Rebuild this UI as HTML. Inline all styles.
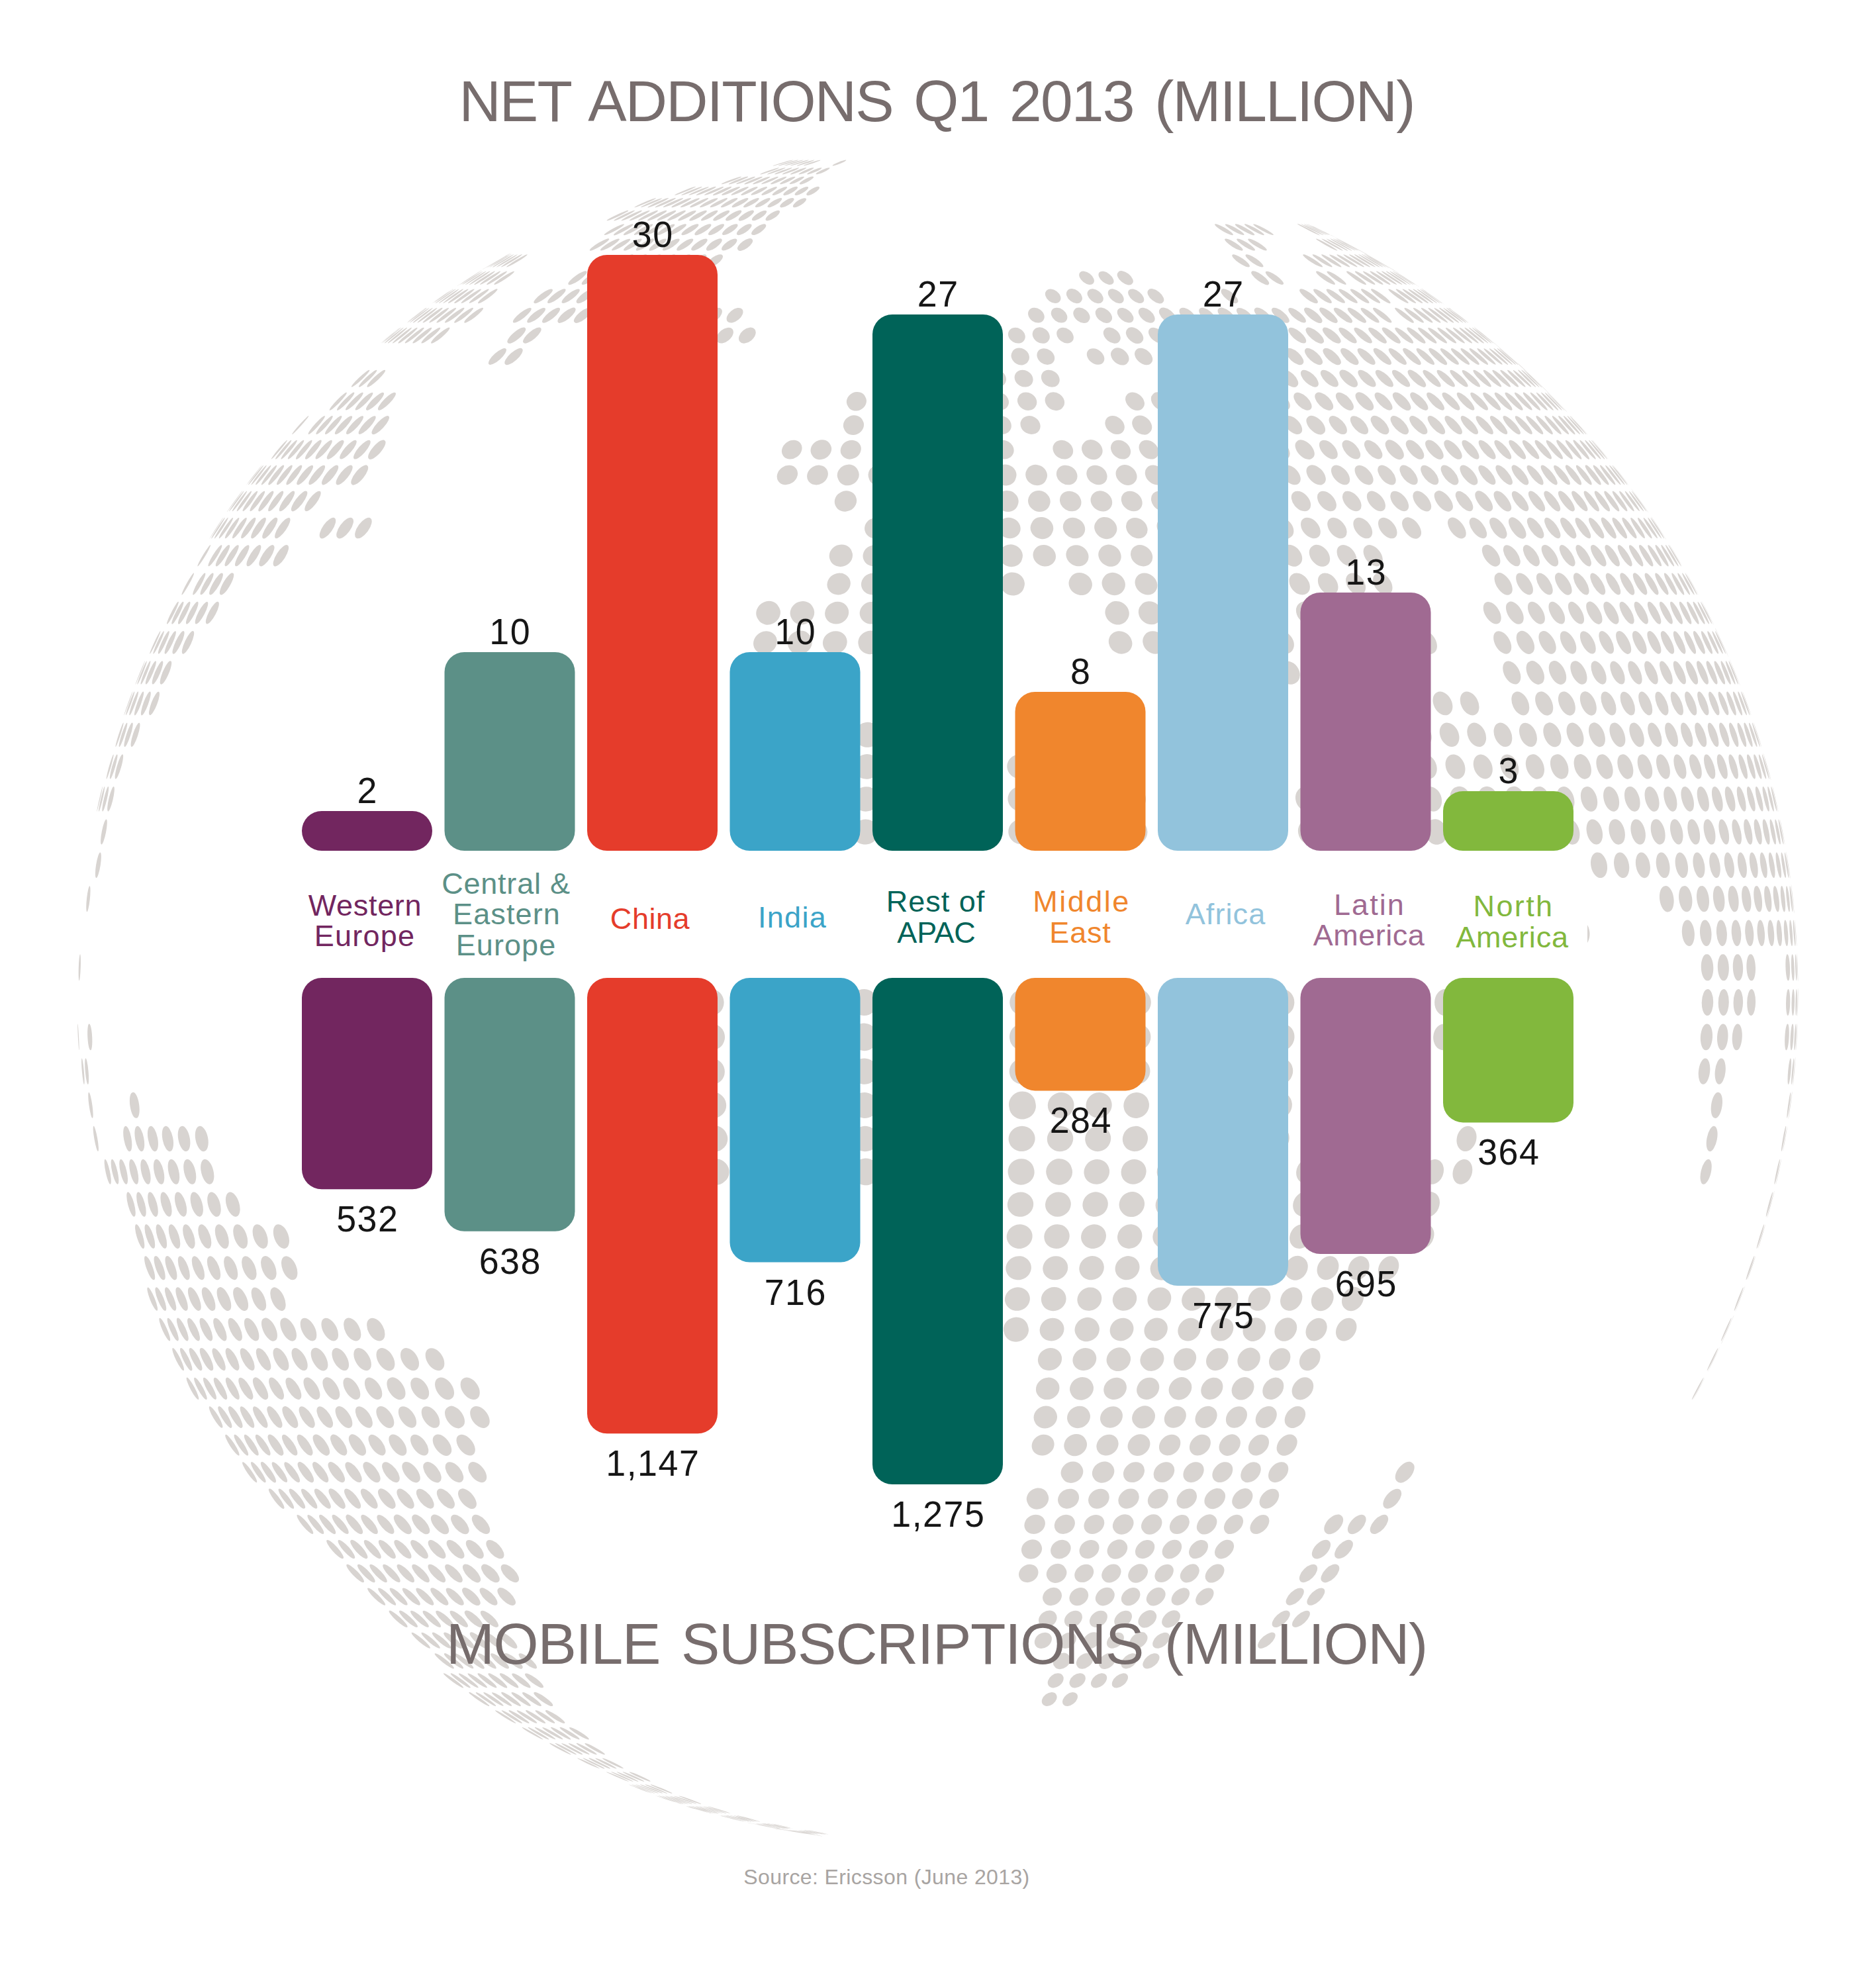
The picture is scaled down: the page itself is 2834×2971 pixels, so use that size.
<!DOCTYPE html><html><head><meta charset="utf-8"><title>Mobile subscriptions</title>
<style>html,body{margin:0;padding:0;background:#fff}svg{display:block}text{font-family:"Liberation Sans",sans-serif}</style></head><body>
<svg width="2834" height="2971" viewBox="0 0 2834 2971">
<rect width="2834" height="2971" fill="#fff"/>
<g id="dots" fill="#d8d4d1"><path d="M1198.3 241.7a15.9 0.7 164 1 0 -30.7 8.6a15.9 0.7 164 1 0 30.7 -8.6zM1205.7 241.7a15.5 0.8 164 1 0 -29.7 8.6a15.5 0.8 164 1 0 29.7 -8.6zM1213.5 241.7a15.0 0.8 163 1 0 -28.7 8.5a15.0 0.8 163 1 0 28.7 -8.5zM1221.7 241.7a14.5 0.9 163 1 0 -27.7 8.5a14.5 0.9 163 1 0 27.7 -8.5zM1230.3 241.8a13.9 1.0 162 1 0 -26.6 8.5a13.9 1.0 162 1 0 26.6 -8.5zM1239.2 241.8a13.4 1.1 162 1 0 -25.4 8.4a13.4 1.1 162 1 0 25.4 -8.4zM1278.3 241.9a11.1 1.5 158 1 0 -20.6 8.2a11.1 1.5 158 1 0 20.6 -8.2z"/>
<path d="M1176.8 253.4a15.1 1.1 161 1 0 -28.5 9.9a15.1 1.1 161 1 0 28.5 -9.9zM1186.5 253.4a14.6 1.2 160 1 0 -27.5 9.8a14.6 1.2 160 1 0 27.5 -9.8zM1196.6 253.4a14.1 1.3 160 1 0 -26.5 9.8a14.1 1.3 160 1 0 26.5 -9.8zM1207.2 253.5a13.6 1.4 159 1 0 -25.4 9.7a13.6 1.4 159 1 0 25.4 -9.7zM1218.2 253.5a13.1 1.6 158 1 0 -24.3 9.7a13.1 1.6 158 1 0 24.3 -9.7zM1229.5 253.5a12.5 1.7 157 1 0 -23.1 9.6a12.5 1.7 157 1 0 23.1 -9.6zM1241.3 253.6a12.0 1.8 157 1 0 -22.0 9.5a12.0 1.8 157 1 0 22.0 -9.5zM1253.4 253.6a11.4 2.0 156 1 0 -20.8 9.5a11.4 2.0 156 1 0 20.8 -9.5z"/>
<path d="M1119.9 266.9a16.1 1.3 160 1 0 -30.1 11.2a16.1 1.3 160 1 0 30.1 -11.2zM1130.0 266.9a15.7 1.4 159 1 0 -29.2 11.2a15.7 1.4 159 1 0 29.2 -11.2zM1140.7 266.9a15.2 1.5 159 1 0 -28.3 11.2a15.2 1.5 159 1 0 28.3 -11.2zM1151.8 267.0a14.8 1.6 158 1 0 -27.4 11.1a14.8 1.6 158 1 0 27.4 -11.1zM1163.5 267.0a14.3 1.7 157 1 0 -26.4 11.0a14.3 1.7 157 1 0 26.4 -11.0zM1175.7 267.0a13.8 1.8 157 1 0 -25.4 11.0a13.8 1.8 157 1 0 25.4 -11.0zM1188.3 267.1a13.3 2.0 156 1 0 -24.3 10.9a13.3 2.0 156 1 0 24.3 -10.9zM1201.4 267.1a12.8 2.1 155 1 0 -23.2 10.8a12.8 2.1 155 1 0 23.2 -10.8zM1214.9 267.1a12.3 2.3 154 1 0 -22.2 10.7a12.3 2.3 154 1 0 22.2 -10.7zM1228.9 267.2a11.8 2.5 153 1 0 -21.0 10.6a11.8 2.5 153 1 0 21.0 -10.6z"/>
<path d="M1051.1 282.1a17.2 1.2 158 1 0 -32.0 12.6a17.2 1.2 158 1 0 32.0 -12.6zM1060.6 282.2a16.9 1.3 158 1 0 -31.4 12.6a16.9 1.3 158 1 0 31.4 -12.6zM1070.8 282.2a16.5 1.4 158 1 0 -30.6 12.6a16.5 1.4 158 1 0 30.6 -12.6zM1081.6 282.2a16.2 1.6 157 1 0 -29.8 12.5a16.2 1.6 157 1 0 29.8 -12.5zM1093.1 282.2a15.8 1.7 157 1 0 -29.0 12.5a15.8 1.7 157 1 0 29.0 -12.5zM1105.1 282.3a15.4 1.8 156 1 0 -28.1 12.4a15.4 1.8 156 1 0 28.1 -12.4zM1117.7 282.3a15.0 2.0 156 1 0 -27.2 12.3a15.0 2.0 156 1 0 27.2 -12.3zM1130.9 282.3a14.5 2.1 155 1 0 -26.3 12.3a14.5 2.1 155 1 0 26.3 -12.3zM1144.7 282.4a14.1 2.3 154 1 0 -25.4 12.2a14.1 2.3 154 1 0 25.4 -12.2zM1159.0 282.4a13.6 2.4 154 1 0 -24.4 12.1a13.6 2.4 154 1 0 24.4 -12.1zM1173.8 282.5a13.1 2.6 153 1 0 -23.4 12.0a13.1 2.6 153 1 0 23.4 -12.0zM1189.1 282.5a12.6 2.8 152 1 0 -22.3 11.9a12.6 2.8 152 1 0 22.3 -11.9zM1204.8 282.6a12.2 3.0 151 1 0 -21.3 11.7a12.2 3.0 151 1 0 21.3 -11.7zM1221.0 282.7a11.7 3.2 150 1 0 -20.3 11.6a11.7 3.2 150 1 0 20.3 -11.6zM1237.7 282.8a11.2 3.4 149 1 0 -19.2 11.4a11.2 3.4 149 1 0 19.2 -11.4z"/>
<path d="M991.2 299.2a17.8 1.2 157 1 0 -32.8 14.0a17.8 1.2 157 1 0 32.8 -14.0zM1000.3 299.2a17.6 1.3 157 1 0 -32.2 13.9a17.6 1.3 157 1 0 32.2 -13.9zM1010.1 299.2a17.3 1.5 156 1 0 -31.6 13.9a17.3 1.5 156 1 0 31.6 -13.9zM1020.7 299.3a17.0 1.6 156 1 0 -31.0 13.8a17.0 1.6 156 1 0 31.0 -13.8zM1032.0 299.3a16.6 1.8 156 1 0 -30.3 13.8a16.6 1.8 156 1 0 30.3 -13.8zM1044.0 299.3a16.3 1.9 155 1 0 -29.5 13.7a16.3 1.9 155 1 0 29.5 -13.7zM1056.8 299.4a15.9 2.1 155 1 0 -28.8 13.7a15.9 2.1 155 1 0 28.8 -13.7zM1070.2 299.4a15.5 2.2 154 1 0 -28.0 13.6a15.5 2.2 154 1 0 28.0 -13.6zM1084.3 299.4a15.1 2.4 154 1 0 -27.1 13.5a15.1 2.4 154 1 0 27.1 -13.5zM1099.0 299.5a14.7 2.5 153 1 0 -26.3 13.4a14.7 2.5 153 1 0 26.3 -13.4zM1114.3 299.5a14.3 2.7 152 1 0 -25.4 13.3a14.3 2.7 152 1 0 25.4 -13.3zM1130.2 299.6a13.9 2.9 152 1 0 -24.4 13.2a13.9 2.9 152 1 0 24.4 -13.2zM1146.6 299.6a13.4 3.1 151 1 0 -23.5 13.1a13.4 3.1 151 1 0 23.5 -13.1zM1163.6 299.7a13.0 3.3 150 1 0 -22.6 12.9a13.0 3.3 150 1 0 22.6 -12.9zM1181.2 299.8a12.5 3.5 149 1 0 -21.6 12.8a12.5 3.5 149 1 0 21.6 -12.8zM1199.2 299.9a12.1 3.8 149 1 0 -20.6 12.6a12.1 3.8 149 1 0 20.6 -12.6zM1217.8 300.0a11.6 4.0 148 1 0 -19.7 12.4a11.6 4.0 148 1 0 19.7 -12.4z"/>
<path d="M949.1 318.0a17.9 1.5 155 1 0 -32.3 15.2a17.9 1.5 155 1 0 32.3 -15.2zM959.0 318.0a17.6 1.6 154 1 0 -31.8 15.2a17.6 1.6 154 1 0 31.8 -15.2zM969.8 318.1a17.3 1.8 154 1 0 -31.2 15.1a17.3 1.8 154 1 0 31.2 -15.1zM981.5 318.1a17.0 1.9 154 1 0 -30.6 15.1a17.0 1.9 154 1 0 30.6 -15.1zM993.9 318.1a16.7 2.1 153 1 0 -29.9 15.0a16.7 2.1 153 1 0 29.9 -15.0zM1007.2 318.2a16.4 2.3 153 1 0 -29.2 14.9a16.4 2.3 153 1 0 29.2 -14.9zM1021.2 318.2a16.1 2.4 153 1 0 -28.5 14.8a16.1 2.4 153 1 0 28.5 -14.8zM1035.9 318.2a15.7 2.6 152 1 0 -27.8 14.8a15.7 2.6 152 1 0 27.8 -14.8zM1051.4 318.3a15.4 2.8 152 1 0 -27.0 14.7a15.4 2.8 152 1 0 27.0 -14.7zM1067.6 318.4a15.0 3.0 151 1 0 -26.2 14.5a15.0 3.0 151 1 0 26.2 -14.5zM1084.4 318.4a14.6 3.2 150 1 0 -25.4 14.4a14.6 3.2 150 1 0 25.4 -14.4zM1101.9 318.5a14.2 3.4 150 1 0 -24.5 14.3a14.2 3.4 150 1 0 24.5 -14.3zM1120.0 318.5a13.8 3.6 149 1 0 -23.6 14.1a13.8 3.6 149 1 0 23.6 -14.1zM1138.7 318.6a13.4 3.9 148 1 0 -22.8 14.0a13.4 3.9 148 1 0 22.8 -14.0zM1158.0 318.7a12.9 4.1 148 1 0 -21.9 13.8a12.9 4.1 148 1 0 21.9 -13.8zM1177.8 318.8a12.5 4.4 147 1 0 -21.0 13.6a12.5 4.4 147 1 0 21.0 -13.6z"/>
<path d="M943.0 338.6a17.1 2.2 152 1 0 -30.2 16.2a17.1 2.2 152 1 0 30.2 -16.2zM956.6 338.7a16.9 2.4 151 1 0 -29.6 16.2a16.9 2.4 151 1 0 29.6 -16.2zM971.0 338.7a16.6 2.6 151 1 0 -28.9 16.1a16.6 2.6 151 1 0 28.9 -16.1zM986.3 338.7a16.2 2.8 151 1 0 -28.3 16.0a16.2 2.8 151 1 0 28.3 -16.0zM1002.4 338.8a15.9 3.0 150 1 0 -27.6 15.9a15.9 3.0 150 1 0 27.6 -15.9zM1019.2 338.9a15.6 3.2 150 1 0 -26.9 15.8a15.6 3.2 150 1 0 26.9 -15.8zM1036.8 338.9a15.2 3.5 149 1 0 -26.1 15.6a15.2 3.5 149 1 0 26.1 -15.6zM1055.1 339.0a14.9 3.7 149 1 0 -25.4 15.5a14.9 3.7 149 1 0 25.4 -15.5zM1074.2 339.1a14.5 3.9 148 1 0 -24.6 15.3a14.5 3.9 148 1 0 24.6 -15.3zM1093.9 339.1a14.1 4.2 147 1 0 -23.8 15.2a14.1 4.2 147 1 0 23.8 -15.2zM1114.3 339.2a13.7 4.4 147 1 0 -23.0 15.0a13.7 4.4 147 1 0 23.0 -15.0zM1135.3 339.3a13.3 4.7 146 1 0 -22.2 14.8a13.3 4.7 146 1 0 22.2 -14.8zM1156.9 339.4a12.9 4.9 146 1 0 -21.4 14.6a12.9 4.9 146 1 0 21.4 -14.6zM1835.1 338.8a16.0 3.0 30 1 0 27.8 15.9a16.0 3.0 30 1 0 -27.8 -15.9zM1850.9 338.7a16.3 2.8 29 1 0 28.5 16.0a16.3 2.8 29 1 0 -28.5 -16.0zM1865.9 338.7a16.7 2.6 29 1 0 29.2 16.1a16.7 2.6 29 1 0 -29.2 -16.1zM1880.0 338.6a16.9 2.4 29 1 0 29.8 16.2a16.9 2.4 29 1 0 -29.8 -16.2zM1893.3 338.6a17.2 2.2 28 1 0 30.4 16.3a17.2 2.2 28 1 0 -30.4 -16.3zM1960.2 338.4a18.6 1.0 27 1 0 33.4 16.6a18.6 1.0 27 1 0 -33.4 -16.6zM1965.7 338.4a18.8 0.8 26 1 0 33.6 16.7a18.8 0.8 26 1 0 -33.6 -16.7zM1970.1 338.4a18.9 0.6 26 1 0 33.8 16.7a18.9 0.6 26 1 0 -33.8 -16.7zM1973.4 338.4a18.9 0.4 26 1 0 34.0 16.7a18.9 0.4 26 1 0 -34.0 -16.7zM1975.5 338.4a19.0 0.2 26 1 0 34.0 16.7a19.0 0.2 26 1 0 -34.0 -16.7zM1976.5 338.4a19.0 0.1 26 1 0 34.1 16.7a19.0 0.1 26 1 0 -34.1 -16.7z"/>
<path d="M920.1 360.8a17.0 2.8 149 1 0 -29.2 17.3a17.0 2.8 149 1 0 29.2 -17.3zM935.7 360.9a16.7 3.0 149 1 0 -28.6 17.2a16.7 3.0 149 1 0 28.6 -17.2zM952.1 361.0a16.4 3.2 149 1 0 -28.0 17.1a16.4 3.2 149 1 0 28.0 -17.1zM969.5 361.0a16.1 3.5 148 1 0 -27.4 17.0a16.1 3.5 148 1 0 27.4 -17.0zM987.7 361.1a15.8 3.7 148 1 0 -26.7 16.8a15.8 3.7 148 1 0 26.7 -16.8zM1006.7 361.2a15.5 3.9 147 1 0 -26.1 16.7a15.5 3.9 147 1 0 26.1 -16.7zM1026.5 361.2a15.1 4.2 147 1 0 -25.4 16.5a15.1 4.2 147 1 0 25.4 -16.5zM1047.1 361.3a14.8 4.4 146 1 0 -24.7 16.4a14.8 4.4 146 1 0 24.7 -16.4zM1068.4 361.4a14.4 4.7 146 1 0 -23.9 16.2a14.4 4.7 146 1 0 23.9 -16.2zM1090.4 361.5a14.1 5.0 145 1 0 -23.2 16.0a14.1 5.0 145 1 0 23.2 -16.0zM1113.0 361.6a13.7 5.2 145 1 0 -22.5 15.8a13.7 5.2 145 1 0 22.5 -15.8zM1136.4 361.7a13.4 5.5 144 1 0 -21.7 15.5a13.4 5.5 144 1 0 21.7 -15.5zM1850.4 361.1a15.9 3.6 32 1 0 26.9 16.9a15.9 3.6 32 1 0 -26.9 -16.9zM1868.3 361.0a16.2 3.4 32 1 0 27.6 17.0a16.2 3.4 32 1 0 -27.6 -17.0zM1885.4 360.9a16.5 3.2 31 1 0 28.2 17.1a16.5 3.2 31 1 0 -28.2 -17.1zM1988.1 360.6a18.3 1.5 29 1 0 32.1 17.8a18.3 1.5 29 1 0 -32.1 -17.8zM1996.4 360.6a18.5 1.3 29 1 0 32.4 17.8a18.5 1.3 29 1 0 -32.4 -17.8zM2003.5 360.6a18.6 1.1 29 1 0 32.7 17.9a18.6 1.1 29 1 0 -32.7 -17.9zM2009.4 360.6a18.7 0.9 29 1 0 32.9 17.9a18.7 0.9 29 1 0 -32.9 -17.9zM2014.2 360.5a18.8 0.7 28 1 0 33.1 17.9a18.8 0.7 28 1 0 -33.1 -17.9zM2017.8 360.5a18.9 0.5 28 1 0 33.2 17.9a18.9 0.5 28 1 0 -33.2 -17.9zM2020.1 360.5a18.9 0.3 28 1 0 33.3 18.0a18.9 0.3 28 1 0 -33.3 -18.0zM2021.1 360.5a18.9 0.1 28 1 0 33.3 18.0a18.9 0.1 28 1 0 -33.3 -18.0z"/>
<path d="M767.7 384.3a18.9 0.2 150 1 0 -32.5 19.2a18.9 0.2 150 1 0 32.5 -19.2zM769.3 384.3a18.9 0.4 149 1 0 -32.5 19.2a18.9 0.4 149 1 0 32.5 -19.2zM772.2 384.3a18.8 0.6 149 1 0 -32.4 19.1a18.8 0.6 149 1 0 32.4 -19.1zM776.5 384.3a18.8 0.9 149 1 0 -32.3 19.1a18.8 0.9 149 1 0 32.3 -19.1zM782.0 384.3a18.7 1.1 149 1 0 -32.1 19.1a18.7 1.1 149 1 0 32.1 -19.1zM788.8 384.3a18.6 1.3 149 1 0 -31.9 19.0a18.6 1.3 149 1 0 31.9 -19.0zM796.7 384.4a18.4 1.6 149 1 0 -31.6 19.0a18.4 1.6 149 1 0 31.6 -19.0zM956.9 384.9a16.0 4.2 146 1 0 -26.6 17.9a16.0 4.2 146 1 0 26.6 -17.9zM977.3 385.0a15.7 4.4 146 1 0 -26.0 17.7a15.7 4.4 146 1 0 26.0 -17.7zM998.5 385.1a15.4 4.7 145 1 0 -25.3 17.6a15.4 4.7 145 1 0 25.3 -17.6zM1020.6 385.2a15.1 5.0 145 1 0 -24.7 17.4a15.1 5.0 145 1 0 24.7 -17.4zM1043.4 385.3a14.8 5.2 144 1 0 -24.1 17.2a14.8 5.2 144 1 0 24.1 -17.2zM1067.0 385.4a14.4 5.5 144 1 0 -23.4 17.0a14.4 5.5 144 1 0 23.4 -17.0zM1091.3 385.5a14.1 5.8 144 1 0 -22.7 16.7a14.1 5.8 144 1 0 22.7 -16.7zM1861.5 385.0a15.8 4.3 34 1 0 26.2 17.8a15.8 4.3 34 1 0 -26.2 -17.8zM1881.6 384.9a16.1 4.1 34 1 0 26.8 17.9a16.1 4.1 34 1 0 -26.8 -17.9zM1968.4 384.6a17.4 2.9 32 1 0 29.5 18.6a17.4 2.9 32 1 0 -29.5 -18.6zM1982.7 384.5a17.6 2.6 32 1 0 29.9 18.6a17.6 2.6 32 1 0 -29.9 -18.6zM1996.1 384.5a17.8 2.4 32 1 0 30.4 18.7a17.8 2.4 32 1 0 -30.4 -18.7zM2008.3 384.5a18.0 2.2 31 1 0 30.8 18.8a18.0 2.2 31 1 0 -30.8 -18.8zM2019.4 384.4a18.2 1.9 31 1 0 31.1 18.9a18.2 1.9 31 1 0 -31.1 -18.9zM2029.4 384.4a18.3 1.7 31 1 0 31.4 18.9a18.3 1.7 31 1 0 -31.4 -18.9zM2038.2 384.4a18.5 1.5 31 1 0 31.7 19.0a18.5 1.5 31 1 0 -31.7 -19.0zM2045.8 384.3a18.6 1.3 31 1 0 32.0 19.0a18.6 1.3 31 1 0 -32.0 -19.0zM2052.2 384.3a18.7 1.0 31 1 0 32.2 19.1a18.7 1.0 31 1 0 -32.2 -19.1zM2057.3 384.3a18.8 0.8 31 1 0 32.3 19.1a18.8 0.8 31 1 0 -32.3 -19.1zM2061.1 384.3a18.8 0.6 31 1 0 32.4 19.1a18.8 0.6 31 1 0 -32.4 -19.1zM2063.6 384.3a18.9 0.3 31 1 0 32.5 19.2a18.9 0.3 31 1 0 -32.5 -19.2zM2064.8 384.3a18.9 0.1 30 1 0 32.6 19.2a18.9 0.1 30 1 0 -32.6 -19.2z"/>
<path d="M725.2 409.6a18.8 0.2 147 1 0 -31.7 20.3a18.8 0.2 147 1 0 31.7 -20.3zM726.8 409.6a18.8 0.4 147 1 0 -31.7 20.3a18.8 0.4 147 1 0 31.7 -20.3zM729.9 409.6a18.8 0.7 147 1 0 -31.6 20.3a18.8 0.7 147 1 0 31.6 -20.3zM734.5 409.7a18.7 1.0 147 1 0 -31.5 20.3a18.7 1.0 147 1 0 31.5 -20.3zM740.3 409.7a18.7 1.2 147 1 0 -31.3 20.2a18.7 1.2 147 1 0 31.3 -20.2zM747.6 409.7a18.6 1.5 147 1 0 -31.1 20.2a18.6 1.5 147 1 0 31.1 -20.2zM756.1 409.7a18.4 1.8 147 1 0 -30.9 20.1a18.4 1.8 147 1 0 30.9 -20.1zM765.9 409.8a18.3 2.0 147 1 0 -30.7 20.1a18.3 2.0 147 1 0 30.7 -20.1zM776.9 409.8a18.2 2.3 147 1 0 -30.4 20.0a18.2 2.3 147 1 0 30.4 -20.0zM886.2 410.2a16.8 4.1 145 1 0 -27.5 19.2a16.8 4.1 145 1 0 27.5 -19.2zM906.0 410.3a16.5 4.4 145 1 0 -27.0 19.1a16.5 4.4 145 1 0 27.0 -19.1zM1631.3 411.8a13.0 8.0 38 1 0 20.5 16.0a13.0 8.0 38 1 0 -20.5 -16.0zM1660.5 411.6a13.3 7.6 38 1 0 21.0 16.5a13.3 7.6 38 1 0 -21.0 -16.5zM1689.0 411.4a13.7 7.3 38 1 0 21.5 16.8a13.7 7.3 38 1 0 -21.5 -16.8zM1890.7 410.4a16.1 4.8 36 1 0 26.0 18.8a16.1 4.8 36 1 0 -26.0 -18.8zM1912.1 410.3a16.3 4.5 35 1 0 26.6 19.0a16.3 4.5 35 1 0 -26.6 -19.0zM1988.2 410.0a17.3 3.5 34 1 0 28.6 19.5a17.3 3.5 34 1 0 -28.6 -19.5zM2004.6 410.0a17.5 3.2 34 1 0 29.0 19.6a17.5 3.2 34 1 0 -29.0 -19.6zM2034.1 409.9a17.9 2.7 34 1 0 29.8 19.9a17.9 2.7 34 1 0 -29.8 -19.9zM2047.1 409.8a18.1 2.4 33 1 0 30.1 19.9a18.1 2.4 33 1 0 -30.1 -19.9zM2059.0 409.8a18.2 2.2 33 1 0 30.5 20.0a18.2 2.2 33 1 0 -30.5 -20.0zM2069.6 409.8a18.4 1.9 33 1 0 30.7 20.1a18.4 1.9 33 1 0 -30.7 -20.1zM2079.0 409.7a18.5 1.7 33 1 0 31.0 20.2a18.5 1.7 33 1 0 -31.0 -20.2zM2087.1 409.7a18.6 1.4 33 1 0 31.2 20.2a18.6 1.4 33 1 0 -31.2 -20.2zM2093.9 409.7a18.7 1.2 33 1 0 31.4 20.3a18.7 1.2 33 1 0 -31.4 -20.3zM2099.4 409.7a18.7 0.9 33 1 0 31.5 20.3a18.7 0.9 33 1 0 -31.5 -20.3zM2103.5 409.6a18.8 0.6 33 1 0 31.6 20.3a18.8 0.6 33 1 0 -31.6 -20.3zM2106.2 409.6a18.8 0.4 33 1 0 31.7 20.3a18.8 0.4 33 1 0 -31.7 -20.3zM2107.4 409.6a18.8 0.1 33 1 0 31.7 20.4a18.8 0.1 33 1 0 -31.7 -20.4z"/>
<path d="M683.7 436.5a18.8 0.2 145 1 0 -30.9 21.5a18.8 0.2 145 1 0 30.9 -21.5zM685.4 436.5a18.8 0.5 145 1 0 -30.8 21.5a18.8 0.5 145 1 0 30.8 -21.5zM688.7 436.5a18.8 0.8 145 1 0 -30.8 21.5a18.8 0.8 145 1 0 30.8 -21.5zM693.5 436.6a18.7 1.1 145 1 0 -30.7 21.4a18.7 1.1 145 1 0 30.7 -21.4zM699.8 436.6a18.6 1.4 145 1 0 -30.5 21.4a18.6 1.4 145 1 0 30.5 -21.4zM707.4 436.6a18.6 1.7 145 1 0 -30.4 21.3a18.6 1.7 145 1 0 30.4 -21.3zM716.5 436.6a18.5 2.0 145 1 0 -30.2 21.3a18.5 2.0 145 1 0 30.2 -21.3zM726.8 436.7a18.3 2.2 145 1 0 -30.0 21.2a18.3 2.2 145 1 0 30.0 -21.2zM738.5 436.7a18.2 2.5 145 1 0 -29.7 21.1a18.2 2.5 145 1 0 29.7 -21.1zM751.5 436.8a18.1 2.8 144 1 0 -29.4 21.0a18.1 2.8 144 1 0 29.4 -21.0zM834.4 437.1a17.2 4.2 144 1 0 -27.6 20.4a17.2 4.2 144 1 0 27.6 -20.4zM854.4 437.1a16.9 4.5 143 1 0 -27.2 20.2a16.9 4.5 143 1 0 27.2 -20.2zM875.5 437.2a16.7 4.8 143 1 0 -26.7 20.1a16.7 4.8 143 1 0 26.7 -20.1zM897.5 437.3a16.5 5.1 143 1 0 -26.2 19.9a16.5 5.1 143 1 0 26.2 -19.9zM1580.4 439.5a12.9 9.3 37 1 0 20.6 15.6a12.9 9.3 37 1 0 -20.6 -15.6zM1612.5 439.1a13.2 8.9 38 1 0 20.8 16.2a13.2 8.9 38 1 0 -20.8 -16.2zM1644.1 438.9a13.5 8.6 38 1 0 21.1 16.8a13.5 8.6 38 1 0 -21.1 -16.8zM1675.0 438.6a13.8 8.2 39 1 0 21.5 17.3a13.8 8.2 39 1 0 -21.5 -17.3zM1705.2 438.4a14.1 7.9 39 1 0 22.0 17.7a14.1 7.9 39 1 0 -22.0 -17.7zM1734.7 438.3a14.4 7.5 39 1 0 22.4 18.0a14.4 7.5 39 1 0 -22.4 -18.0zM1845.2 437.7a15.5 6.2 38 1 0 24.4 19.1a15.5 6.2 38 1 0 -24.4 -19.1zM1963.6 437.2a16.8 4.7 37 1 0 26.8 20.1a16.8 4.7 37 1 0 -26.8 -20.1zM1984.3 437.1a17.0 4.4 37 1 0 27.3 20.3a17.0 4.4 37 1 0 -27.3 -20.3zM2003.9 437.0a17.2 4.1 36 1 0 27.7 20.4a17.2 4.1 36 1 0 -27.7 -20.4zM2022.5 437.0a17.4 3.8 36 1 0 28.1 20.6a17.4 3.8 36 1 0 -28.1 -20.6zM2039.9 436.9a17.6 3.6 36 1 0 28.5 20.7a17.6 3.6 36 1 0 -28.5 -20.7zM2056.1 436.8a17.8 3.3 36 1 0 28.9 20.8a17.8 3.3 36 1 0 -28.9 -20.8zM2071.2 436.8a18.0 3.0 36 1 0 29.2 20.9a18.0 3.0 36 1 0 -29.2 -20.9zM2097.6 436.7a18.3 2.4 35 1 0 29.8 21.1a18.3 2.4 35 1 0 -29.8 -21.1zM2108.9 436.7a18.4 2.2 35 1 0 30.0 21.2a18.4 2.2 35 1 0 -30.0 -21.2zM2118.8 436.6a18.5 1.9 35 1 0 30.2 21.3a18.5 1.9 35 1 0 -30.2 -21.3zM2127.4 436.6a18.6 1.6 35 1 0 30.4 21.3a18.6 1.6 35 1 0 -30.4 -21.3zM2134.6 436.6a18.7 1.3 35 1 0 30.6 21.4a18.7 1.3 35 1 0 -30.6 -21.4zM2140.4 436.5a18.7 1.0 35 1 0 30.7 21.4a18.7 1.0 35 1 0 -30.7 -21.4zM2144.8 436.5a18.8 0.7 35 1 0 30.8 21.5a18.8 0.7 35 1 0 -30.8 -21.5zM2147.6 436.5a18.8 0.4 35 1 0 30.9 21.5a18.8 0.4 35 1 0 -30.9 -21.5zM2148.9 436.5a18.8 0.1 35 1 0 30.9 21.5a18.8 0.1 35 1 0 -30.9 -21.5z"/>
<path d="M643.3 464.9a18.8 0.2 143 1 0 -30.0 22.6a18.8 0.2 143 1 0 30.0 -22.6zM645.1 464.9a18.8 0.6 143 1 0 -30.0 22.6a18.8 0.6 143 1 0 30.0 -22.6zM648.6 464.9a18.7 0.9 143 1 0 -29.9 22.6a18.7 0.9 143 1 0 29.9 -22.6zM653.7 465.0a18.7 1.2 143 1 0 -29.8 22.5a18.7 1.2 143 1 0 29.8 -22.5zM660.3 465.0a18.6 1.5 143 1 0 -29.7 22.5a18.6 1.5 143 1 0 29.7 -22.5zM668.4 465.0a18.6 1.9 143 1 0 -29.6 22.4a18.6 1.9 143 1 0 29.6 -22.4zM677.9 465.0a18.5 2.2 143 1 0 -29.4 22.4a18.5 2.2 143 1 0 29.4 -22.4zM688.9 465.1a18.4 2.5 143 1 0 -29.2 22.3a18.4 2.5 143 1 0 29.2 -22.3zM701.2 465.1a18.3 2.8 143 1 0 -29.0 22.2a18.3 2.8 143 1 0 29.0 -22.2zM714.9 465.2a18.1 3.1 142 1 0 -28.7 22.1a18.1 3.1 142 1 0 28.7 -22.1zM729.9 465.2a18.0 3.4 142 1 0 -28.5 22.0a18.0 3.4 142 1 0 28.5 -22.0zM802.4 465.5a17.3 4.6 142 1 0 -27.2 21.4a17.3 4.6 142 1 0 27.2 -21.4zM823.5 465.6a17.1 5.0 142 1 0 -26.8 21.3a17.1 5.0 142 1 0 26.8 -21.3zM845.7 465.7a16.9 5.3 141 1 0 -26.4 21.1a16.9 5.3 141 1 0 26.4 -21.1zM869.0 465.8a16.7 5.6 141 1 0 -26.0 20.9a16.7 5.6 141 1 0 26.0 -20.9zM893.3 465.9a16.5 5.9 141 1 0 -25.6 20.7a16.5 5.9 141 1 0 25.6 -20.7zM1089.8 466.9a14.7 8.2 140 1 0 -22.7 18.7a14.7 8.2 140 1 0 22.7 -18.7zM1121.2 467.1a14.4 8.6 141 1 0 -22.3 18.3a14.4 8.6 141 1 0 22.3 -18.3zM1554.6 468.6a13.2 10.3 35 1 0 21.6 15.2a13.2 10.3 35 1 0 -21.6 -15.2zM1589.3 468.1a13.4 9.9 37 1 0 21.5 16.2a13.4 9.9 37 1 0 -21.5 -16.2zM1623.2 467.8a13.7 9.5 38 1 0 21.5 16.9a13.7 9.5 38 1 0 -21.5 -16.9zM1656.5 467.5a14.0 9.2 39 1 0 21.8 17.5a14.0 9.2 39 1 0 -21.8 -17.5zM1689.1 467.2a14.2 8.8 39 1 0 22.0 18.0a14.2 8.8 39 1 0 -22.0 -18.0zM1721.0 467.0a14.5 8.5 40 1 0 22.4 18.5a14.5 8.5 40 1 0 -22.4 -18.5zM1752.2 466.8a14.8 8.1 40 1 0 22.8 18.8a14.8 8.1 40 1 0 -22.8 -18.8zM1782.5 466.6a15.0 7.8 40 1 0 23.2 19.2a15.0 7.8 40 1 0 -23.2 -19.2zM1812.1 466.5a15.3 7.4 40 1 0 23.6 19.5a15.3 7.4 40 1 0 -23.6 -19.5zM1840.8 466.3a15.6 7.1 39 1 0 24.0 19.8a15.6 7.1 39 1 0 -24.0 -19.8zM1868.7 466.2a15.8 6.8 39 1 0 24.5 20.1a15.8 6.8 39 1 0 -24.5 -20.1zM1895.7 466.1a16.1 6.5 39 1 0 24.9 20.3a16.1 6.5 39 1 0 -24.9 -20.3zM1921.7 466.0a16.3 6.1 39 1 0 25.3 20.5a16.3 6.1 39 1 0 -25.3 -20.5zM1946.7 465.9a16.5 5.8 39 1 0 25.7 20.7a16.5 5.8 39 1 0 -25.7 -20.7zM1970.7 465.8a16.8 5.5 39 1 0 26.1 20.9a16.8 5.5 39 1 0 -26.1 -20.9zM1993.7 465.7a17.0 5.2 39 1 0 26.5 21.1a17.0 5.2 39 1 0 -26.5 -21.1zM2015.5 465.6a17.2 4.9 38 1 0 26.9 21.3a17.2 4.9 38 1 0 -26.9 -21.3zM2036.2 465.5a17.4 4.5 38 1 0 27.3 21.5a17.4 4.5 38 1 0 -27.3 -21.5zM2055.8 465.4a17.5 4.2 38 1 0 27.6 21.6a17.5 4.2 38 1 0 -27.6 -21.6zM2074.2 465.3a17.7 3.9 38 1 0 28.0 21.8a17.7 3.9 38 1 0 -28.0 -21.8zM2107.2 465.2a18.0 3.3 38 1 0 28.6 22.0a18.0 3.3 38 1 0 -28.6 -22.0zM2121.8 465.2a18.2 3.0 37 1 0 28.8 22.1a18.2 3.0 37 1 0 -28.8 -22.1zM2135.1 465.1a18.3 2.7 37 1 0 29.1 22.2a18.3 2.7 37 1 0 -29.1 -22.2zM2147.0 465.1a18.4 2.4 37 1 0 29.3 22.3a18.4 2.4 37 1 0 -29.3 -22.3zM2157.5 465.0a18.5 2.1 37 1 0 29.5 22.4a18.5 2.1 37 1 0 -29.5 -22.4zM2166.6 465.0a18.6 1.8 37 1 0 29.6 22.5a18.6 1.8 37 1 0 -29.6 -22.5zM2174.3 465.0a18.7 1.4 37 1 0 29.8 22.5a18.7 1.4 37 1 0 -29.8 -22.5zM2180.4 464.9a18.7 1.1 37 1 0 29.9 22.6a18.7 1.1 37 1 0 -29.9 -22.6zM2184.9 464.9a18.8 0.8 37 1 0 29.9 22.6a18.8 0.8 37 1 0 -29.9 -22.6zM2187.9 464.9a18.8 0.5 37 1 0 30.0 22.6a18.8 0.5 37 1 0 -30.0 -22.6zM2189.3 464.9a18.8 0.1 37 1 0 30.0 22.6a18.8 0.1 37 1 0 -30.0 -22.6z"/>
<path d="M604.1 494.8a18.8 0.2 141 1 0 -29.1 23.7a18.8 0.2 141 1 0 29.1 -23.7zM606.0 494.8a18.8 0.6 141 1 0 -29.1 23.7a18.8 0.6 141 1 0 29.1 -23.7zM609.7 494.8a18.7 1.0 141 1 0 -29.0 23.7a18.7 1.0 141 1 0 29.0 -23.7zM615.0 494.8a18.7 1.3 141 1 0 -28.9 23.6a18.7 1.3 141 1 0 28.9 -23.6zM621.9 494.9a18.6 1.7 141 1 0 -28.9 23.6a18.6 1.7 141 1 0 28.9 -23.6zM630.4 494.9a18.6 2.0 141 1 0 -28.7 23.5a18.6 2.0 141 1 0 28.7 -23.5zM640.5 494.9a18.5 2.4 141 1 0 -28.6 23.4a18.5 2.4 141 1 0 28.6 -23.4zM652.0 495.0a18.4 2.7 141 1 0 -28.4 23.3a18.4 2.7 141 1 0 28.4 -23.3zM665.0 495.0a18.3 3.1 141 1 0 -28.3 23.2a18.3 3.1 141 1 0 28.3 -23.2zM679.3 495.1a18.2 3.4 140 1 0 -28.1 23.1a18.2 3.4 140 1 0 28.1 -23.1zM793.5 495.5a17.3 5.4 140 1 0 -26.4 22.2a17.3 5.4 140 1 0 26.4 -22.2zM816.9 495.6a17.1 5.7 140 1 0 -26.1 22.0a17.1 5.7 140 1 0 26.1 -22.0zM1106.4 497.1a14.8 9.2 140 1 0 -22.7 19.1a14.8 9.2 140 1 0 22.7 -19.1zM1140.1 497.3a14.6 9.5 140 1 0 -22.5 18.6a14.6 9.5 140 1 0 22.5 -18.6zM1524.3 499.7a13.5 11.2 31 1 0 23.1 14.0a13.5 11.2 31 1 0 -23.1 -14.0zM1561.5 498.8a13.7 10.9 35 1 0 22.5 15.6a13.7 10.9 35 1 0 -22.5 -15.6zM1597.9 498.3a13.9 10.5 37 1 0 22.3 16.8a13.9 10.5 37 1 0 -22.3 -16.8zM1668.6 497.5a14.4 9.8 39 1 0 22.3 18.2a14.4 9.8 39 1 0 -22.3 -18.2zM1702.8 497.3a14.7 9.4 40 1 0 22.5 18.8a14.7 9.4 40 1 0 -22.5 -18.8zM1736.4 497.0a14.9 9.1 40 1 0 22.8 19.3a14.9 9.1 40 1 0 -22.8 -19.3zM1769.1 496.8a15.2 8.7 40 1 0 23.1 19.7a15.2 8.7 40 1 0 -23.1 -19.7zM1801.0 496.6a15.4 8.4 41 1 0 23.4 20.0a15.4 8.4 41 1 0 -23.4 -20.0zM1832.1 496.5a15.6 8.0 41 1 0 23.8 20.4a15.6 8.0 41 1 0 -23.8 -20.4zM1862.3 496.3a15.9 7.7 41 1 0 24.1 20.7a15.9 7.7 41 1 0 -24.1 -20.7zM1891.6 496.2a16.1 7.3 41 1 0 24.5 21.0a16.1 7.3 41 1 0 -24.5 -21.0zM1919.9 496.0a16.3 7.0 41 1 0 24.8 21.2a16.3 7.0 41 1 0 -24.8 -21.2zM1947.2 495.9a16.5 6.6 40 1 0 25.2 21.5a16.5 6.6 40 1 0 -25.2 -21.5zM1973.5 495.8a16.8 6.3 40 1 0 25.5 21.7a16.8 6.3 40 1 0 -25.5 -21.7zM1998.8 495.7a17.0 6.0 40 1 0 25.9 21.9a17.0 6.0 40 1 0 -25.9 -21.9zM2022.9 495.6a17.1 5.6 40 1 0 26.2 22.1a17.1 5.6 40 1 0 -26.2 -22.1zM2045.9 495.5a17.3 5.3 40 1 0 26.5 22.3a17.3 5.3 40 1 0 -26.5 -22.3zM2067.6 495.4a17.5 5.0 40 1 0 26.8 22.5a17.5 5.0 40 1 0 -26.8 -22.5zM2088.2 495.3a17.7 4.6 40 1 0 27.1 22.6a17.7 4.6 40 1 0 -27.1 -22.6zM2107.5 495.3a17.8 4.3 40 1 0 27.4 22.8a17.8 4.3 40 1 0 -27.4 -22.8zM2125.6 495.2a18.0 4.0 40 1 0 27.7 22.9a18.0 4.0 40 1 0 -27.7 -22.9zM2142.3 495.1a18.1 3.6 40 1 0 27.9 23.1a18.1 3.6 40 1 0 -27.9 -23.1zM2157.6 495.1a18.2 3.3 39 1 0 28.1 23.2a18.2 3.3 39 1 0 -28.1 -23.2zM2171.6 495.0a18.3 3.0 39 1 0 28.3 23.3a18.3 3.0 39 1 0 -28.3 -23.3zM2184.1 495.0a18.4 2.6 39 1 0 28.5 23.4a18.4 2.6 39 1 0 -28.5 -23.4zM2195.1 494.9a18.5 2.3 39 1 0 28.7 23.5a18.5 2.3 39 1 0 -28.7 -23.5zM2204.7 494.9a18.6 1.9 39 1 0 28.8 23.5a18.6 1.9 39 1 0 -28.8 -23.5zM2212.7 494.8a18.7 1.6 39 1 0 28.9 23.6a18.7 1.6 39 1 0 -28.9 -23.6zM2219.1 494.8a18.7 1.2 39 1 0 29.0 23.6a18.7 1.2 39 1 0 -29.0 -23.6zM2224.0 494.8a18.7 0.9 39 1 0 29.0 23.7a18.7 0.9 39 1 0 -29.0 -23.7zM2227.1 494.8a18.8 0.5 39 1 0 29.1 23.7a18.8 0.5 39 1 0 -29.1 -23.7zM2228.5 494.8a18.8 0.1 39 1 0 29.1 23.7a18.8 0.1 39 1 0 -29.1 -23.7z"/>
<path d="M764.4 526.9a17.4 5.8 138 1 0 -26.0 23.2a17.4 5.8 138 1 0 26.0 -23.2zM788.9 527.0a17.3 6.2 138 1 0 -25.8 23.0a17.3 6.2 138 1 0 25.8 -23.0zM1529.2 531.4a14.0 11.8 31 1 0 24.1 14.2a14.0 11.8 31 1 0 -24.1 -14.2zM1568.1 530.5a14.2 11.4 34 1 0 23.4 16.1a14.2 11.4 34 1 0 -23.4 -16.1zM1643.6 529.4a14.6 10.7 38 1 0 22.9 18.2a14.6 10.7 38 1 0 -22.9 -18.2zM1680.3 529.0a14.9 10.4 40 1 0 22.9 18.9a14.9 10.4 40 1 0 -22.9 -18.9zM1716.1 528.7a15.1 10.0 40 1 0 23.0 19.5a15.1 10.0 40 1 0 -23.0 -19.5zM1751.2 528.5a15.3 9.7 41 1 0 23.2 20.0a15.3 9.7 41 1 0 -23.2 -20.0zM1785.5 528.2a15.5 9.3 41 1 0 23.4 20.5a15.5 9.3 41 1 0 -23.4 -20.5zM1818.9 528.1a15.8 8.9 41 1 0 23.6 20.9a15.8 8.9 41 1 0 -23.6 -20.9zM1851.5 527.9a16.0 8.6 42 1 0 23.9 21.2a16.0 8.6 42 1 0 -23.9 -21.2zM1883.1 527.7a16.2 8.2 42 1 0 24.2 21.5a16.2 8.2 42 1 0 -24.2 -21.5zM1913.7 527.6a16.4 7.9 42 1 0 24.5 21.8a16.4 7.9 42 1 0 -24.5 -21.8zM1943.4 527.4a16.6 7.5 42 1 0 24.7 22.1a16.6 7.5 42 1 0 -24.7 -22.1zM1972.0 527.3a16.8 7.1 42 1 0 25.0 22.4a16.8 7.1 42 1 0 -25.0 -22.4zM1999.5 527.2a17.0 6.8 42 1 0 25.3 22.6a17.0 6.8 42 1 0 -25.3 -22.6zM2026.0 527.1a17.2 6.4 42 1 0 25.6 22.9a17.2 6.4 42 1 0 -25.6 -22.9zM2051.2 526.9a17.3 6.1 42 1 0 25.9 23.1a17.3 6.1 42 1 0 -25.9 -23.1zM2075.3 526.8a17.5 5.7 42 1 0 26.1 23.3a17.5 5.7 42 1 0 -26.1 -23.3zM2098.1 526.8a17.6 5.4 42 1 0 26.4 23.4a17.6 5.4 42 1 0 -26.4 -23.4zM2119.6 526.7a17.8 5.0 42 1 0 26.6 23.6a17.8 5.0 42 1 0 -26.6 -23.6zM2139.9 526.6a17.9 4.7 42 1 0 26.8 23.8a17.9 4.7 42 1 0 -26.8 -23.8zM2158.7 526.5a18.1 4.3 42 1 0 27.0 23.9a18.1 4.3 42 1 0 -27.0 -23.9zM2176.2 526.4a18.2 3.9 41 1 0 27.2 24.1a18.2 3.9 41 1 0 -27.2 -24.1zM2192.3 526.4a18.3 3.6 41 1 0 27.4 24.2a18.3 3.6 41 1 0 -27.4 -24.2zM2206.9 526.3a18.4 3.2 41 1 0 27.5 24.3a18.4 3.2 41 1 0 -27.5 -24.3zM2220.0 526.3a18.5 2.9 41 1 0 27.7 24.4a18.5 2.9 41 1 0 -27.7 -24.4zM2231.6 526.2a18.5 2.5 41 1 0 27.8 24.5a18.5 2.5 41 1 0 -27.8 -24.5zM2241.6 526.2a18.6 2.1 41 1 0 27.9 24.6a18.6 2.1 41 1 0 -27.9 -24.6zM2250.0 526.2a18.6 1.7 41 1 0 28.0 24.7a18.6 1.7 41 1 0 -28.0 -24.7zM2256.7 526.1a18.7 1.3 41 1 0 28.1 24.7a18.7 1.3 41 1 0 -28.1 -24.7zM2261.8 526.1a18.7 1.0 41 1 0 28.1 24.7a18.7 1.0 41 1 0 -28.1 -24.7zM2265.0 526.1a18.7 0.5 41 1 0 28.1 24.8a18.7 0.5 41 1 0 -28.1 -24.8zM2266.5 526.1a18.7 0.1 41 1 0 28.1 24.8a18.7 0.1 41 1 0 -28.1 -24.8z"/>
<path d="M558.1 558.9a18.6 2.4 137 1 0 -27.0 25.6a18.6 2.4 137 1 0 27.0 -25.6zM569.1 558.9a18.5 2.8 137 1 0 -26.9 25.5a18.5 2.8 137 1 0 26.9 -25.5zM581.7 559.0a18.5 3.2 137 1 0 -26.8 25.4a18.5 3.2 137 1 0 26.8 -25.4zM1492.6 566.0a14.4 12.6 23 1 0 26.5 11.4a14.4 12.6 23 1 0 -26.5 -11.4zM1534.0 564.5a14.5 12.3 30 1 0 25.2 14.4a14.5 12.3 30 1 0 -25.2 -14.4zM1574.6 563.5a14.7 12.0 34 1 0 24.4 16.4a14.7 12.0 34 1 0 -24.4 -16.4zM1801.4 561.1a15.9 9.9 42 1 0 23.6 21.3a15.9 9.9 42 1 0 -23.6 -21.3zM1836.2 560.9a16.1 9.5 42 1 0 23.8 21.7a16.1 9.5 42 1 0 -23.8 -21.7zM1870.2 560.7a16.3 9.1 43 1 0 24.0 22.0a16.3 9.1 43 1 0 -24.0 -22.0zM1903.2 560.5a16.5 8.8 43 1 0 24.2 22.4a16.5 8.8 43 1 0 -24.2 -22.4zM1935.2 560.3a16.7 8.4 43 1 0 24.4 22.7a16.7 8.4 43 1 0 -24.4 -22.7zM1966.1 560.2a16.8 8.0 43 1 0 24.6 23.0a16.8 8.0 43 1 0 -24.6 -23.0zM1996.0 560.0a17.0 7.7 43 1 0 24.8 23.3a17.0 7.7 43 1 0 -24.8 -23.3zM2024.7 559.9a17.2 7.3 43 1 0 25.0 23.5a17.2 7.3 43 1 0 -25.0 -23.5zM2052.3 559.8a17.3 6.9 43 1 0 25.3 23.8a17.3 6.9 43 1 0 -25.3 -23.8zM2078.6 559.7a17.5 6.5 43 1 0 25.5 24.0a17.5 6.5 43 1 0 -25.5 -24.0zM2103.7 559.6a17.6 6.2 43 1 0 25.7 24.2a17.6 6.2 43 1 0 -25.7 -24.2zM2127.5 559.5a17.8 5.8 43 1 0 25.8 24.4a17.8 5.8 43 1 0 -25.8 -24.4zM2150.0 559.4a17.9 5.4 43 1 0 26.0 24.6a17.9 5.4 43 1 0 -26.0 -24.6zM2171.1 559.3a18.0 5.0 43 1 0 26.2 24.8a18.0 5.0 43 1 0 -26.2 -24.8zM2190.8 559.2a18.1 4.7 43 1 0 26.3 24.9a18.1 4.7 43 1 0 -26.3 -24.9zM2209.1 559.2a18.2 4.3 43 1 0 26.5 25.1a18.2 4.3 43 1 0 -26.5 -25.1zM2225.8 559.1a18.3 3.9 43 1 0 26.6 25.2a18.3 3.9 43 1 0 -26.6 -25.2zM2241.1 559.0a18.4 3.5 43 1 0 26.7 25.3a18.4 3.5 43 1 0 -26.7 -25.3zM2254.8 559.0a18.5 3.1 43 1 0 26.8 25.4a18.5 3.1 43 1 0 -26.8 -25.4zM2266.8 558.9a18.6 2.7 43 1 0 26.9 25.5a18.6 2.7 43 1 0 -26.9 -25.5zM2277.3 558.9a18.6 2.3 43 1 0 27.0 25.6a18.6 2.3 43 1 0 -27.0 -25.6zM2286.0 558.9a18.7 1.9 43 1 0 27.1 25.7a18.7 1.9 43 1 0 -27.1 -25.7zM2293.1 558.8a18.7 1.5 44 1 0 27.1 25.7a18.7 1.5 44 1 0 -27.1 -25.7zM2298.3 558.8a18.7 1.0 44 1 0 27.1 25.8a18.7 1.0 44 1 0 -27.1 -25.8zM2301.8 558.8a18.7 0.6 44 1 0 27.2 25.8a18.7 0.6 44 1 0 -27.2 -25.8zM2303.3 558.8a18.7 0.1 44 1 0 27.2 25.8a18.7 0.1 44 1 0 -27.2 -25.8z"/>
<path d="M523.8 593.0a18.6 2.6 134 1 0 -26.0 26.6a18.6 2.6 134 1 0 26.0 -26.6zM535.2 593.0a18.6 3.0 134 1 0 -26.0 26.5a18.6 3.0 134 1 0 26.0 -26.5zM548.3 593.0a18.5 3.5 135 1 0 -25.9 26.4a18.5 3.5 135 1 0 25.9 -26.4zM563.0 593.1a18.4 3.9 135 1 0 -25.9 26.3a18.4 3.9 135 1 0 25.9 -26.3zM579.4 593.2a18.4 4.3 135 1 0 -25.8 26.1a18.4 4.3 135 1 0 25.8 -26.1zM597.3 593.2a18.3 4.7 135 1 0 -25.7 26.0a18.3 4.7 135 1 0 25.7 -26.0zM1280.6 613.1a15.0 13.0 -27 1 0 26.6 -13.7a15.0 13.0 -27 1 0 -26.6 13.7zM1495.5 600.6a14.9 13.1 22 1 0 27.6 11.3a14.9 13.1 22 1 0 -27.6 -11.3zM1538.5 598.9a15.0 12.9 29 1 0 26.2 14.6a15.0 12.9 29 1 0 -26.2 -14.6zM1580.7 597.8a15.2 12.6 34 1 0 25.3 16.8a15.2 12.6 34 1 0 -25.3 -16.8zM1702.5 596.1a15.7 11.5 40 1 0 24.0 20.2a15.7 11.5 40 1 0 -24.0 -20.2zM1741.4 595.8a15.9 11.2 41 1 0 23.9 20.9a15.9 11.2 41 1 0 -23.9 -20.9zM1779.5 595.5a16.1 10.8 42 1 0 23.8 21.5a16.1 10.8 42 1 0 -23.8 -21.5zM1816.7 595.2a16.2 10.4 43 1 0 23.9 22.0a16.2 10.4 43 1 0 -23.9 -22.0zM1852.9 595.0a16.4 10.0 43 1 0 23.9 22.5a16.4 10.0 43 1 0 -23.9 -22.5zM1888.3 594.8a16.6 9.7 44 1 0 24.0 22.9a16.6 9.7 44 1 0 -24.0 -22.9zM1922.6 594.6a16.8 9.3 44 1 0 24.2 23.2a16.8 9.3 44 1 0 -24.2 -23.2zM1955.8 594.5a16.9 8.9 44 1 0 24.3 23.6a16.9 8.9 44 1 0 -24.3 -23.6zM1988.0 594.3a17.1 8.5 44 1 0 24.4 23.9a17.1 8.5 44 1 0 -24.4 -23.9zM2019.1 594.2a17.2 8.2 45 1 0 24.6 24.2a17.2 8.2 45 1 0 -24.6 -24.2zM2049.0 594.0a17.4 7.8 45 1 0 24.7 24.4a17.4 7.8 45 1 0 -24.7 -24.4zM2077.6 593.9a17.5 7.4 45 1 0 24.9 24.7a17.5 7.4 45 1 0 -24.9 -24.7zM2105.1 593.8a17.7 7.0 45 1 0 25.0 24.9a17.7 7.0 45 1 0 -25.0 -24.9zM2131.2 593.7a17.8 6.6 45 1 0 25.2 25.1a17.8 6.6 45 1 0 -25.2 -25.1zM2155.9 593.6a17.9 6.2 45 1 0 25.3 25.4a17.9 6.2 45 1 0 -25.3 -25.4zM2179.3 593.5a18.0 5.8 45 1 0 25.4 25.5a18.0 5.8 45 1 0 -25.4 -25.5zM2201.3 593.4a18.1 5.4 45 1 0 25.5 25.7a18.1 5.4 45 1 0 -25.5 -25.7zM2221.8 593.3a18.2 5.0 45 1 0 25.6 25.9a18.2 5.0 45 1 0 -25.6 -25.9zM2240.8 593.2a18.3 4.6 45 1 0 25.7 26.0a18.3 4.6 45 1 0 -25.7 -26.0zM2258.2 593.2a18.4 4.2 45 1 0 25.8 26.2a18.4 4.2 45 1 0 -25.8 -26.2zM2274.1 593.1a18.5 3.8 45 1 0 25.9 26.3a18.5 3.8 45 1 0 -25.9 -26.3zM2288.3 593.0a18.5 3.3 45 1 0 26.0 26.4a18.5 3.3 45 1 0 -26.0 -26.4zM2300.9 593.0a18.6 2.9 46 1 0 26.0 26.5a18.6 2.9 46 1 0 -26.0 -26.5zM2311.7 592.9a18.6 2.5 46 1 0 26.1 26.6a18.6 2.5 46 1 0 -26.1 -26.6zM2320.8 592.9a18.7 2.0 46 1 0 26.1 26.7a18.7 2.0 46 1 0 -26.1 -26.7zM2328.1 592.9a18.7 1.6 46 1 0 26.1 26.7a18.7 1.6 46 1 0 -26.1 -26.7zM2333.6 592.8a18.7 1.1 46 1 0 26.1 26.8a18.7 1.1 46 1 0 -26.1 -26.8zM2337.2 592.8a18.7 0.6 46 1 0 26.1 26.8a18.7 0.6 46 1 0 -26.1 -26.8zM2338.8 592.8a18.7 0.1 46 1 0 26.1 26.8a18.7 0.1 46 1 0 -26.1 -26.8z"/>
<path d="M466.3 628.2a18.7 1.4 132 1 0 -25.1 27.7a18.7 1.4 132 1 0 25.1 -27.7zM490.8 628.3a18.6 2.8 132 1 0 -25.1 27.5a18.6 2.8 132 1 0 25.1 -27.5zM502.6 628.4a18.6 3.3 132 1 0 -25.1 27.4a18.6 3.3 132 1 0 25.1 -27.4zM516.2 628.4a18.5 3.7 132 1 0 -25.0 27.3a18.5 3.7 132 1 0 25.0 -27.3zM531.5 628.5a18.5 4.2 133 1 0 -25.0 27.2a18.5 4.2 133 1 0 25.0 -27.2zM548.5 628.5a18.4 4.6 133 1 0 -25.0 27.1a18.4 4.6 133 1 0 25.0 -27.1zM567.1 628.6a18.3 5.0 133 1 0 -24.9 26.9a18.3 5.0 133 1 0 24.9 -26.9zM587.2 628.7a18.3 5.5 133 1 0 -24.9 26.8a18.3 5.5 133 1 0 24.9 -26.8zM1275.6 649.0a15.5 13.5 -26 1 0 27.7 -13.7a15.5 13.5 -26 1 0 -27.7 13.7zM1498.3 636.5a15.4 13.7 21 1 0 28.7 11.2a15.4 13.7 21 1 0 -28.7 -11.2zM1542.9 634.7a15.5 13.4 28 1 0 27.3 14.7a15.5 13.4 28 1 0 -27.3 -14.7zM1671.7 632.1a15.9 12.4 39 1 0 24.8 19.9a15.9 12.4 39 1 0 -24.8 -19.9zM1713.0 631.6a16.1 12.1 41 1 0 24.4 20.9a16.1 12.1 41 1 0 -24.4 -20.9zM1753.3 631.3a16.2 11.7 42 1 0 24.2 21.6a16.2 11.7 42 1 0 -24.2 -21.6zM1792.8 631.0a16.4 11.3 43 1 0 24.1 22.3a16.4 11.3 43 1 0 -24.1 -22.3zM1831.4 630.7a16.6 11.0 43 1 0 24.0 22.8a16.6 11.0 43 1 0 -24.0 -22.8zM1869.0 630.4a16.7 10.6 44 1 0 24.0 23.3a16.7 10.6 44 1 0 -24.0 -23.3zM1905.7 630.2a16.9 10.2 45 1 0 24.0 23.7a16.9 10.2 45 1 0 -24.0 -23.7zM1941.2 630.0a17.0 9.8 45 1 0 24.1 24.1a17.0 9.8 45 1 0 -24.1 -24.1zM1975.7 629.9a17.2 9.4 45 1 0 24.1 24.4a17.2 9.4 45 1 0 -24.1 -24.4zM2009.1 629.7a17.3 9.0 46 1 0 24.2 24.8a17.3 9.0 46 1 0 -24.2 -24.8zM2041.3 629.6a17.4 8.6 46 1 0 24.3 25.1a17.4 8.6 46 1 0 -24.3 -25.1zM2072.3 629.4a17.6 8.3 46 1 0 24.4 25.3a17.6 8.3 46 1 0 -24.4 -25.3zM2102.1 629.3a17.7 7.8 46 1 0 24.4 25.6a17.7 7.8 46 1 0 -24.4 -25.6zM2130.5 629.2a17.8 7.4 46 1 0 24.5 25.8a17.8 7.4 46 1 0 -24.5 -25.8zM2157.6 629.0a17.9 7.0 47 1 0 24.6 26.1a17.9 7.0 47 1 0 -24.6 -26.1zM2183.3 628.9a18.0 6.6 47 1 0 24.7 26.3a18.0 6.6 47 1 0 -24.7 -26.3zM2207.5 628.8a18.1 6.2 47 1 0 24.7 26.5a18.1 6.2 47 1 0 -24.7 -26.5zM2230.3 628.8a18.2 5.8 47 1 0 24.8 26.7a18.2 5.8 47 1 0 -24.8 -26.7zM2251.6 628.7a18.3 5.3 47 1 0 24.9 26.8a18.3 5.3 47 1 0 -24.9 -26.8zM2271.3 628.6a18.4 4.9 47 1 0 24.9 27.0a18.4 4.9 47 1 0 -24.9 -27.0zM2289.3 628.5a18.4 4.5 47 1 0 25.0 27.1a18.4 4.5 47 1 0 -25.0 -27.1zM2305.8 628.5a18.5 4.0 47 1 0 25.0 27.3a18.5 4.0 47 1 0 -25.0 -27.3zM2320.6 628.4a18.5 3.6 48 1 0 25.0 27.4a18.5 3.6 48 1 0 -25.0 -27.4zM2333.6 628.3a18.6 3.1 48 1 0 25.1 27.5a18.6 3.1 48 1 0 -25.1 -27.5zM2344.9 628.3a18.6 2.7 48 1 0 25.1 27.6a18.6 2.7 48 1 0 -25.1 -27.6zM2354.3 628.3a18.7 2.2 48 1 0 25.1 27.6a18.7 2.2 48 1 0 -25.1 -27.6zM2361.9 628.2a18.7 1.7 48 1 0 25.1 27.7a18.7 1.7 48 1 0 -25.1 -27.7zM2367.6 628.2a18.7 1.2 48 1 0 25.1 27.7a18.7 1.2 48 1 0 -25.1 -27.7zM2371.3 628.2a18.7 0.7 48 1 0 25.1 27.8a18.7 0.7 48 1 0 -25.1 -27.8zM2372.9 628.2a18.7 0.2 48 1 0 25.1 27.8a18.7 0.2 48 1 0 -25.1 -27.8z"/>
<path d="M433.8 664.8a18.7 1.4 130 1 0 -24.0 28.7a18.7 1.4 130 1 0 24.0 -28.7zM440.2 664.9a18.7 2.0 130 1 0 -24.1 28.6a18.7 2.0 130 1 0 24.1 -28.6zM448.7 664.9a18.7 2.5 130 1 0 -24.1 28.6a18.7 2.5 130 1 0 24.1 -28.6zM459.1 664.9a18.6 3.0 130 1 0 -24.1 28.5a18.6 3.0 130 1 0 24.1 -28.5zM471.3 665.0a18.6 3.5 130 1 0 -24.1 28.4a18.6 3.5 130 1 0 24.1 -28.4zM485.4 665.0a18.6 4.0 130 1 0 -24.1 28.3a18.6 4.0 130 1 0 24.1 -28.3zM501.2 665.1a18.5 4.4 131 1 0 -24.1 28.1a18.5 4.4 131 1 0 24.1 -28.1zM518.7 665.2a18.5 4.9 131 1 0 -24.1 28.0a18.5 4.9 131 1 0 24.1 -28.0zM538.0 665.2a18.4 5.4 131 1 0 -24.1 27.9a18.4 5.4 131 1 0 24.1 -27.9zM558.9 665.3a18.3 5.8 131 1 0 -24.1 27.7a18.3 5.8 131 1 0 24.1 -27.7zM581.3 665.4a18.3 6.3 131 1 0 -24.0 27.5a18.3 6.3 131 1 0 24.0 -27.5zM1183.1 688.5a16.1 13.4 -35 1 0 26.3 -18.7a16.1 13.4 -35 1 0 -26.3 18.7zM1226.7 687.5a16.0 13.7 -31 1 0 27.3 -16.6a16.0 13.7 -31 1 0 -27.3 16.6zM1270.9 686.1a15.9 14.0 -26 1 0 28.7 -13.8a15.9 14.0 -26 1 0 -28.7 13.8zM1501.0 673.6a15.9 14.1 20 1 0 29.8 11.1a15.9 14.1 20 1 0 -29.8 -11.1zM1592.3 670.5a16.0 13.6 33 1 0 27.0 17.3a16.0 13.6 33 1 0 -27.0 -17.3zM1636.8 669.6a16.2 13.3 36 1 0 26.0 19.2a16.2 13.3 36 1 0 -26.0 -19.2zM1680.3 668.9a16.3 13.0 39 1 0 25.4 20.5a16.3 13.0 39 1 0 -25.4 -20.5zM1723.0 668.4a16.4 12.6 41 1 0 24.9 21.5a16.4 12.6 41 1 0 -24.9 -21.5zM1764.8 668.0a16.6 12.2 42 1 0 24.5 22.3a16.6 12.2 42 1 0 -24.5 -22.3zM1805.7 667.7a16.7 11.9 43 1 0 24.3 23.0a16.7 11.9 43 1 0 -24.3 -23.0zM1845.6 667.4a16.9 11.5 44 1 0 24.1 23.5a16.9 11.5 44 1 0 -24.1 -23.5zM1884.5 667.2a17.0 11.1 45 1 0 24.0 24.1a17.0 11.1 45 1 0 -24.0 -24.1zM1922.4 666.9a17.1 10.7 46 1 0 24.0 24.5a17.1 10.7 46 1 0 -24.0 -24.5zM1959.2 666.7a17.3 10.3 46 1 0 23.9 24.9a17.3 10.3 46 1 0 -23.9 -24.9zM1994.9 666.5a17.4 9.9 47 1 0 23.9 25.3a17.4 9.9 47 1 0 -23.9 -25.3zM2029.4 666.4a17.5 9.5 47 1 0 23.9 25.6a17.5 9.5 47 1 0 -23.9 -25.6zM2062.7 666.2a17.6 9.1 47 1 0 23.9 25.9a17.6 9.1 47 1 0 -23.9 -25.9zM2094.8 666.1a17.8 8.7 48 1 0 23.9 26.2a17.8 8.7 48 1 0 -23.9 -26.2zM2125.5 665.9a17.9 8.3 48 1 0 24.0 26.5a17.9 8.3 48 1 0 -24.0 -26.5zM2154.9 665.8a18.0 7.9 48 1 0 24.0 26.7a18.0 7.9 48 1 0 -24.0 -26.7zM2183.0 665.7a18.1 7.5 48 1 0 24.0 27.0a18.1 7.5 48 1 0 -24.0 -27.0zM2209.5 665.6a18.1 7.0 49 1 0 24.0 27.2a18.1 7.0 49 1 0 -24.0 -27.2zM2234.6 665.5a18.2 6.6 49 1 0 24.0 27.4a18.2 6.6 49 1 0 -24.0 -27.4zM2258.2 665.4a18.3 6.1 49 1 0 24.1 27.6a18.3 6.1 49 1 0 -24.1 -27.6zM2280.2 665.3a18.4 5.7 49 1 0 24.1 27.8a18.4 5.7 49 1 0 -24.1 -27.8zM2300.5 665.2a18.4 5.2 49 1 0 24.1 27.9a18.4 5.2 49 1 0 -24.1 -27.9zM2319.2 665.1a18.5 4.8 49 1 0 24.1 28.1a18.5 4.8 49 1 0 -24.1 -28.1zM2336.3 665.1a18.5 4.3 49 1 0 24.1 28.2a18.5 4.3 49 1 0 -24.1 -28.2zM2351.5 665.0a18.6 3.8 50 1 0 24.1 28.3a18.6 3.8 50 1 0 -24.1 -28.3zM2365.0 665.0a18.6 3.3 50 1 0 24.1 28.4a18.6 3.3 50 1 0 -24.1 -28.4zM2376.7 664.9a18.7 2.8 50 1 0 24.1 28.5a18.7 2.8 50 1 0 -24.1 -28.5zM2386.5 664.9a18.7 2.3 50 1 0 24.1 28.6a18.7 2.3 50 1 0 -24.1 -28.6zM2394.3 664.9a18.7 1.8 50 1 0 24.1 28.6a18.7 1.8 50 1 0 -24.1 -28.6zM2400.2 664.8a18.7 1.3 50 1 0 24.0 28.7a18.7 1.3 50 1 0 -24.0 -28.7zM2404.0 664.8a18.7 0.7 50 1 0 24.0 28.7a18.7 0.7 50 1 0 -24.0 -28.7zM2405.7 664.8a18.7 0.2 50 1 0 24.0 28.7a18.7 0.2 50 1 0 -24.0 -28.7z"/>
<path d="M395.5 702.7a18.7 0.4 128 1 0 -22.9 29.6a18.7 0.4 128 1 0 22.9 -29.6zM398.0 702.7a18.7 1.0 128 1 0 -22.9 29.6a18.7 1.0 128 1 0 22.9 -29.6zM402.6 702.7a18.7 1.5 128 1 0 -23.0 29.6a18.7 1.5 128 1 0 23.0 -29.6zM409.3 702.7a18.7 2.1 128 1 0 -23.0 29.5a18.7 2.1 128 1 0 23.0 -29.5zM418.0 702.8a18.7 2.6 128 1 0 -23.0 29.5a18.7 2.6 128 1 0 23.0 -29.5zM428.7 702.8a18.7 3.2 128 1 0 -23.0 29.4a18.7 3.2 128 1 0 23.0 -29.4zM441.4 702.8a18.6 3.7 128 1 0 -23.1 29.3a18.6 3.7 128 1 0 23.1 -29.3zM455.9 702.9a18.6 4.2 128 1 0 -23.1 29.2a18.6 4.2 128 1 0 23.1 -29.2zM472.2 703.0a18.6 4.7 129 1 0 -23.1 29.1a18.6 4.7 129 1 0 23.1 -29.1zM490.3 703.0a18.5 5.2 129 1 0 -23.2 28.9a18.5 5.2 129 1 0 23.2 -28.9zM510.2 703.1a18.5 5.7 129 1 0 -23.2 28.8a18.5 5.7 129 1 0 23.2 -28.8zM531.7 703.2a18.4 6.2 129 1 0 -23.2 28.6a18.4 6.2 129 1 0 23.2 -28.6zM554.9 703.3a18.4 6.6 129 1 0 -23.3 28.4a18.4 6.6 129 1 0 23.3 -28.4zM1175.9 727.0a16.5 13.9 -35 1 0 27.0 -19.0a16.5 13.9 -35 1 0 -27.0 19.0zM1220.9 725.9a16.4 14.2 -31 1 0 28.2 -16.8a16.4 14.2 -31 1 0 -28.2 16.8zM1266.4 724.3a16.4 14.5 -25 1 0 29.7 -13.7a16.4 14.5 -25 1 0 -29.7 13.7zM1312.5 722.2a16.4 14.7 -17 1 0 31.3 -9.5a16.4 14.7 -17 1 0 -31.3 9.5zM1359.4 719.6a16.4 14.8 -8 1 0 32.6 -4.3a16.4 14.8 -8 1 0 -32.6 4.3zM1407.2 717.1a16.5 14.8 1 1 0 33.0 0.8a16.5 14.8 1 1 0 -33.0 -0.8zM1455.5 714.5a16.4 14.8 11 1 0 32.2 6.0a16.4 14.8 11 1 0 -32.2 -6.0zM1503.5 712.0a16.4 14.6 19 1 0 30.8 10.9a16.4 14.6 19 1 0 -30.8 -10.9zM1551.0 710.1a16.4 14.4 27 1 0 29.2 14.8a16.4 14.4 27 1 0 -29.2 -14.8zM1597.8 708.7a16.4 14.1 32 1 0 27.8 17.6a16.4 14.1 32 1 0 -27.8 -17.6zM1643.6 707.7a16.5 13.8 36 1 0 26.7 19.5a16.5 13.8 36 1 0 -26.7 -19.5zM1688.6 707.0a16.7 13.5 39 1 0 25.9 21.0a16.7 13.5 39 1 0 -25.9 -21.0zM1732.6 706.4a16.8 13.1 41 1 0 25.3 22.1a16.8 13.1 41 1 0 -25.3 -22.1zM1775.8 706.0a16.9 12.8 43 1 0 24.8 23.0a16.9 12.8 43 1 0 -24.8 -23.0zM1817.9 705.6a17.0 12.4 44 1 0 24.5 23.7a17.0 12.4 44 1 0 -24.5 -23.7zM1859.1 705.3a17.2 12.0 45 1 0 24.2 24.3a17.2 12.0 45 1 0 -24.2 -24.3zM1899.3 705.1a17.3 11.6 46 1 0 24.0 24.8a17.3 11.6 46 1 0 -24.0 -24.8zM1938.4 704.8a17.4 11.2 47 1 0 23.9 25.3a17.4 11.2 47 1 0 -23.9 -25.3zM1976.3 704.6a17.5 10.8 47 1 0 23.7 25.7a17.5 10.8 47 1 0 -23.7 -25.7zM2013.2 704.4a17.6 10.4 48 1 0 23.7 26.1a17.6 10.4 48 1 0 -23.7 -26.1zM2048.8 704.3a17.7 10.0 48 1 0 23.6 26.5a17.7 10.0 48 1 0 -23.6 -26.5zM2083.2 704.1a17.8 9.6 49 1 0 23.5 26.8a17.8 9.6 49 1 0 -23.5 -26.8zM2116.3 703.9a17.9 9.2 49 1 0 23.5 27.1a17.9 9.2 49 1 0 -23.5 -27.1zM2148.0 703.8a18.0 8.8 49 1 0 23.4 27.4a18.0 8.8 49 1 0 -23.4 -27.4zM2178.3 703.7a18.1 8.3 50 1 0 23.4 27.6a18.1 8.3 50 1 0 -23.4 -27.6zM2207.2 703.6a18.2 7.9 50 1 0 23.3 27.9a18.2 7.9 50 1 0 -23.3 -27.9zM2234.7 703.4a18.2 7.4 50 1 0 23.3 28.1a18.2 7.4 50 1 0 -23.3 -28.1zM2260.5 703.3a18.3 7.0 51 1 0 23.3 28.3a18.3 7.0 51 1 0 -23.3 -28.3zM2284.8 703.2a18.4 6.5 51 1 0 23.2 28.5a18.4 6.5 51 1 0 -23.2 -28.5zM2307.5 703.2a18.4 6.0 51 1 0 23.2 28.7a18.4 6.0 51 1 0 -23.2 -28.7zM2328.6 703.1a18.5 5.5 51 1 0 23.2 28.8a18.5 5.5 51 1 0 -23.2 -28.8zM2347.9 703.0a18.5 5.1 51 1 0 23.2 29.0a18.5 5.1 51 1 0 -23.2 -29.0zM2365.4 702.9a18.6 4.6 52 1 0 23.1 29.1a18.6 4.6 52 1 0 -23.1 -29.1zM2381.2 702.9a18.6 4.0 52 1 0 23.1 29.2a18.6 4.0 52 1 0 -23.1 -29.2zM2395.1 702.8a18.7 3.5 52 1 0 23.1 29.3a18.7 3.5 52 1 0 -23.1 -29.3zM2407.1 702.8a18.7 3.0 52 1 0 23.0 29.4a18.7 3.0 52 1 0 -23.0 -29.4zM2417.2 702.7a18.7 2.5 52 1 0 23.0 29.5a18.7 2.5 52 1 0 -23.0 -29.5zM2425.3 702.7a18.7 1.9 52 1 0 23.0 29.5a18.7 1.9 52 1 0 -23.0 -29.5zM2431.4 702.7a18.7 1.4 52 1 0 23.0 29.6a18.7 1.4 52 1 0 -23.0 -29.6zM2435.3 702.7a18.7 0.8 52 1 0 22.9 29.6a18.7 0.8 52 1 0 -22.9 -29.6zM2437.1 702.7a18.7 0.2 52 1 0 22.9 29.6a18.7 0.2 52 1 0 -22.9 -29.6z"/>
<path d="M365.6 741.7a18.7 0.4 126 1 0 -21.8 30.5a18.7 0.4 126 1 0 21.8 -30.5zM368.2 741.7a18.7 1.0 126 1 0 -21.8 30.5a18.7 1.0 126 1 0 21.8 -30.5zM372.9 741.7a18.7 1.6 126 1 0 -21.8 30.5a18.7 1.6 126 1 0 21.8 -30.5zM379.8 741.8a18.7 2.2 126 1 0 -21.9 30.4a18.7 2.2 126 1 0 21.9 -30.4zM388.8 741.8a18.7 2.8 126 1 0 -21.9 30.3a18.7 2.8 126 1 0 21.9 -30.3zM399.8 741.8a18.7 3.4 126 1 0 -22.0 30.3a18.7 3.4 126 1 0 22.0 -30.3zM412.8 741.9a18.7 3.9 126 1 0 -22.0 30.2a18.7 3.9 126 1 0 22.0 -30.2zM427.7 741.9a18.6 4.4 126 1 0 -22.1 30.1a18.6 4.4 126 1 0 22.1 -30.1zM444.5 742.0a18.6 5.0 126 1 0 -22.1 29.9a18.6 5.0 126 1 0 22.1 -29.9zM463.2 742.1a18.6 5.5 127 1 0 -22.2 29.8a18.6 5.5 127 1 0 22.2 -29.8zM483.6 742.1a18.5 6.0 127 1 0 -22.3 29.7a18.5 6.0 127 1 0 22.3 -29.7zM1262.1 763.8a16.8 14.9 -24 1 0 30.7 -13.6a16.8 14.9 -24 1 0 -30.7 13.6zM1505.9 751.6a16.8 15.1 19 1 0 31.8 10.7a16.8 15.1 19 1 0 -31.8 -10.7zM1554.8 749.6a16.8 14.9 26 1 0 30.1 14.8a16.8 14.9 26 1 0 -30.1 -14.8zM1602.9 748.1a16.8 14.6 32 1 0 28.6 17.8a16.8 14.6 32 1 0 -28.6 -17.8zM1650.2 747.0a16.9 14.3 36 1 0 27.3 19.9a16.9 14.3 36 1 0 -27.3 -19.9zM1696.5 746.2a17.0 14.0 39 1 0 26.4 21.5a17.0 14.0 39 1 0 -26.4 -21.5zM1741.8 745.6a17.1 13.6 42 1 0 25.6 22.7a17.1 13.6 42 1 0 -25.6 -22.7zM1786.2 745.1a17.2 13.3 43 1 0 25.0 23.6a17.2 13.3 43 1 0 -25.0 -23.6zM1829.6 744.8a17.3 12.9 45 1 0 24.6 24.4a17.3 12.9 45 1 0 -24.6 -24.4zM1872.0 744.4a17.4 12.5 46 1 0 24.2 25.1a17.4 12.5 46 1 0 -24.2 -25.1zM1913.4 744.1a17.5 12.1 47 1 0 23.9 25.6a17.5 12.1 47 1 0 -23.9 -25.6zM1953.6 743.9a17.6 11.7 48 1 0 23.7 26.1a17.6 11.7 48 1 0 -23.7 -26.1zM1992.7 743.7a17.7 11.3 49 1 0 23.5 26.6a17.7 11.3 49 1 0 -23.5 -26.6zM2030.6 743.5a17.8 10.9 49 1 0 23.3 27.0a17.8 10.9 49 1 0 -23.3 -27.0zM2067.3 743.3a17.9 10.5 50 1 0 23.2 27.3a17.9 10.5 50 1 0 -23.2 -27.3zM2102.7 743.1a18.0 10.1 50 1 0 23.0 27.7a18.0 10.1 50 1 0 -23.0 -27.7zM2136.8 743.0a18.1 9.6 51 1 0 22.9 28.0a18.1 9.6 51 1 0 -22.9 -28.0zM2169.4 742.8a18.2 9.2 51 1 0 22.8 28.2a18.2 9.2 51 1 0 -22.8 -28.2zM2200.7 742.7a18.2 8.7 51 1 0 22.7 28.5a18.2 8.7 51 1 0 -22.7 -28.5zM2230.4 742.6a18.3 8.3 52 1 0 22.6 28.7a18.3 8.3 52 1 0 -22.6 -28.7zM2258.6 742.5a18.4 7.8 52 1 0 22.5 29.0a18.4 7.8 52 1 0 -22.5 -29.0zM2285.3 742.4a18.4 7.3 52 1 0 22.5 29.2a18.4 7.3 52 1 0 -22.5 -29.2zM2310.3 742.3a18.5 6.8 53 1 0 22.4 29.4a18.5 6.8 53 1 0 -22.4 -29.4zM2333.6 742.2a18.5 6.4 53 1 0 22.3 29.5a18.5 6.4 53 1 0 -22.3 -29.5zM2355.3 742.1a18.6 5.8 53 1 0 22.2 29.7a18.6 5.8 53 1 0 -22.2 -29.7zM2375.2 742.0a18.6 5.3 53 1 0 22.2 29.8a18.6 5.3 53 1 0 -22.2 -29.8zM2393.2 742.0a18.6 4.8 54 1 0 22.1 30.0a18.6 4.8 54 1 0 -22.1 -30.0zM2409.4 741.9a18.7 4.3 54 1 0 22.1 30.1a18.7 4.3 54 1 0 -22.1 -30.1zM2423.8 741.9a18.7 3.7 54 1 0 22.0 30.2a18.7 3.7 54 1 0 -22.0 -30.2zM2436.1 741.8a18.7 3.2 54 1 0 22.0 30.3a18.7 3.2 54 1 0 -22.0 -30.3zM2446.5 741.8a18.7 2.6 54 1 0 21.9 30.4a18.7 2.6 54 1 0 -21.9 -30.4zM2454.9 741.7a18.7 2.0 54 1 0 21.9 30.4a18.7 2.0 54 1 0 -21.9 -30.4zM2461.1 741.7a18.7 1.4 54 1 0 21.8 30.5a18.7 1.4 54 1 0 -21.8 -30.5zM2465.2 741.7a18.7 0.8 54 1 0 21.8 30.5a18.7 0.8 54 1 0 -21.8 -30.5zM2467.0 741.7a18.7 0.2 54 1 0 21.8 30.5a18.7 0.2 54 1 0 -21.8 -30.5z"/>
<path d="M337.2 781.9a18.8 0.4 123 1 0 -20.6 31.4a18.8 0.4 123 1 0 20.6 -31.4zM339.8 781.9a18.8 1.1 123 1 0 -20.6 31.3a18.8 1.1 123 1 0 20.6 -31.3zM344.7 781.9a18.8 1.7 123 1 0 -20.7 31.3a18.8 1.7 123 1 0 20.7 -31.3zM351.8 781.9a18.8 2.3 124 1 0 -20.7 31.3a18.8 2.3 124 1 0 20.7 -31.3zM361.0 782.0a18.7 2.9 124 1 0 -20.8 31.2a18.7 2.9 124 1 0 20.8 -31.2zM372.3 782.0a18.7 3.5 124 1 0 -20.9 31.1a18.7 3.5 124 1 0 20.9 -31.1zM385.7 782.1a18.7 4.1 124 1 0 -20.9 31.0a18.7 4.1 124 1 0 20.9 -31.0zM401.0 782.1a18.7 4.7 124 1 0 -21.0 30.9a18.7 4.7 124 1 0 21.0 -30.9zM418.3 782.2a18.7 5.2 124 1 0 -21.1 30.8a18.7 5.2 124 1 0 21.1 -30.8zM437.4 782.2a18.6 5.8 125 1 0 -21.2 30.7a18.6 5.8 125 1 0 21.2 -30.7zM505.7 782.5a18.5 7.4 125 1 0 -21.5 30.2a18.5 7.4 125 1 0 21.5 -30.2zM531.9 782.6a18.5 7.9 126 1 0 -21.6 30.0a18.5 7.9 126 1 0 21.6 -30.0zM559.8 782.7a18.4 8.3 126 1 0 -21.8 29.8a18.4 8.3 126 1 0 21.8 -29.8zM1306.6 802.1a17.2 15.6 -15 1 0 33.2 -9.0a17.2 15.6 -15 1 0 -33.2 9.0zM1508.2 792.3a17.2 15.5 18 1 0 32.8 10.5a17.2 15.5 18 1 0 -32.8 -10.5zM1558.4 790.2a17.2 15.3 25 1 0 31.0 14.7a17.2 15.3 25 1 0 -31.0 -14.7zM1607.8 788.6a17.2 15.1 31 1 0 29.4 17.9a17.2 15.1 31 1 0 -29.4 -17.9zM1656.3 787.4a17.3 14.8 36 1 0 27.9 20.3a17.3 14.8 36 1 0 -27.9 -20.3zM1703.9 786.6a17.3 14.5 39 1 0 26.8 22.0a17.3 14.5 39 1 0 -26.8 -22.0zM1750.6 785.9a17.4 14.1 42 1 0 25.9 23.3a17.4 14.1 42 1 0 -25.9 -23.3zM1796.2 785.4a17.5 13.8 44 1 0 25.2 24.3a17.5 13.8 44 1 0 -25.2 -24.3zM1840.8 785.0a17.6 13.4 46 1 0 24.6 25.1a17.6 13.4 46 1 0 -24.6 -25.1zM1884.3 784.7a17.7 13.0 47 1 0 24.1 25.8a17.7 13.0 47 1 0 -24.1 -25.8zM1926.8 784.4a17.8 12.6 48 1 0 23.8 26.4a17.8 12.6 48 1 0 -23.8 -26.4zM1968.2 784.1a17.8 12.2 49 1 0 23.4 26.9a17.8 12.2 49 1 0 -23.4 -26.9zM2008.3 783.9a17.9 11.8 50 1 0 23.2 27.4a17.9 11.8 50 1 0 -23.2 -27.4zM2047.3 783.7a18.0 11.4 51 1 0 22.9 27.8a18.0 11.4 51 1 0 -22.9 -27.8zM2084.9 783.5a18.1 11.0 51 1 0 22.7 28.2a18.1 11.0 51 1 0 -22.7 -28.2zM2121.3 783.3a18.2 10.5 52 1 0 22.5 28.5a18.2 10.5 52 1 0 -22.5 -28.5zM2189.8 783.0a18.3 9.6 53 1 0 22.1 29.1a18.3 9.6 53 1 0 -22.1 -29.1zM2221.9 782.9a18.3 9.2 53 1 0 22.0 29.4a18.3 9.2 53 1 0 -22.0 -29.4zM2252.4 782.8a18.4 8.7 54 1 0 21.8 29.6a18.4 8.7 54 1 0 -21.8 -29.6zM2281.4 782.6a18.5 8.2 54 1 0 21.7 29.8a18.5 8.2 54 1 0 -21.7 -29.8zM2308.8 782.5a18.5 7.7 54 1 0 21.6 30.0a18.5 7.7 54 1 0 -21.6 -30.0zM2334.5 782.4a18.5 7.2 55 1 0 21.5 30.2a18.5 7.2 55 1 0 -21.5 -30.2zM2358.5 782.4a18.6 6.7 55 1 0 21.4 30.4a18.6 6.7 55 1 0 -21.4 -30.4zM2380.7 782.3a18.6 6.1 55 1 0 21.3 30.6a18.6 6.1 55 1 0 -21.3 -30.6zM2401.1 782.2a18.6 5.6 55 1 0 21.2 30.7a18.6 5.6 55 1 0 -21.2 -30.7zM2419.7 782.1a18.7 5.1 56 1 0 21.1 30.8a18.7 5.1 56 1 0 -21.1 -30.8zM2436.3 782.1a18.7 4.5 56 1 0 21.0 30.9a18.7 4.5 56 1 0 -21.0 -30.9zM2451.0 782.0a18.7 3.9 56 1 0 20.9 31.0a18.7 3.9 56 1 0 -20.9 -31.0zM2463.7 782.0a18.7 3.3 56 1 0 20.8 31.1a18.7 3.3 56 1 0 -20.8 -31.1zM2474.4 782.0a18.7 2.8 56 1 0 20.8 31.2a18.7 2.8 56 1 0 -20.8 -31.2zM2483.0 781.9a18.8 2.1 56 1 0 20.7 31.3a18.8 2.1 56 1 0 -20.7 -31.3zM2489.3 781.9a18.8 1.5 57 1 0 20.7 31.3a18.8 1.5 57 1 0 -20.7 -31.3zM2493.5 781.9a18.8 0.9 57 1 0 20.6 31.3a18.8 0.9 57 1 0 -20.6 -31.3zM2495.4 781.9a18.8 0.2 57 1 0 20.6 31.4a18.8 0.2 57 1 0 -20.6 -31.4z"/>
<path d="M318.0 823.2a18.8 1.8 121 1 0 -19.5 32.1a18.8 1.8 121 1 0 19.5 -32.1zM334.7 823.2a18.8 3.1 122 1 0 -19.6 32.0a18.8 3.1 122 1 0 19.6 -32.0zM346.3 823.3a18.8 3.7 122 1 0 -19.7 31.9a18.8 3.7 122 1 0 19.7 -31.9zM360.0 823.3a18.7 4.3 122 1 0 -19.8 31.8a18.7 4.3 122 1 0 19.8 -31.8zM375.7 823.4a18.7 4.9 122 1 0 -19.9 31.7a18.7 4.9 122 1 0 19.9 -31.7zM393.4 823.4a18.7 5.5 122 1 0 -20.0 31.6a18.7 5.5 122 1 0 20.0 -31.6zM413.0 823.5a18.7 6.1 123 1 0 -20.1 31.5a18.7 6.1 123 1 0 20.1 -31.5zM434.5 823.6a18.7 6.6 123 1 0 -20.3 31.4a18.7 6.6 123 1 0 20.3 -31.4zM1254.1 845.9a17.6 15.8 -22 1 0 32.5 -13.4a17.6 15.8 -22 1 0 -32.5 13.4zM1304.0 843.6a17.6 16.0 -14 1 0 34.1 -8.8a17.6 16.0 -14 1 0 -34.1 8.8zM1510.4 834.1a17.6 15.9 17 1 0 33.6 10.3a17.6 15.9 17 1 0 -33.6 -10.3zM1561.8 831.9a17.5 15.8 25 1 0 31.9 14.7a17.5 15.8 25 1 0 -31.9 -14.7zM1612.4 830.2a17.5 15.5 31 1 0 30.1 18.1a17.5 15.5 31 1 0 -30.1 -18.1zM1662.2 828.9a17.6 15.2 36 1 0 28.5 20.6a17.6 15.2 36 1 0 -28.5 -20.6zM1711.0 828.0a17.6 14.9 40 1 0 27.2 22.5a17.6 14.9 40 1 0 -27.2 -22.5zM1758.8 827.3a17.7 14.6 42 1 0 26.1 23.9a17.7 14.6 42 1 0 -26.1 -23.9zM1805.6 826.8a17.8 14.2 45 1 0 25.3 25.0a17.8 14.2 45 1 0 -25.3 -25.0zM1851.4 826.3a17.8 13.9 46 1 0 24.6 25.9a17.8 13.9 46 1 0 -24.6 -25.9zM1896.0 825.9a17.9 13.5 48 1 0 24.0 26.6a17.9 13.5 48 1 0 -24.0 -26.6zM1939.5 825.6a18.0 13.1 49 1 0 23.5 27.2a18.0 13.1 49 1 0 -23.5 -27.2zM1981.9 825.4a18.1 12.7 50 1 0 23.1 27.8a18.1 12.7 50 1 0 -23.1 -27.8zM2023.1 825.1a18.1 12.3 51 1 0 22.7 28.2a18.1 12.3 51 1 0 -22.7 -28.2zM2063.0 824.9a18.2 11.9 52 1 0 22.4 28.7a18.2 11.9 52 1 0 -22.4 -28.7zM2242.0 824.1a18.5 9.6 55 1 0 21.2 30.2a18.5 9.6 55 1 0 -21.2 -30.2zM2273.3 824.0a18.5 9.1 55 1 0 21.0 30.5a18.5 9.1 55 1 0 -21.0 -30.5zM2303.0 823.9a18.5 8.6 56 1 0 20.8 30.7a18.5 8.6 56 1 0 -20.8 -30.7zM2331.1 823.8a18.6 8.1 56 1 0 20.6 30.9a18.6 8.1 56 1 0 -20.6 -30.9zM2357.4 823.7a18.6 7.5 57 1 0 20.5 31.1a18.6 7.5 57 1 0 -20.5 -31.1zM2382.0 823.6a18.6 7.0 57 1 0 20.3 31.3a18.6 7.0 57 1 0 -20.3 -31.3zM2404.7 823.5a18.7 6.4 57 1 0 20.2 31.4a18.7 6.4 57 1 0 -20.2 -31.4zM2425.6 823.5a18.7 5.9 58 1 0 20.1 31.5a18.7 5.9 58 1 0 -20.1 -31.5zM2444.7 823.4a18.7 5.3 58 1 0 20.0 31.7a18.7 5.3 58 1 0 -20.0 -31.7zM2461.7 823.4a18.7 4.7 58 1 0 19.9 31.8a18.7 4.7 58 1 0 -19.9 -31.8zM2476.8 823.3a18.8 4.1 58 1 0 19.8 31.9a18.8 4.1 58 1 0 -19.8 -31.9zM2489.8 823.3a18.8 3.5 58 1 0 19.7 32.0a18.8 3.5 58 1 0 -19.7 -32.0zM2500.8 823.2a18.8 2.9 59 1 0 19.6 32.0a18.8 2.9 59 1 0 -19.6 -32.0zM2509.5 823.2a18.8 2.2 59 1 0 19.5 32.1a18.8 2.2 59 1 0 -19.5 -32.1zM2516.1 823.2a18.8 1.6 59 1 0 19.5 32.1a18.8 1.6 59 1 0 -19.5 -32.1zM2520.4 823.2a18.8 0.9 59 1 0 19.5 32.2a18.8 0.9 59 1 0 -19.5 -32.2zM2522.3 823.2a18.8 0.2 59 1 0 19.4 32.2a18.8 0.2 59 1 0 -19.4 -32.2z"/>
<path d="M292.9 865.5a18.8 1.9 119 1 0 -18.3 32.9a18.8 1.9 119 1 0 18.3 -32.9zM310.0 865.6a18.8 3.2 119 1 0 -18.4 32.8a18.8 3.2 119 1 0 18.4 -32.8zM321.8 865.6a18.8 3.9 120 1 0 -18.5 32.7a18.8 3.9 120 1 0 18.5 -32.7zM335.8 865.7a18.8 4.5 120 1 0 -18.6 32.6a18.8 4.5 120 1 0 18.6 -32.6zM351.9 865.7a18.8 5.1 120 1 0 -18.7 32.5a18.8 5.1 120 1 0 18.7 -32.5zM1250.5 888.6a17.9 16.2 -22 1 0 33.3 -13.2a17.9 16.2 -22 1 0 -33.3 13.2zM1301.4 886.2a18.0 16.4 -14 1 0 35.0 -8.5a18.0 16.4 -14 1 0 -35.0 8.5zM1512.5 877.0a18.0 16.3 16 1 0 34.5 10.0a18.0 16.3 16 1 0 -34.5 -10.0zM1616.8 872.9a17.9 16.0 31 1 0 30.8 18.2a17.9 16.0 31 1 0 -30.8 -18.2zM1667.7 871.5a17.9 15.7 36 1 0 29.0 20.9a17.9 15.7 36 1 0 -29.0 -20.9zM1717.7 870.5a17.9 15.4 40 1 0 27.5 23.0a17.9 15.4 40 1 0 -27.5 -23.0zM1766.6 869.7a18.0 15.1 43 1 0 26.3 24.5a18.0 15.1 43 1 0 -26.3 -24.5zM1814.5 869.1a18.0 14.7 45 1 0 25.3 25.7a18.0 14.7 45 1 0 -25.3 -25.7zM1861.3 868.7a18.1 14.3 47 1 0 24.4 26.6a18.1 14.3 47 1 0 -24.4 -26.6zM1907.0 868.3a18.1 14.0 49 1 0 23.7 27.4a18.1 14.0 49 1 0 -23.7 -27.4zM1951.6 868.0a18.2 13.6 50 1 0 23.2 28.1a18.2 13.6 50 1 0 -23.2 -28.1zM1994.9 867.7a18.2 13.2 52 1 0 22.6 28.6a18.2 13.2 52 1 0 -22.6 -28.6zM2037.0 867.4a18.3 12.7 53 1 0 22.2 29.1a18.3 12.7 53 1 0 -22.2 -29.1zM2077.9 867.2a18.3 12.3 54 1 0 21.8 29.5a18.3 12.3 54 1 0 -21.8 -29.5zM2261.0 866.4a18.6 10.0 57 1 0 20.3 31.1a18.6 10.0 57 1 0 -20.3 -31.1zM2293.0 866.3a18.6 9.4 57 1 0 20.1 31.3a18.6 9.4 57 1 0 -20.1 -31.3zM2323.4 866.2a18.6 8.9 58 1 0 19.8 31.5a18.6 8.9 58 1 0 -19.8 -31.5zM2352.0 866.1a18.7 8.4 58 1 0 19.6 31.7a18.7 8.4 58 1 0 -19.6 -31.7zM2379.0 866.0a18.7 7.8 59 1 0 19.5 31.9a18.7 7.8 59 1 0 -19.5 -31.9zM2404.1 865.9a18.7 7.3 59 1 0 19.3 32.1a18.7 7.3 59 1 0 -19.3 -32.1zM2427.4 865.9a18.7 6.7 59 1 0 19.1 32.2a18.7 6.7 59 1 0 -19.1 -32.2zM2448.8 865.8a18.8 6.1 60 1 0 19.0 32.4a18.8 6.1 60 1 0 -19.0 -32.4zM2468.2 865.7a18.8 5.5 60 1 0 18.8 32.5a18.8 5.5 60 1 0 -18.8 -32.5zM2485.7 865.7a18.8 4.9 60 1 0 18.7 32.6a18.8 4.9 60 1 0 -18.7 -32.6zM2501.1 865.6a18.8 4.3 60 1 0 18.6 32.7a18.8 4.3 60 1 0 -18.6 -32.7zM2514.4 865.6a18.8 3.7 61 1 0 18.5 32.7a18.8 3.7 61 1 0 -18.5 -32.7zM2525.6 865.6a18.8 3.0 61 1 0 18.4 32.8a18.8 3.0 61 1 0 -18.4 -32.8zM2534.5 865.5a18.8 2.3 61 1 0 18.3 32.9a18.8 2.3 61 1 0 -18.3 -32.9zM2541.2 865.5a18.8 1.7 61 1 0 18.3 32.9a18.8 1.7 61 1 0 -18.3 -32.9zM2545.6 865.5a18.8 0.9 61 1 0 18.2 32.9a18.8 0.9 61 1 0 -18.2 -32.9zM2547.6 865.5a18.8 0.2 61 1 0 18.2 32.9a18.8 0.2 61 1 0 -18.2 -32.9z"/>
<path d="M269.4 908.9a18.9 2.0 117 1 0 -17.0 33.6a18.9 2.0 117 1 0 17.0 -33.6zM276.9 908.9a18.9 2.7 117 1 0 -17.1 33.6a18.9 2.7 117 1 0 17.1 -33.6zM286.8 908.9a18.9 3.4 117 1 0 -17.2 33.6a18.9 3.4 117 1 0 17.2 -33.6zM298.9 909.0a18.8 4.0 117 1 0 -17.3 33.5a18.8 4.0 117 1 0 17.3 -33.5zM313.2 909.0a18.8 4.7 118 1 0 -17.4 33.4a18.8 4.7 118 1 0 17.4 -33.4zM329.6 909.0a18.8 5.3 118 1 0 -17.5 33.3a18.8 5.3 118 1 0 17.5 -33.3zM1145.6 935.9a18.2 16.2 -34 1 0 30.0 -20.4a18.2 16.2 -34 1 0 -30.0 20.4zM1195.9 934.3a18.2 16.4 -28 1 0 32.0 -17.2a18.2 16.4 -28 1 0 -32.0 17.2zM1247.1 932.2a18.2 16.6 -21 1 0 34.1 -13.0a18.2 16.6 -21 1 0 -34.1 13.0zM1299.1 929.8a18.3 16.8 -13 1 0 35.7 -8.3a18.3 16.8 -13 1 0 -35.7 8.3zM1672.9 915.1a18.2 16.1 36 1 0 29.4 21.3a18.2 16.1 36 1 0 -29.4 -21.3zM1723.9 914.0a18.2 15.8 40 1 0 27.7 23.5a18.2 15.8 40 1 0 -27.7 -23.5zM1774.0 913.1a18.2 15.5 44 1 0 26.3 25.2a18.2 15.5 44 1 0 -26.3 -25.2zM1822.9 912.5a18.2 15.2 46 1 0 25.2 26.4a18.2 15.2 46 1 0 -25.2 -26.4zM1870.7 912.0a18.3 14.8 49 1 0 24.2 27.4a18.3 14.8 49 1 0 -24.2 -27.4zM1917.4 911.6a18.3 14.4 50 1 0 23.4 28.2a18.3 14.4 50 1 0 -23.4 -28.2zM1962.9 911.3a18.4 14.0 52 1 0 22.7 28.9a18.4 14.0 52 1 0 -22.7 -28.9zM2007.1 911.0a18.4 13.6 53 1 0 22.1 29.5a18.4 13.6 53 1 0 -22.1 -29.5zM2050.2 910.7a18.5 13.2 54 1 0 21.6 30.0a18.5 13.2 54 1 0 -21.6 -30.0zM2091.8 910.5a18.5 12.7 55 1 0 21.1 30.4a18.5 12.7 55 1 0 -21.1 -30.4zM2244.4 909.9a18.6 10.8 58 1 0 19.6 31.7a18.6 10.8 58 1 0 -19.6 -31.7zM2278.7 909.7a18.7 10.3 59 1 0 19.3 32.0a18.7 10.3 59 1 0 -19.3 -32.0zM2311.4 909.6a18.7 9.8 59 1 0 19.0 32.2a18.7 9.8 59 1 0 -19.0 -32.2zM2342.4 909.5a18.7 9.3 60 1 0 18.8 32.4a18.7 9.3 60 1 0 -18.8 -32.4zM2371.7 909.4a18.7 8.7 60 1 0 18.6 32.6a18.7 8.7 60 1 0 -18.6 -32.6zM2399.2 909.3a18.8 8.2 61 1 0 18.3 32.7a18.8 8.2 61 1 0 -18.3 -32.7zM2424.9 909.3a18.8 7.6 61 1 0 18.1 32.9a18.8 7.6 61 1 0 -18.1 -32.9zM2448.6 909.2a18.8 7.0 61 1 0 18.0 33.0a18.8 7.0 61 1 0 -18.0 -33.0zM2470.4 909.1a18.8 6.4 62 1 0 17.8 33.1a18.8 6.4 62 1 0 -17.8 -33.1zM2490.3 909.1a18.8 5.8 62 1 0 17.6 33.3a18.8 5.8 62 1 0 -17.6 -33.3zM2508.1 909.0a18.8 5.1 62 1 0 17.5 33.4a18.8 5.1 62 1 0 -17.5 -33.4zM2523.8 909.0a18.8 4.5 63 1 0 17.4 33.4a18.8 4.5 63 1 0 -17.4 -33.4zM2537.4 909.0a18.8 3.8 63 1 0 17.3 33.5a18.8 3.8 63 1 0 -17.3 -33.5zM2548.8 908.9a18.9 3.1 63 1 0 17.2 33.6a18.9 3.1 63 1 0 -17.2 -33.6zM2558.0 908.9a18.9 2.4 63 1 0 17.1 33.6a18.9 2.4 63 1 0 -17.1 -33.6zM2564.8 908.9a18.9 1.7 63 1 0 17.0 33.7a18.9 1.7 63 1 0 -17.0 -33.7zM2569.3 908.9a18.9 1.0 63 1 0 17.0 33.7a18.9 1.0 63 1 0 -17.0 -33.7zM2571.3 908.9a18.9 0.2 63 1 0 17.0 33.7a18.9 0.2 63 1 0 -17.0 -33.7z"/>
<path d="M242.2 953.2a18.9 1.3 115 1 0 -15.7 34.4a18.9 1.3 115 1 0 15.7 -34.4zM247.5 953.2a18.9 2.0 115 1 0 -15.8 34.4a18.9 2.0 115 1 0 15.8 -34.4zM255.2 953.2a18.9 2.8 115 1 0 -15.8 34.3a18.9 2.8 115 1 0 15.8 -34.3zM265.2 953.3a18.9 3.5 115 1 0 -15.9 34.3a18.9 3.5 115 1 0 15.9 -34.3zM277.5 953.3a18.9 4.2 115 1 0 -16.0 34.2a18.9 4.2 115 1 0 16.0 -34.2zM292.1 953.3a18.9 4.9 115 1 0 -16.2 34.2a18.9 4.9 115 1 0 16.2 -34.2zM1140.7 980.8a18.4 16.6 -34 1 0 30.5 -20.7a18.4 16.6 -34 1 0 -30.5 20.7zM1191.9 979.0a18.5 16.8 -28 1 0 32.7 -17.2a18.5 16.8 -28 1 0 -32.7 17.2zM1243.9 976.8a18.5 17.0 -20 1 0 34.8 -12.8a18.5 17.0 -20 1 0 -34.8 12.8zM1296.9 974.4a18.7 17.1 -12 1 0 36.5 -8.0a18.7 17.1 -12 1 0 -36.5 8.0zM1677.7 959.6a18.4 16.5 36 1 0 29.8 21.7a18.4 16.5 36 1 0 -29.8 -21.7zM1729.8 958.4a18.4 16.2 41 1 0 27.9 24.1a18.4 16.2 41 1 0 -27.9 -24.1zM1780.8 957.5a18.4 15.9 45 1 0 26.3 25.9a18.4 15.9 45 1 0 -26.3 -25.9zM1830.7 956.8a18.5 15.6 48 1 0 24.9 27.2a18.5 15.6 48 1 0 -24.9 -27.2zM1879.5 956.3a18.5 15.2 50 1 0 23.8 28.3a18.5 15.2 50 1 0 -23.8 -28.3zM1927.1 955.8a18.5 14.8 52 1 0 22.9 29.1a18.5 14.8 52 1 0 -22.9 -29.1zM1973.5 955.5a18.5 14.4 53 1 0 22.1 29.8a18.5 14.4 53 1 0 -22.1 -29.8zM2018.6 955.2a18.6 14.0 55 1 0 21.4 30.4a18.6 14.0 55 1 0 -21.4 -30.4zM2062.4 955.0a18.6 13.6 56 1 0 20.8 30.9a18.6 13.6 56 1 0 -20.8 -30.9zM2104.9 954.8a18.6 13.2 57 1 0 20.2 31.3a18.6 13.2 57 1 0 -20.2 -31.3zM2146.0 954.6a18.7 12.7 58 1 0 19.8 31.7a18.7 12.7 58 1 0 -19.8 -31.7zM2260.4 954.1a18.7 11.2 60 1 0 18.6 32.6a18.7 11.2 60 1 0 -18.6 -32.6zM2295.3 954.0a18.8 10.7 61 1 0 18.2 32.8a18.8 10.7 61 1 0 -18.2 -32.8zM2328.6 953.9a18.8 10.1 61 1 0 17.9 33.0a18.8 10.1 61 1 0 -17.9 -33.0zM2360.2 953.8a18.8 9.6 62 1 0 17.7 33.2a18.8 9.6 62 1 0 -17.7 -33.2zM2390.1 953.7a18.8 9.0 62 1 0 17.4 33.4a18.8 9.0 62 1 0 -17.4 -33.4zM2418.1 953.6a18.8 8.4 63 1 0 17.2 33.5a18.8 8.4 63 1 0 -17.2 -33.5zM2444.2 953.6a18.9 7.8 63 1 0 16.9 33.7a18.9 7.8 63 1 0 -16.9 -33.7zM2468.4 953.5a18.9 7.2 64 1 0 16.8 33.8a18.9 7.2 64 1 0 -16.8 -33.8zM2490.6 953.4a18.9 6.6 64 1 0 16.6 33.9a18.9 6.6 64 1 0 -16.6 -33.9zM2510.8 953.4a18.9 6.0 64 1 0 16.4 34.0a18.9 6.0 64 1 0 -16.4 -34.0zM2529.0 953.4a18.9 5.3 65 1 0 16.3 34.1a18.9 5.3 65 1 0 -16.3 -34.1zM2545.0 953.3a18.9 4.6 65 1 0 16.1 34.2a18.9 4.6 65 1 0 -16.1 -34.2zM2558.9 953.3a18.9 4.0 65 1 0 16.0 34.2a18.9 4.0 65 1 0 -16.0 -34.2zM2570.5 953.3a18.9 3.3 65 1 0 15.9 34.3a18.9 3.3 65 1 0 -15.9 -34.3zM2579.8 953.2a18.9 2.5 65 1 0 15.8 34.3a18.9 2.5 65 1 0 -15.8 -34.3zM2586.8 953.2a18.9 1.8 65 1 0 15.7 34.4a18.9 1.8 65 1 0 -15.7 -34.4zM2591.3 953.2a18.9 1.0 65 1 0 15.7 34.4a18.9 1.0 65 1 0 -15.7 -34.4zM2593.3 953.2a18.9 0.2 65 1 0 15.7 34.4a18.9 0.2 65 1 0 -15.7 -34.4z"/>
<path d="M219.0 998.5a19.0 0.5 112 1 0 -14.4 35.1a19.0 0.5 112 1 0 14.4 -35.1zM221.8 998.5a19.0 1.3 112 1 0 -14.4 35.1a19.0 1.3 112 1 0 14.4 -35.1zM227.2 998.5a19.0 2.1 112 1 0 -14.5 35.1a19.0 2.1 112 1 0 14.5 -35.1zM235.1 998.5a19.0 2.9 113 1 0 -14.5 35.0a19.0 2.9 113 1 0 14.5 -35.0zM245.3 998.5a19.0 3.6 113 1 0 -14.6 35.0a19.0 3.6 113 1 0 14.6 -35.0zM257.8 998.5a19.0 4.3 113 1 0 -14.7 34.9a19.0 4.3 113 1 0 14.7 -34.9zM1936.1 1001.0a18.7 15.3 54 1 0 22.2 30.1a18.7 15.3 54 1 0 -22.2 -30.1zM2275.1 999.3a18.8 11.6 62 1 0 17.4 33.4a18.8 11.6 62 1 0 -17.4 -33.4zM2310.7 999.2a18.9 11.0 63 1 0 17.1 33.6a18.9 11.0 63 1 0 -17.1 -33.6zM2344.6 999.1a18.9 10.5 64 1 0 16.7 33.8a18.9 10.5 64 1 0 -16.7 -33.8zM2376.7 999.0a18.9 9.9 64 1 0 16.4 34.0a18.9 9.9 64 1 0 -16.4 -34.0zM2407.0 998.9a18.9 9.3 65 1 0 16.2 34.2a18.9 9.3 65 1 0 -16.2 -34.2zM2435.5 998.9a18.9 8.7 65 1 0 15.9 34.3a18.9 8.7 65 1 0 -15.9 -34.3zM2462.1 998.8a18.9 8.1 66 1 0 15.7 34.4a18.9 8.1 66 1 0 -15.7 -34.4zM2486.7 998.7a18.9 7.5 66 1 0 15.5 34.6a18.9 7.5 66 1 0 -15.5 -34.6zM2509.3 998.7a18.9 6.8 66 1 0 15.3 34.7a18.9 6.8 66 1 0 -15.3 -34.7zM2529.8 998.6a18.9 6.2 66 1 0 15.1 34.7a18.9 6.2 66 1 0 -15.1 -34.7zM2548.3 998.6a19.0 5.5 67 1 0 15.0 34.8a19.0 5.5 67 1 0 -15.0 -34.8zM2564.6 998.6a19.0 4.8 67 1 0 14.8 34.9a19.0 4.8 67 1 0 -14.8 -34.9zM2578.7 998.5a19.0 4.1 67 1 0 14.7 35.0a19.0 4.1 67 1 0 -14.7 -35.0zM2590.5 998.5a19.0 3.4 67 1 0 14.6 35.0a19.0 3.4 67 1 0 -14.6 -35.0zM2599.9 998.5a19.0 2.6 68 1 0 14.5 35.0a19.0 2.6 68 1 0 -14.5 -35.0zM2607.0 998.5a19.0 1.9 68 1 0 14.4 35.1a19.0 1.9 68 1 0 -14.4 -35.1zM2611.6 998.5a19.0 1.1 68 1 0 14.4 35.1a19.0 1.1 68 1 0 -14.4 -35.1zM2613.7 998.5a19.0 0.2 68 1 0 14.4 35.1a19.0 0.2 68 1 0 -14.4 -35.1z"/>
<path d="M200.3 1044.6a19.0 0.5 110 1 0 -13.0 35.7a19.0 0.5 110 1 0 13.0 -35.7zM203.2 1044.6a19.0 1.4 110 1 0 -13.1 35.7a19.0 1.4 110 1 0 13.1 -35.7zM208.7 1044.6a19.0 2.2 110 1 0 -13.1 35.7a19.0 2.2 110 1 0 13.1 -35.7zM216.7 1044.7a19.0 2.9 110 1 0 -13.2 35.7a19.0 2.9 110 1 0 13.2 -35.7zM227.0 1044.7a19.0 3.7 110 1 0 -13.3 35.7a19.0 3.7 110 1 0 13.3 -35.7zM239.7 1044.7a19.0 4.4 111 1 0 -13.4 35.6a19.0 4.4 111 1 0 13.4 -35.6zM2170.7 1045.7a18.9 13.4 62 1 0 17.5 33.5a18.9 13.4 62 1 0 -17.5 -33.5zM2211.6 1045.6a18.9 12.9 63 1 0 17.0 33.8a18.9 12.9 63 1 0 -17.0 -33.8zM2288.7 1045.4a18.9 11.9 65 1 0 16.2 34.3a18.9 11.9 65 1 0 -16.2 -34.3zM2324.8 1045.3a19.0 11.3 65 1 0 15.8 34.5a19.0 11.3 65 1 0 -15.8 -34.5zM2359.2 1045.2a19.0 10.8 66 1 0 15.4 34.7a19.0 10.8 66 1 0 -15.4 -34.7zM2391.8 1045.1a19.0 10.2 67 1 0 15.1 34.8a19.0 10.2 67 1 0 -15.1 -34.8zM2422.6 1045.0a19.0 9.6 67 1 0 14.8 35.0a19.0 9.6 67 1 0 -14.8 -35.0zM2451.5 1045.0a19.0 9.0 67 1 0 14.6 35.1a19.0 9.0 67 1 0 -14.6 -35.1zM2478.5 1044.9a19.0 8.3 68 1 0 14.4 35.2a19.0 8.3 68 1 0 -14.4 -35.2zM2503.4 1044.9a19.0 7.7 68 1 0 14.1 35.3a19.0 7.7 68 1 0 -14.1 -35.3zM2526.4 1044.8a19.0 7.0 68 1 0 13.9 35.4a19.0 7.0 68 1 0 -13.9 -35.4zM2547.3 1044.8a19.0 6.4 69 1 0 13.8 35.5a19.0 6.4 69 1 0 -13.8 -35.5zM2566.0 1044.7a19.0 5.7 69 1 0 13.6 35.5a19.0 5.7 69 1 0 -13.6 -35.5zM2582.5 1044.7a19.0 4.9 69 1 0 13.5 35.6a19.0 4.9 69 1 0 -13.5 -35.6zM2596.8 1044.7a19.0 4.2 69 1 0 13.4 35.6a19.0 4.2 69 1 0 -13.4 -35.6zM2608.8 1044.7a19.0 3.5 70 1 0 13.3 35.7a19.0 3.5 70 1 0 -13.3 -35.7zM2618.4 1044.7a19.0 2.7 70 1 0 13.2 35.7a19.0 2.7 70 1 0 -13.2 -35.7zM2625.6 1044.6a19.0 1.9 70 1 0 13.1 35.7a19.0 1.9 70 1 0 -13.1 -35.7zM2630.3 1044.6a19.0 1.1 70 1 0 13.1 35.7a19.0 1.1 70 1 0 -13.1 -35.7zM2632.4 1044.6a19.0 0.3 70 1 0 13.0 35.7a19.0 0.3 70 1 0 -13.0 -35.7z"/>
<path d="M186.4 1091.6a19.1 1.4 108 1 0 -11.7 36.4a19.1 1.4 108 1 0 11.7 -36.4zM191.9 1091.7a19.1 2.2 108 1 0 -11.8 36.3a19.1 2.2 108 1 0 11.8 -36.3zM200.0 1091.7a19.1 3.0 108 1 0 -11.8 36.3a19.1 3.0 108 1 0 11.8 -36.3zM210.5 1091.7a19.1 3.8 108 1 0 -11.9 36.3a19.1 3.8 108 1 0 11.9 -36.3zM1291.4 1113.4a19.5 18.1 -10 1 0 38.3 -7.1a19.5 18.1 -10 1 0 -38.3 7.1zM2138.5 1092.8a19.0 14.3 64 1 0 16.7 34.1a19.0 14.3 64 1 0 -16.7 -34.1zM2181.5 1092.6a19.0 13.8 65 1 0 16.2 34.4a19.0 13.8 65 1 0 -16.2 -34.4zM2222.9 1092.5a19.0 13.3 66 1 0 15.6 34.7a19.0 13.3 66 1 0 -15.6 -34.7zM2262.8 1092.4a19.0 12.7 67 1 0 15.2 34.9a19.0 12.7 67 1 0 -15.2 -34.9zM2301.1 1092.3a19.0 12.2 67 1 0 14.7 35.1a19.0 12.2 67 1 0 -14.7 -35.1zM2337.7 1092.2a19.1 11.6 68 1 0 14.4 35.3a19.1 11.6 68 1 0 -14.4 -35.3zM2372.5 1092.1a19.1 11.1 68 1 0 14.0 35.5a19.1 11.1 68 1 0 -14.0 -35.5zM2405.6 1092.0a19.1 10.5 69 1 0 13.7 35.6a19.1 10.5 69 1 0 -13.7 -35.6zM2436.7 1092.0a19.1 9.8 69 1 0 13.4 35.7a19.1 9.8 69 1 0 -13.4 -35.7zM2466.0 1091.9a19.1 9.2 70 1 0 13.2 35.8a19.1 9.2 70 1 0 -13.2 -35.8zM2493.3 1091.9a19.1 8.6 70 1 0 13.0 35.9a19.1 8.6 70 1 0 -13.0 -35.9zM2518.7 1091.8a19.1 7.9 71 1 0 12.7 36.0a19.1 7.9 71 1 0 -12.7 -36.0zM2541.9 1091.8a19.1 7.2 71 1 0 12.6 36.1a19.1 7.2 71 1 0 -12.6 -36.1zM2563.0 1091.8a19.1 6.5 71 1 0 12.4 36.1a19.1 6.5 71 1 0 -12.4 -36.1zM2582.0 1091.7a19.1 5.8 71 1 0 12.2 36.2a19.1 5.8 71 1 0 -12.2 -36.2zM2598.8 1091.7a19.1 5.1 72 1 0 12.1 36.2a19.1 5.1 72 1 0 -12.1 -36.2zM2613.2 1091.7a19.1 4.3 72 1 0 12.0 36.3a19.1 4.3 72 1 0 -12.0 -36.3zM2625.4 1091.7a19.1 3.6 72 1 0 11.9 36.3a19.1 3.6 72 1 0 -11.9 -36.3zM2635.1 1091.7a19.1 2.8 72 1 0 11.8 36.3a19.1 2.8 72 1 0 -11.8 -36.3zM2642.4 1091.7a19.1 2.0 72 1 0 11.7 36.4a19.1 2.0 72 1 0 -11.7 -36.4zM2647.1 1091.6a19.1 1.1 72 1 0 11.7 36.4a19.1 1.1 72 1 0 -11.7 -36.4zM2649.3 1091.6a19.1 0.3 72 1 0 11.7 36.4a19.1 0.3 72 1 0 -11.7 -36.4z"/>
<path d="M171.3 1139.5a19.2 1.4 106 1 0 -10.3 37.0a19.2 1.4 106 1 0 10.3 -37.0zM176.9 1139.5a19.2 2.3 106 1 0 -10.4 36.9a19.2 2.3 106 1 0 10.4 -36.9zM185.1 1139.5a19.2 3.1 106 1 0 -10.4 36.9a19.2 3.1 106 1 0 10.4 -36.9zM1289.9 1161.3a19.7 18.4 -10 1 0 38.8 -6.8a19.7 18.4 -10 1 0 -38.8 6.8zM1347.1 1159.3a19.9 18.5 -4 1 0 39.7 -2.7a19.9 18.5 -4 1 0 -39.7 2.7zM1405.3 1157.7a20.1 18.5 1 1 0 40.1 0.5a20.1 18.5 1 1 0 -40.1 -0.5zM1463.7 1156.0a19.8 18.5 6 1 0 39.5 3.9a19.8 18.5 6 1 0 -39.5 -3.9zM1521.7 1153.8a19.6 18.4 12 1 0 38.4 8.3a19.6 18.4 12 1 0 -38.4 -8.3zM2147.7 1140.4a19.1 14.6 67 1 0 15.2 35.1a19.1 14.6 67 1 0 -15.2 -35.1zM2191.2 1140.3a19.1 14.1 68 1 0 14.6 35.4a19.1 14.1 68 1 0 -14.6 -35.4zM2233.2 1140.2a19.1 13.6 68 1 0 14.1 35.6a19.1 13.6 68 1 0 -14.1 -35.6zM2273.5 1140.1a19.1 13.0 69 1 0 13.6 35.8a19.1 13.0 69 1 0 -13.6 -35.8zM2312.3 1140.0a19.2 12.5 70 1 0 13.2 36.0a19.2 12.5 70 1 0 -13.2 -36.0zM2349.3 1139.9a19.2 11.9 70 1 0 12.8 36.1a19.2 11.9 70 1 0 -12.8 -36.1zM2384.5 1139.8a19.2 11.3 71 1 0 12.5 36.2a19.2 11.3 71 1 0 -12.5 -36.2zM2417.9 1139.8a19.2 10.7 71 1 0 12.2 36.3a19.2 10.7 71 1 0 -12.2 -36.3zM2449.4 1139.7a19.2 10.1 72 1 0 11.9 36.4a19.2 10.1 72 1 0 -11.9 -36.4zM2479.1 1139.7a19.2 9.4 72 1 0 11.7 36.5a19.2 9.4 72 1 0 -11.7 -36.5zM2506.7 1139.7a19.2 8.8 73 1 0 11.5 36.6a19.2 8.8 73 1 0 -11.5 -36.6zM2532.3 1139.6a19.2 8.1 73 1 0 11.3 36.7a19.2 8.1 73 1 0 -11.3 -36.7zM2555.8 1139.6a19.2 7.4 73 1 0 11.1 36.7a19.2 7.4 73 1 0 -11.1 -36.7zM2577.2 1139.6a19.2 6.7 73 1 0 10.9 36.8a19.2 6.7 73 1 0 -10.9 -36.8zM2596.4 1139.5a19.2 6.0 74 1 0 10.8 36.8a19.2 6.0 74 1 0 -10.8 -36.8zM2613.3 1139.5a19.2 5.2 74 1 0 10.7 36.9a19.2 5.2 74 1 0 -10.7 -36.9zM2627.9 1139.5a19.2 4.4 74 1 0 10.6 36.9a19.2 4.4 74 1 0 -10.6 -36.9zM2640.2 1139.5a19.2 3.6 74 1 0 10.5 36.9a19.2 3.6 74 1 0 -10.5 -36.9zM2650.1 1139.5a19.2 2.8 74 1 0 10.4 36.9a19.2 2.8 74 1 0 -10.4 -36.9zM2657.4 1139.5a19.2 2.0 74 1 0 10.3 37.0a19.2 2.0 74 1 0 -10.3 -37.0zM2662.2 1139.5a19.2 1.1 74 1 0 10.3 37.0a19.2 1.1 74 1 0 -10.3 -37.0zM2664.4 1139.5a19.2 0.3 74 1 0 10.3 37.0a19.2 0.3 74 1 0 -10.3 -37.0z"/>
<path d="M155.1 1188.1a19.3 0.6 103 1 0 -8.9 37.5a19.3 0.6 103 1 0 8.9 -37.5zM158.1 1188.1a19.3 1.4 103 1 0 -8.9 37.5a19.3 1.4 103 1 0 8.9 -37.5zM163.7 1188.1a19.3 2.3 103 1 0 -8.9 37.5a19.3 2.3 103 1 0 8.9 -37.5zM172.0 1188.1a19.3 3.2 103 1 0 -9.0 37.5a19.3 3.2 103 1 0 9.0 -37.5zM1288.6 1210.1a19.9 18.7 -9 1 0 39.3 -6.4a19.9 18.7 -9 1 0 -39.3 6.4zM1346.4 1208.1a20.1 18.8 -4 1 0 40.1 -2.5a20.1 18.8 -4 1 0 -40.1 2.5zM1405.2 1206.6a20.3 18.8 1 1 0 40.5 0.4a20.3 18.8 1 1 0 -40.5 -0.4zM1464.2 1205.0a20.0 18.8 5 1 0 39.9 3.6a20.0 18.8 5 1 0 -39.9 -3.6zM1522.8 1202.9a19.8 18.7 11 1 0 38.9 7.9a19.8 18.7 11 1 0 -38.9 -7.9zM1581.0 1200.1a19.6 18.7 20 1 0 36.9 13.5a19.6 18.7 20 1 0 -36.9 -13.5zM1639.1 1197.0a19.5 18.5 30 1 0 33.6 19.7a19.5 18.5 30 1 0 -33.6 -19.7zM1696.7 1194.3a19.4 18.3 41 1 0 29.4 25.2a19.4 18.3 41 1 0 -29.4 -25.2zM1965.7 1189.6a19.2 16.6 64 1 0 16.8 34.6a19.2 16.6 64 1 0 -16.8 -34.6zM2156.0 1188.8a19.2 14.8 70 1 0 13.4 36.1a19.2 14.8 70 1 0 -13.4 -36.1zM2199.9 1188.7a19.3 14.3 71 1 0 12.8 36.3a19.3 14.3 71 1 0 -12.8 -36.3zM2242.3 1188.6a19.3 13.8 71 1 0 12.3 36.5a19.3 13.8 71 1 0 -12.3 -36.5zM2283.1 1188.5a19.3 13.3 72 1 0 11.9 36.6a19.3 13.3 72 1 0 -11.9 -36.6zM2322.1 1188.5a19.3 12.7 73 1 0 11.5 36.8a19.3 12.7 73 1 0 -11.5 -36.8zM2359.5 1188.4a19.3 12.1 73 1 0 11.2 36.9a19.3 12.1 73 1 0 -11.2 -36.9zM2395.1 1188.4a19.3 11.5 74 1 0 10.9 37.0a19.3 11.5 74 1 0 -10.9 -37.0zM2428.8 1188.3a19.3 10.9 74 1 0 10.6 37.1a19.3 10.9 74 1 0 -10.6 -37.1zM2460.6 1188.3a19.3 10.3 74 1 0 10.4 37.1a19.3 10.3 74 1 0 -10.4 -37.1zM2490.5 1188.3a19.3 9.6 75 1 0 10.1 37.2a19.3 9.6 75 1 0 -10.1 -37.2zM2518.4 1188.2a19.3 8.9 75 1 0 9.9 37.3a19.3 8.9 75 1 0 -9.9 -37.3zM2544.3 1188.2a19.3 8.3 75 1 0 9.8 37.3a19.3 8.3 75 1 0 -9.8 -37.3zM2568.0 1188.2a19.3 7.5 76 1 0 9.6 37.3a19.3 7.5 76 1 0 -9.6 -37.3zM2589.6 1188.2a19.3 6.8 76 1 0 9.4 37.4a19.3 6.8 76 1 0 -9.4 -37.4zM2609.0 1188.1a19.3 6.1 76 1 0 9.3 37.4a19.3 6.1 76 1 0 -9.3 -37.4zM2626.1 1188.1a19.3 5.3 76 1 0 9.2 37.5a19.3 5.3 76 1 0 -9.2 -37.5zM2640.8 1188.1a19.3 4.5 76 1 0 9.1 37.5a19.3 4.5 76 1 0 -9.1 -37.5zM2653.2 1188.1a19.3 3.7 76 1 0 9.0 37.5a19.3 3.7 76 1 0 -9.0 -37.5zM2663.2 1188.1a19.3 2.9 77 1 0 9.0 37.5a19.3 2.9 77 1 0 -9.0 -37.5zM2670.6 1188.1a19.3 2.0 77 1 0 8.9 37.5a19.3 2.0 77 1 0 -8.9 -37.5zM2675.5 1188.1a19.3 1.2 77 1 0 8.9 37.5a19.3 1.2 77 1 0 -8.9 -37.5zM2677.6 1188.1a19.3 0.3 77 1 0 8.8 37.5a19.3 0.3 77 1 0 -8.8 -37.5z"/>
<path d="M160.7 1237.4a19.4 3.2 101 1 0 -7.5 38.1a19.4 3.2 101 1 0 7.5 -38.1zM1287.5 1259.5a20.0 19.0 -9 1 0 39.6 -6.0a20.0 19.0 -9 1 0 -39.6 6.0zM1345.8 1257.6a20.3 19.0 -3 1 0 40.5 -2.3a20.3 19.0 -3 1 0 -40.5 2.3zM1405.1 1256.3a20.4 19.0 1 1 0 40.9 0.4a20.4 19.0 1 1 0 -40.9 -0.4zM1464.6 1254.8a20.2 19.0 5 1 0 40.3 3.3a20.2 19.0 5 1 0 -40.3 -3.3zM1523.6 1252.7a20.0 19.0 11 1 0 39.3 7.5a20.0 19.0 11 1 0 -39.3 -7.5zM1582.4 1249.8a19.8 18.9 20 1 0 37.2 13.4a19.8 18.9 20 1 0 -37.2 -13.4zM1641.2 1246.2a19.6 18.8 32 1 0 33.4 20.5a19.6 18.8 32 1 0 -33.4 -20.5zM1699.8 1243.0a19.5 18.6 44 1 0 28.2 26.9a19.5 18.6 44 1 0 -28.2 -26.9zM1971.6 1238.5a19.4 16.9 68 1 0 14.6 35.9a19.4 16.9 68 1 0 -14.6 -35.9zM2163.3 1238.0a19.4 15.1 73 1 0 11.4 37.0a19.4 15.1 73 1 0 -11.4 -37.0zM2207.6 1237.9a19.4 14.6 74 1 0 10.9 37.2a19.4 14.6 74 1 0 -10.9 -37.2zM2250.3 1237.8a19.4 14.0 74 1 0 10.5 37.3a19.4 14.0 74 1 0 -10.5 -37.3zM2291.3 1237.8a19.4 13.5 75 1 0 10.1 37.4a19.4 13.5 75 1 0 -10.1 -37.4zM2330.7 1237.7a19.4 12.9 75 1 0 9.7 37.5a19.4 12.9 75 1 0 -9.7 -37.5zM2368.4 1237.7a19.4 12.3 76 1 0 9.4 37.6a19.4 12.3 76 1 0 -9.4 -37.6zM2404.2 1237.6a19.4 11.7 76 1 0 9.2 37.7a19.4 11.7 76 1 0 -9.2 -37.7zM2438.2 1237.6a19.4 11.1 77 1 0 8.9 37.7a19.4 11.1 77 1 0 -8.9 -37.7zM2470.3 1237.6a19.4 10.4 77 1 0 8.7 37.8a19.4 10.4 77 1 0 -8.7 -37.8zM2500.4 1237.5a19.4 9.8 77 1 0 8.5 37.8a19.4 9.8 77 1 0 -8.5 -37.8zM2528.6 1237.5a19.4 9.1 78 1 0 8.3 37.9a19.4 9.1 78 1 0 -8.3 -37.9zM2554.6 1237.5a19.4 8.4 78 1 0 8.2 37.9a19.4 8.4 78 1 0 -8.2 -37.9zM2578.5 1237.5a19.4 7.7 78 1 0 8.0 37.9a19.4 7.7 78 1 0 -8.0 -37.9zM2600.3 1237.5a19.4 6.9 78 1 0 7.9 38.0a19.4 6.9 78 1 0 -7.9 -38.0zM2619.8 1237.5a19.4 6.2 78 1 0 7.8 38.0a19.4 6.2 78 1 0 -7.8 -38.0zM2637.0 1237.5a19.4 5.4 79 1 0 7.7 38.0a19.4 5.4 79 1 0 -7.7 -38.0zM2651.9 1237.4a19.4 4.6 79 1 0 7.6 38.0a19.4 4.6 79 1 0 -7.6 -38.0zM2664.4 1237.4a19.4 3.8 79 1 0 7.5 38.0a19.4 3.8 79 1 0 -7.5 -38.0zM2674.5 1237.4a19.4 2.9 79 1 0 7.5 38.1a19.4 2.9 79 1 0 -7.5 -38.1zM2681.9 1237.4a19.4 2.1 79 1 0 7.4 38.1a19.4 2.1 79 1 0 -7.4 -38.1zM2686.8 1237.4a19.4 1.2 79 1 0 7.4 38.1a19.4 1.2 79 1 0 -7.4 -38.1zM2689.0 1237.4a19.4 0.3 79 1 0 7.4 38.1a19.4 0.3 79 1 0 -7.4 -38.1z"/>
<path d="M151.4 1287.5a19.5 3.3 99 1 0 -6.0 38.6a19.5 3.3 99 1 0 6.0 -38.6zM2411.9 1287.6a19.5 11.9 79 1 0 7.3 38.3a19.5 11.9 79 1 0 -7.3 -38.3zM2446.1 1287.6a19.5 11.2 79 1 0 7.1 38.4a19.5 11.2 79 1 0 -7.1 -38.4zM2478.4 1287.6a19.5 10.6 80 1 0 7.0 38.4a19.5 10.6 80 1 0 -7.0 -38.4zM2508.7 1287.6a19.5 9.9 80 1 0 6.8 38.4a19.5 9.9 80 1 0 -6.8 -38.4zM2537.0 1287.5a19.5 9.2 80 1 0 6.7 38.5a19.5 9.2 80 1 0 -6.7 -38.5zM2563.2 1287.5a19.5 8.5 80 1 0 6.5 38.5a19.5 8.5 80 1 0 -6.5 -38.5zM2587.3 1287.5a19.5 7.8 81 1 0 6.4 38.5a19.5 7.8 81 1 0 -6.4 -38.5zM2609.2 1287.5a19.5 7.0 81 1 0 6.3 38.5a19.5 7.0 81 1 0 -6.3 -38.5zM2628.8 1287.5a19.5 6.3 81 1 0 6.2 38.5a19.5 6.3 81 1 0 -6.2 -38.5zM2646.2 1287.5a19.5 5.5 81 1 0 6.1 38.5a19.5 5.5 81 1 0 -6.1 -38.5zM2661.2 1287.5a19.5 4.7 81 1 0 6.1 38.6a19.5 4.7 81 1 0 -6.1 -38.6zM2673.7 1287.5a19.5 3.8 81 1 0 6.0 38.6a19.5 3.8 81 1 0 -6.0 -38.6zM2683.8 1287.5a19.5 3.0 81 1 0 6.0 38.6a19.5 3.0 81 1 0 -6.0 -38.6zM2691.4 1287.5a19.5 2.1 81 1 0 5.9 38.6a19.5 2.1 81 1 0 -5.9 -38.6zM2696.3 1287.5a19.5 1.2 81 1 0 5.9 38.6a19.5 1.2 81 1 0 -5.9 -38.6zM2698.5 1287.5a19.5 0.3 81 1 0 5.9 38.6a19.5 0.3 81 1 0 -5.9 -38.6z"/>
<path d="M135.6 1338.2a19.7 2.4 96 1 0 -4.4 39.1a19.7 2.4 96 1 0 4.4 -39.1zM2515.3 1338.2a19.7 10.0 83 1 0 5.0 39.0a19.7 10.0 83 1 0 -5.0 -39.0zM2543.8 1338.2a19.7 9.3 83 1 0 4.9 39.0a19.7 9.3 83 1 0 -4.9 -39.0zM2570.1 1338.2a19.7 8.6 83 1 0 4.8 39.0a19.7 8.6 83 1 0 -4.8 -39.0zM2594.3 1338.2a19.7 7.9 83 1 0 4.7 39.0a19.7 7.9 83 1 0 -4.7 -39.0zM2616.3 1338.2a19.7 7.1 83 1 0 4.7 39.0a19.7 7.1 83 1 0 -4.7 -39.0zM2636.0 1338.2a19.7 6.3 83 1 0 4.6 39.0a19.7 6.3 83 1 0 -4.6 -39.0zM2653.4 1338.2a19.7 5.5 83 1 0 4.5 39.0a19.7 5.5 83 1 0 -4.5 -39.0zM2668.5 1338.2a19.7 4.7 83 1 0 4.5 39.0a19.7 4.7 83 1 0 -4.5 -39.0zM2681.1 1338.2a19.7 3.9 83 1 0 4.5 39.1a19.7 3.9 83 1 0 -4.5 -39.1zM2691.3 1338.2a19.7 3.0 84 1 0 4.4 39.1a19.7 3.0 84 1 0 -4.4 -39.1zM2698.8 1338.2a19.7 2.1 84 1 0 4.4 39.1a19.7 2.1 84 1 0 -4.4 -39.1zM2703.8 1338.2a19.7 1.2 84 1 0 4.4 39.1a19.7 1.2 84 1 0 -4.4 -39.1zM2706.0 1338.2a19.7 0.3 84 1 0 4.4 39.1a19.7 0.3 84 1 0 -4.4 -39.1z"/>
<path d="M2386.4 1389.6a19.8 12.7 85 1 0 3.6 39.4a19.8 12.7 85 1 0 -3.6 -39.4zM2548.8 1389.5a19.8 9.4 85 1 0 3.1 39.5a19.8 9.4 85 1 0 -3.1 -39.5zM2575.2 1389.5a19.8 8.7 86 1 0 3.1 39.5a19.8 8.7 86 1 0 -3.1 -39.5zM2599.4 1389.5a19.8 7.9 86 1 0 3.0 39.5a19.8 7.9 86 1 0 -3.0 -39.5zM2621.5 1389.5a19.8 7.2 86 1 0 3.0 39.5a19.8 7.2 86 1 0 -3.0 -39.5zM2641.3 1389.5a19.8 6.4 86 1 0 2.9 39.5a19.8 6.4 86 1 0 -2.9 -39.5zM2658.8 1389.5a19.8 5.6 86 1 0 2.9 39.5a19.8 5.6 86 1 0 -2.9 -39.5zM2673.9 1389.5a19.8 4.7 86 1 0 2.9 39.5a19.8 4.7 86 1 0 -2.9 -39.5zM2686.5 1389.5a19.8 3.9 86 1 0 2.8 39.5a19.8 3.9 86 1 0 -2.8 -39.5zM2696.7 1389.5a19.8 3.0 86 1 0 2.8 39.5a19.8 3.0 86 1 0 -2.8 -39.5zM2704.3 1389.5a19.8 2.1 86 1 0 2.8 39.5a19.8 2.1 86 1 0 -2.8 -39.5zM2709.2 1389.5a19.8 1.2 86 1 0 2.8 39.5a19.8 1.2 86 1 0 -2.8 -39.5zM2711.5 1389.5a19.8 0.3 86 1 0 2.8 39.5a19.8 0.3 86 1 0 -2.8 -39.5z"/>
<path d="M120.9 1441.4a20.0 1.5 92 1 0 -1.2 39.9a20.0 1.5 92 1 0 1.2 -39.9zM2578.4 1441.4a20.0 8.7 88 1 0 1.3 39.9a20.0 8.7 88 1 0 -1.3 -39.9zM2602.7 1441.4a20.0 8.0 88 1 0 1.3 39.9a20.0 8.0 88 1 0 -1.3 -39.9zM2624.8 1441.4a20.0 7.2 88 1 0 1.3 39.9a20.0 7.2 88 1 0 -1.3 -39.9zM2644.6 1441.4a20.0 6.4 88 1 0 1.2 39.9a20.0 6.4 88 1 0 -1.2 -39.9zM2700.1 1441.4a20.0 3.1 88 1 0 1.2 39.9a20.0 3.1 88 1 0 -1.2 -39.9zM2707.7 1441.4a20.0 2.2 88 1 0 1.2 39.9a20.0 2.2 88 1 0 -1.2 -39.9zM2712.7 1441.4a20.0 1.2 88 1 0 1.2 39.9a20.0 1.2 88 1 0 -1.2 -39.9zM2714.9 1441.4a20.0 0.3 88 1 0 1.2 39.9a20.0 0.3 88 1 0 -1.2 -39.9z"/>
<path d="M1073.6 1494.0a20.0 19.2 88 1 0 1.5 40.1a20.0 19.2 88 1 0 -1.5 -40.1zM1129.8 1494.0a20.0 19.5 87 1 0 2.0 40.1a20.0 19.5 87 1 0 -2.0 -40.1zM1186.2 1494.1a20.1 19.8 85 1 0 3.7 39.9a20.1 19.8 85 1 0 -3.7 -39.9zM1226.6 1509.7a20.1 20.0 12 1 0 39.3 8.6a20.1 20.0 12 1 0 -39.3 -8.6zM1285.0 1513.4a20.4 20.0 2 1 0 40.8 1.2a20.4 20.0 2 1 0 -40.8 -1.2zM1344.5 1513.9a20.6 20.0 0 1 0 41.3 0.3a20.6 20.0 0 1 0 -41.3 -0.3zM1404.9 1514.0a20.8 20.0 -0 1 0 41.6 -0.0a20.8 20.0 -0 1 0 -41.6 0.0zM1465.4 1514.3a20.6 20.0 -1 1 0 41.1 -0.5a20.6 20.0 -1 1 0 -41.1 0.5zM1525.3 1515.0a20.3 20.0 -3 1 0 40.6 -1.9a20.3 20.0 -3 1 0 -40.6 1.9zM1613.9 1496.4a20.1 20.0 118 1 0 -19.1 35.3a20.1 20.0 118 1 0 19.1 -35.3zM1663.7 1494.0a20.0 19.7 94 1 0 -2.8 40.0a20.0 19.7 94 1 0 2.8 -40.0zM1720.2 1494.0a20.0 19.4 93 1 0 -1.8 40.1a20.0 19.4 93 1 0 1.8 -40.1zM1776.1 1494.0a20.0 19.1 92 1 0 -1.4 40.1a20.0 19.1 92 1 0 1.4 -40.1zM1831.1 1494.0a20.0 18.7 92 1 0 -1.2 40.1a20.0 18.7 92 1 0 1.2 -40.1zM1885.1 1494.0a20.0 18.3 91 1 0 -1.0 40.1a20.0 18.3 91 1 0 1.0 -40.1zM1937.9 1494.0a20.0 17.9 91 1 0 -1.0 40.1a20.0 17.9 91 1 0 1.0 -40.1zM1989.5 1494.0a20.0 17.5 91 1 0 -0.9 40.1a20.0 17.5 91 1 0 0.9 -40.1zM2039.9 1494.0a20.0 17.1 91 1 0 -0.8 40.1a20.0 17.1 91 1 0 0.8 -40.1zM2089.0 1494.0a20.0 16.6 91 1 0 -0.8 40.1a20.0 16.6 91 1 0 0.8 -40.1zM2136.8 1494.0a20.0 16.1 91 1 0 -0.7 40.1a20.0 16.1 91 1 0 0.7 -40.1zM2183.1 1494.0a20.0 15.6 91 1 0 -0.7 40.1a20.0 15.6 91 1 0 0.7 -40.1zM2579.7 1494.0a20.0 8.7 91 1 0 -0.5 40.1a20.0 8.7 91 1 0 0.5 -40.1zM2604.0 1494.0a20.0 8.0 91 1 0 -0.5 40.1a20.0 8.0 91 1 0 0.5 -40.1zM2626.1 1494.0a20.0 7.2 91 1 0 -0.5 40.1a20.0 7.2 91 1 0 0.5 -40.1zM2645.9 1494.0a20.0 6.4 91 1 0 -0.5 40.1a20.0 6.4 91 1 0 0.5 -40.1zM2701.4 1494.0a20.0 3.1 91 1 0 -0.5 40.1a20.0 3.1 91 1 0 0.5 -40.1zM2709.0 1494.0a20.0 2.2 91 1 0 -0.5 40.1a20.0 2.2 91 1 0 0.5 -40.1zM2713.9 1494.0a20.0 1.2 91 1 0 -0.5 40.1a20.0 1.2 91 1 0 0.5 -40.1zM2716.2 1494.0a20.0 0.3 91 1 0 -0.5 40.1a20.0 0.3 91 1 0 0.5 -40.1z"/>
<path d="M117.4 1546.5a19.9 0.6 87 1 0 2.1 39.7a19.9 0.6 87 1 0 -2.1 -39.7zM134.7 1546.5a19.9 3.3 87 1 0 2.1 39.7a19.9 3.3 87 1 0 -2.1 -39.7zM1071.0 1546.9a19.9 19.1 79 1 0 7.6 39.0a19.9 19.1 79 1 0 -7.6 -39.0zM1125.5 1547.3a19.9 19.5 74 1 0 11.3 38.1a19.9 19.5 74 1 0 -11.3 -38.1zM1176.2 1550.6a19.9 19.7 52 1 0 24.3 31.6a19.9 19.7 52 1 0 -24.3 -31.6zM1227.1 1561.3a20.1 19.8 15 1 0 38.9 10.2a20.1 19.8 15 1 0 -38.9 -10.2zM1285.2 1564.6a20.4 19.8 5 1 0 40.6 3.5a20.4 19.8 5 1 0 -40.6 -3.5zM1344.6 1565.8a20.6 19.8 2 1 0 41.2 1.1a20.6 19.8 2 1 0 -41.2 -1.1zM1404.9 1566.5a20.8 19.8 -0 1 0 41.5 -0.2a20.8 19.8 -0 1 0 -41.5 0.2zM1465.4 1567.2a20.5 19.8 -2 1 0 41.0 -1.6a20.5 19.8 -2 1 0 -41.0 1.6zM1525.2 1568.8a20.3 19.8 -7 1 0 40.3 -4.8a20.3 19.8 -7 1 0 -40.3 4.8zM1585.6 1574.0a20.0 19.8 -22 1 0 37.1 -15.2a20.0 19.8 -22 1 0 -37.1 15.2zM1671.0 1548.7a19.9 19.6 117 1 0 -18.1 35.4a19.9 19.6 117 1 0 18.1 -35.4zM1723.8 1547.1a19.9 19.4 104 1 0 -9.7 38.6a19.9 19.4 104 1 0 9.7 -38.6zM1778.5 1546.8a19.9 19.0 100 1 0 -7.0 39.1a19.9 19.0 100 1 0 7.0 -39.1zM1832.9 1546.7a19.9 18.7 98 1 0 -5.8 39.3a19.9 18.7 98 1 0 5.8 -39.3zM1886.4 1546.7a19.9 18.3 97 1 0 -5.0 39.4a19.9 18.3 97 1 0 5.0 -39.4zM1939.0 1546.6a19.9 17.9 96 1 0 -4.5 39.5a19.9 17.9 96 1 0 4.5 -39.5zM1990.4 1546.6a19.9 17.5 96 1 0 -4.1 39.5a19.9 17.5 96 1 0 4.1 -39.5zM2040.6 1546.6a19.9 17.0 96 1 0 -3.8 39.6a19.9 17.0 96 1 0 3.8 -39.6zM2089.6 1546.6a19.9 16.6 95 1 0 -3.6 39.6a19.9 16.6 95 1 0 3.6 -39.6zM2137.1 1546.6a19.9 16.1 95 1 0 -3.4 39.6a19.9 16.1 95 1 0 3.4 -39.6zM2183.3 1546.6a19.9 15.6 95 1 0 -3.2 39.6a19.9 15.6 95 1 0 3.2 -39.6zM2579.1 1546.5a19.9 8.7 93 1 0 -2.3 39.7a19.9 8.7 93 1 0 2.3 -39.7zM2603.4 1546.5a19.9 7.9 93 1 0 -2.3 39.7a19.9 7.9 93 1 0 2.3 -39.7zM2625.4 1546.5a19.9 7.2 93 1 0 -2.3 39.7a19.9 7.2 93 1 0 2.3 -39.7zM2700.5 1546.5a19.9 3.0 93 1 0 -2.1 39.7a19.9 3.0 93 1 0 2.1 -39.7zM2708.1 1546.5a19.9 2.2 93 1 0 -2.1 39.7a19.9 2.2 93 1 0 2.1 -39.7zM2713.1 1546.5a19.9 1.2 93 1 0 -2.1 39.7a19.9 1.2 93 1 0 2.1 -39.7zM2715.3 1546.5a19.9 0.3 93 1 0 -2.1 39.7a19.9 0.3 93 1 0 2.1 -39.7z"/>
<path d="M123.5 1598.6a19.7 1.5 85 1 0 3.7 39.3a19.7 1.5 85 1 0 -3.7 -39.3zM129.3 1598.6a19.7 2.4 85 1 0 3.7 39.3a19.7 2.4 85 1 0 -3.7 -39.3zM1068.5 1599.8a19.7 19.0 68 1 0 14.5 36.7a19.7 19.0 68 1 0 -14.5 -36.7zM1121.5 1601.4a19.8 19.3 58 1 0 21.0 33.5a19.8 19.3 58 1 0 -21.0 -33.5zM1172.9 1606.7a19.9 19.5 35 1 0 32.4 23.0a19.9 19.5 35 1 0 -32.4 -23.0zM1227.7 1612.9a20.1 19.6 15 1 0 38.7 10.6a20.1 19.6 15 1 0 -38.7 -10.6zM1285.6 1615.9a20.3 19.6 6 1 0 40.4 4.6a20.3 19.6 6 1 0 -40.4 -4.6zM1344.8 1617.4a20.6 19.6 2 1 0 41.1 1.6a20.6 19.6 2 1 0 -41.1 -1.6zM1404.9 1618.3a20.7 19.6 -0 1 0 41.4 -0.3a20.7 19.6 -0 1 0 -41.4 0.3zM1465.2 1619.4a20.5 19.6 -3 1 0 40.9 -2.3a20.5 19.6 -3 1 0 -40.9 2.3zM1525.0 1621.2a20.2 19.6 -9 1 0 40.0 -6.0a20.2 19.6 -9 1 0 -40.0 6.0zM1584.8 1625.1a20.0 19.6 -20 1 0 37.5 -13.7a20.0 19.6 -20 1 0 -37.5 13.7zM1646.9 1631.9a19.8 19.5 -44 1 0 28.7 -27.3a19.8 19.5 -44 1 0 -28.7 27.3zM1727.3 1600.7a19.7 19.2 118 1 0 -18.4 34.9a19.7 19.2 118 1 0 18.4 -34.9zM1780.6 1599.6a19.7 18.9 110 1 0 -13.3 37.1a19.7 18.9 110 1 0 13.3 -37.1zM1834.1 1599.2a19.7 18.6 106 1 0 -10.7 37.9a19.7 18.6 106 1 0 10.7 -37.9zM1887.1 1599.0a19.7 18.2 103 1 0 -9.2 38.3a19.7 18.2 103 1 0 9.2 -38.3zM1939.3 1598.9a19.7 17.8 102 1 0 -8.1 38.6a19.7 17.8 102 1 0 8.1 -38.6zM2576.6 1598.6a19.7 8.6 96 1 0 -4.1 39.2a19.7 8.6 96 1 0 4.1 -39.2zM2600.7 1598.6a19.7 7.9 96 1 0 -4.0 39.2a19.7 7.9 96 1 0 4.0 -39.2zM2705.1 1598.6a19.7 2.1 95 1 0 -3.7 39.3a19.7 2.1 95 1 0 3.7 -39.3zM2710.1 1598.6a19.7 1.2 95 1 0 -3.7 39.3a19.7 1.2 95 1 0 3.7 -39.3zM2712.3 1598.6a19.7 0.3 95 1 0 -3.7 39.3a19.7 0.3 95 1 0 3.7 -39.3z"/>
<path d="M134.3 1650.0a19.6 2.4 82 1 0 5.3 38.8a19.6 2.4 82 1 0 -5.3 -38.8zM200.5 1650.0a19.6 6.5 82 1 0 5.6 38.7a19.6 6.5 82 1 0 -5.6 -38.7zM1067.3 1652.6a19.6 18.8 59 1 0 20.1 33.6a19.6 18.8 59 1 0 -20.1 -33.6zM1119.9 1654.9a19.7 19.1 47 1 0 26.6 28.9a19.7 19.1 47 1 0 -26.6 -28.9zM1173.0 1659.4a19.8 19.3 30 1 0 34.2 19.9a19.8 19.3 30 1 0 -34.2 -19.9zM1228.6 1663.9a20.0 19.3 16 1 0 38.5 10.9a20.0 19.3 16 1 0 -38.5 -10.9zM1286.3 1666.8a20.2 19.4 8 1 0 40.1 5.3a20.2 19.4 8 1 0 -40.1 -5.3zM1345.2 1668.4a20.5 19.4 3 1 0 40.9 1.9a20.5 19.4 3 1 0 -40.9 -1.9zM1405.0 1669.6a20.6 19.4 -0 1 0 41.2 -0.3a20.6 19.4 -0 1 0 -41.2 0.3zM1465.0 1670.8a20.4 19.4 -4 1 0 40.7 -2.8a20.4 19.4 -4 1 0 -40.7 2.8zM1524.6 1672.8a20.2 19.4 -10 1 0 39.7 -6.7a20.2 19.4 -10 1 0 -39.7 6.7zM1583.9 1676.1a19.9 19.3 -20 1 0 37.5 -13.4a19.9 19.3 -20 1 0 -37.5 13.4zM1644.1 1680.9a19.7 19.2 -36 1 0 32.0 -23.1a19.7 19.2 -36 1 0 -32.0 23.1zM1728.8 1654.0a19.6 19.0 128 1 0 -24.3 30.9a19.6 19.0 128 1 0 24.3 -30.9zM1781.6 1652.2a19.6 18.7 118 1 0 -18.6 34.5a19.6 18.7 118 1 0 18.6 -34.5zM1834.5 1651.4a19.6 18.4 113 1 0 -15.2 36.1a19.6 18.4 113 1 0 15.2 -36.1zM1887.0 1651.0a19.6 18.0 110 1 0 -13.1 36.9a19.6 18.0 110 1 0 13.1 -36.9zM1938.7 1650.7a19.6 17.6 107 1 0 -11.7 37.3a19.6 17.6 107 1 0 11.7 -37.3zM2596.2 1650.0a19.6 7.8 98 1 0 -5.7 38.7a19.6 7.8 98 1 0 5.7 -38.7zM2705.0 1650.0a19.6 1.2 98 1 0 -5.3 38.8a19.6 1.2 98 1 0 5.3 -38.8zM2707.2 1650.0a19.6 0.3 98 1 0 -5.2 38.8a19.6 0.3 98 1 0 5.2 -38.8z"/>
<path d="M141.4 1700.8a19.4 2.4 80 1 0 6.8 38.3a19.4 2.4 80 1 0 -6.8 -38.3zM189.2 1700.9a19.4 5.7 80 1 0 7.1 38.2a19.4 5.7 80 1 0 -7.1 -38.2zM207.2 1700.9a19.4 6.5 79 1 0 7.2 38.2a19.4 6.5 79 1 0 -7.2 -38.2zM227.3 1700.9a19.4 7.2 79 1 0 7.3 38.2a19.4 7.2 79 1 0 -7.3 -38.2zM249.7 1700.9a19.4 7.9 79 1 0 7.4 38.2a19.4 7.9 79 1 0 -7.4 -38.2zM274.3 1700.9a19.4 8.7 79 1 0 7.5 38.1a19.4 8.7 79 1 0 -7.5 -38.1zM300.9 1700.9a19.4 9.4 79 1 0 7.7 38.1a19.4 9.4 79 1 0 -7.7 -38.1zM1067.5 1704.6a19.5 18.6 52 1 0 23.8 30.8a19.5 18.6 52 1 0 -23.8 -30.8zM1120.3 1707.0a19.6 18.8 42 1 0 29.2 26.0a19.6 18.8 42 1 0 -29.2 -26.0zM1174.1 1710.7a19.7 19.0 28 1 0 34.7 18.6a19.7 19.0 28 1 0 -34.7 -18.6zM1229.7 1714.4a19.9 19.1 16 1 0 38.2 11.2a19.9 19.1 16 1 0 -38.2 -11.2zM1287.1 1717.1a20.1 19.1 8 1 0 39.8 5.8a20.1 19.1 8 1 0 -39.8 -5.8zM1345.6 1718.9a20.3 19.1 3 1 0 40.6 2.2a20.3 19.1 3 1 0 -40.6 -2.2zM1405.0 1720.2a20.5 19.1 -1 1 0 41.0 -0.4a20.5 19.1 -1 1 0 -41.0 0.4zM1464.7 1721.6a20.3 19.1 -4 1 0 40.4 -3.2a20.3 19.1 -4 1 0 -40.4 3.2zM1523.9 1723.6a20.0 19.1 -10 1 0 39.4 -7.3a20.0 19.1 -10 1 0 -39.4 7.3zM1582.9 1726.7a19.8 19.1 -20 1 0 37.3 -13.3a19.8 19.1 -20 1 0 -37.3 13.3zM1642.1 1730.5a19.6 18.9 -32 1 0 33.2 -21.1a19.6 18.9 -32 1 0 -33.2 21.1zM1728.6 1706.1a19.5 18.7 135 1 0 -27.4 27.8a19.5 18.7 135 1 0 27.4 -27.8zM1781.3 1704.1a19.5 18.5 125 1 0 -22.4 31.8a19.5 18.5 125 1 0 22.4 -31.8zM1833.8 1703.0a19.4 18.2 119 1 0 -18.9 34.0a19.4 18.2 119 1 0 18.9 -34.0zM1885.8 1702.4a19.4 17.8 115 1 0 -16.5 35.2a19.4 17.8 115 1 0 16.5 -35.2zM1937.1 1702.0a19.4 17.4 112 1 0 -14.7 35.9a19.4 17.4 112 1 0 14.7 -35.9zM2220.5 1701.2a19.4 14.7 105 1 0 -10.0 37.5a19.4 14.7 105 1 0 10.0 -37.5zM2589.8 1700.9a19.4 7.7 101 1 0 -7.3 38.2a19.4 7.7 101 1 0 7.3 -38.2zM2697.9 1700.8a19.4 1.2 100 1 0 -6.8 38.3a19.4 1.2 100 1 0 6.8 -38.3zM2700.1 1700.8a19.4 0.3 100 1 0 -6.8 38.3a19.4 0.3 100 1 0 6.8 -38.3z"/>
<path d="M158.6 1751.0a19.3 3.2 78 1 0 8.3 37.7a19.3 3.2 78 1 0 -8.3 -37.7zM169.3 1751.0a19.3 4.0 77 1 0 8.4 37.7a19.3 4.0 77 1 0 -8.4 -37.7zM182.4 1751.0a19.3 4.8 77 1 0 8.5 37.7a19.3 4.8 77 1 0 -8.5 -37.7zM197.9 1751.1a19.3 5.6 77 1 0 8.6 37.7a19.3 5.6 77 1 0 -8.6 -37.7zM215.6 1751.1a19.3 6.4 77 1 0 8.7 37.7a19.3 6.4 77 1 0 -8.7 -37.7zM235.7 1751.1a19.3 7.1 77 1 0 8.8 37.6a19.3 7.1 77 1 0 -8.8 -37.6zM257.9 1751.1a19.3 7.8 77 1 0 9.0 37.6a19.3 7.8 77 1 0 -9.0 -37.6zM282.2 1751.1a19.3 8.5 76 1 0 9.1 37.6a19.3 8.5 76 1 0 -9.1 -37.6zM308.6 1751.1a19.3 9.2 76 1 0 9.3 37.5a19.3 9.2 76 1 0 -9.3 -37.5zM1069.0 1755.6a19.4 18.3 48 1 0 26.0 28.7a19.4 18.3 48 1 0 -26.0 -28.7zM1121.9 1757.8a19.4 18.5 38 1 0 30.5 24.2a19.4 18.5 38 1 0 -30.5 -24.2zM1175.8 1760.9a19.6 18.7 27 1 0 34.8 17.9a19.6 18.7 27 1 0 -34.8 -17.9zM1231.2 1764.2a19.8 18.8 17 1 0 37.8 11.5a19.8 18.8 17 1 0 -37.8 -11.5zM1288.1 1766.8a20.0 18.9 9 1 0 39.4 6.2a20.0 18.9 9 1 0 -39.4 -6.2zM1346.2 1768.7a20.2 18.9 3 1 0 40.3 2.4a20.2 18.9 3 1 0 -40.3 -2.4zM1405.1 1770.1a20.3 18.9 -1 1 0 40.7 -0.4a20.3 18.9 -1 1 0 -40.7 0.4zM1464.4 1771.6a20.1 18.9 -5 1 0 40.1 -3.5a20.1 18.9 -5 1 0 -40.1 3.5zM1523.1 1773.8a19.9 18.8 -11 1 0 39.0 -7.7a19.9 18.8 -11 1 0 -39.0 7.7zM1581.6 1776.6a19.7 18.8 -20 1 0 37.0 -13.4a19.7 18.8 -20 1 0 -37.0 13.4zM1640.0 1779.9a19.5 18.7 -31 1 0 33.5 -20.0a19.5 18.7 -31 1 0 -33.5 20.0zM1698.1 1782.8a19.4 18.5 -42 1 0 29.0 -25.8a19.4 18.5 -42 1 0 -29.0 25.8zM1779.8 1755.0a19.4 18.2 130 1 0 -24.8 29.7a19.4 18.2 130 1 0 24.8 -29.7zM1832.0 1753.9a19.3 17.9 124 1 0 -21.5 32.1a19.3 17.9 124 1 0 21.5 -32.1zM1883.6 1753.1a19.3 17.5 120 1 0 -19.1 33.5a19.3 17.5 120 1 0 19.1 -33.5zM1934.4 1752.7a19.3 17.2 117 1 0 -17.3 34.5a19.3 17.2 117 1 0 17.3 -34.5zM1984.2 1752.3a19.3 16.8 114 1 0 -15.9 35.1a19.3 16.8 114 1 0 15.9 -35.1zM2171.8 1751.7a19.3 15.0 109 1 0 -12.6 36.5a19.3 15.0 109 1 0 12.6 -36.5zM2215.4 1751.6a19.3 14.4 108 1 0 -12.0 36.7a19.3 14.4 108 1 0 12.0 -36.7zM2581.6 1751.1a19.3 7.6 103 1 0 -8.9 37.6a19.3 7.6 103 1 0 8.9 -37.6zM2688.8 1751.0a19.3 1.2 102 1 0 -8.2 37.8a19.3 1.2 102 1 0 8.2 -37.8zM2691.0 1751.0a19.3 0.3 102 1 0 -8.2 37.8a19.3 0.3 102 1 0 8.2 -37.8z"/>
<path d="M193.0 1800.5a19.2 4.7 75 1 0 10.0 37.1a19.2 4.7 75 1 0 -10.0 -37.1zM208.4 1800.6a19.2 5.5 75 1 0 10.1 37.1a19.2 5.5 75 1 0 -10.1 -37.1zM225.9 1800.6a19.2 6.2 75 1 0 10.2 37.1a19.2 6.2 75 1 0 -10.2 -37.1zM245.8 1800.6a19.2 7.0 74 1 0 10.4 37.0a19.2 7.0 74 1 0 -10.4 -37.0zM267.8 1800.6a19.2 7.7 74 1 0 10.5 37.0a19.2 7.7 74 1 0 -10.5 -37.0zM291.9 1800.6a19.2 8.4 74 1 0 10.7 36.9a19.2 8.4 74 1 0 -10.7 -36.9zM318.0 1800.7a19.2 9.1 74 1 0 10.9 36.9a19.2 9.1 74 1 0 -10.9 -36.9zM346.2 1800.7a19.2 9.7 73 1 0 11.1 36.8a19.2 9.7 73 1 0 -11.1 -36.8zM1405.2 1819.3a20.1 18.6 -1 1 0 40.3 -0.4a20.1 18.6 -1 1 0 -40.3 0.4zM1463.9 1821.0a19.9 18.6 -5 1 0 39.7 -3.8a19.9 18.6 -5 1 0 -39.7 3.8zM1522.2 1823.2a19.7 18.6 -12 1 0 38.6 -8.1a19.7 18.6 -12 1 0 -38.6 8.1zM1580.1 1825.9a19.5 18.5 -20 1 0 36.6 -13.5a19.5 18.5 -20 1 0 -36.6 13.5zM1637.8 1828.8a19.4 18.3 -30 1 0 33.6 -19.4a19.4 18.3 -30 1 0 -33.6 19.4zM1694.9 1831.3a19.3 18.1 -39 1 0 29.8 -24.5a19.3 18.1 -39 1 0 -29.8 24.5zM1777.3 1805.1a19.2 17.9 133 1 0 -26.3 28.1a19.2 17.9 133 1 0 26.3 -28.1zM1829.2 1803.9a19.2 17.6 127 1 0 -23.4 30.5a19.2 17.6 127 1 0 23.4 -30.5zM1880.4 1803.1a19.2 17.2 123 1 0 -21.1 32.0a19.2 17.2 123 1 0 21.1 -32.0zM1930.7 1802.6a19.2 16.9 120 1 0 -19.3 33.1a19.2 16.9 120 1 0 19.3 -33.1zM1980.1 1802.2a19.2 16.5 118 1 0 -17.9 33.9a19.2 16.5 118 1 0 17.9 -33.9zM2165.8 1801.3a19.2 14.7 112 1 0 -14.4 35.5a19.2 14.7 112 1 0 14.4 -35.5zM2677.8 1800.5a19.2 1.2 105 1 0 -9.7 37.2a19.2 1.2 105 1 0 9.7 -37.2zM2679.9 1800.5a19.2 0.3 105 1 0 -9.7 37.2a19.2 0.3 105 1 0 9.7 -37.2z"/>
<path d="M205.5 1849.3a19.1 4.6 73 1 0 11.4 36.5a19.1 4.6 73 1 0 -11.4 -36.5zM220.6 1849.3a19.1 5.4 72 1 0 11.5 36.5a19.1 5.4 72 1 0 -11.5 -36.5zM238.0 1849.3a19.1 6.1 72 1 0 11.7 36.4a19.1 6.1 72 1 0 -11.7 -36.4zM257.6 1849.4a19.1 6.8 72 1 0 11.8 36.4a19.1 6.8 72 1 0 -11.8 -36.4zM279.4 1849.4a19.1 7.5 72 1 0 12.0 36.3a19.1 7.5 72 1 0 -12.0 -36.3zM303.2 1849.4a19.1 8.2 71 1 0 12.2 36.3a19.1 8.2 71 1 0 -12.2 -36.3zM329.1 1849.5a19.1 8.9 71 1 0 12.4 36.2a19.1 8.9 71 1 0 -12.4 -36.2zM356.9 1849.5a19.1 9.5 71 1 0 12.6 36.1a19.1 9.5 71 1 0 -12.6 -36.1zM386.7 1849.6a19.1 10.1 70 1 0 12.9 36.0a19.1 10.1 70 1 0 -12.9 -36.0zM418.3 1849.6a19.1 10.8 70 1 0 13.2 35.9a19.1 10.8 70 1 0 -13.2 -35.9zM1405.3 1867.8a19.9 18.3 -1 1 0 39.9 -0.5a19.9 18.3 -1 1 0 -39.9 0.5zM1463.4 1869.6a19.7 18.3 -6 1 0 39.2 -4.0a19.7 18.3 -6 1 0 -39.2 4.0zM1521.1 1871.8a19.5 18.3 -13 1 0 38.1 -8.5a19.5 18.3 -13 1 0 -38.1 8.5zM1578.4 1874.4a19.3 18.2 -21 1 0 36.2 -13.7a19.3 18.2 -21 1 0 -36.2 13.7zM1635.3 1877.1a19.2 18.0 -30 1 0 33.4 -19.0a19.2 18.0 -30 1 0 -33.4 19.0zM1691.6 1879.3a19.1 17.8 -38 1 0 30.2 -23.5a19.1 17.8 -38 1 0 -30.2 23.5zM1774.0 1854.2a19.1 17.5 135 1 0 -27.1 26.8a19.1 17.5 135 1 0 27.1 -26.8zM1825.5 1853.0a19.0 17.2 130 1 0 -24.6 29.1a19.0 17.2 130 1 0 24.6 -29.1zM1876.2 1852.2a19.0 16.9 126 1 0 -22.5 30.7a19.0 16.9 126 1 0 22.5 -30.7zM1926.0 1851.7a19.0 16.5 123 1 0 -20.9 31.8a19.0 16.5 123 1 0 20.9 -31.8zM1974.9 1851.2a19.0 16.1 121 1 0 -19.6 32.7a19.0 16.1 121 1 0 19.6 -32.7zM2158.6 1850.3a19.1 14.4 115 1 0 -16.1 34.6a19.1 14.4 115 1 0 16.1 -34.6zM2664.9 1849.3a19.1 1.1 107 1 0 -11.1 36.6a19.1 1.1 107 1 0 11.1 -36.6zM2667.0 1849.2a19.1 0.3 107 1 0 -11.1 36.6a19.1 0.3 107 1 0 11.1 -36.6z"/>
<path d="M219.7 1897.3a19.1 4.5 70 1 0 12.8 35.9a19.1 4.5 70 1 0 -12.8 -35.9zM234.7 1897.3a19.1 5.2 70 1 0 12.9 35.8a19.1 5.2 70 1 0 -12.9 -35.8zM251.9 1897.3a19.1 6.0 70 1 0 13.1 35.8a19.1 6.0 70 1 0 -13.1 -35.8zM271.2 1897.4a19.0 6.6 70 1 0 13.2 35.7a19.0 6.6 70 1 0 -13.2 -35.7zM292.7 1897.4a19.0 7.3 69 1 0 13.4 35.6a19.0 7.3 69 1 0 -13.4 -35.6zM316.2 1897.5a19.0 8.0 69 1 0 13.6 35.6a19.0 8.0 69 1 0 -13.6 -35.6zM341.8 1897.5a19.0 8.6 69 1 0 13.8 35.5a19.0 8.6 69 1 0 -13.8 -35.5zM369.3 1897.6a19.0 9.3 68 1 0 14.1 35.4a19.0 9.3 68 1 0 -14.1 -35.4zM398.7 1897.6a19.0 9.9 68 1 0 14.3 35.2a19.0 9.9 68 1 0 -14.3 -35.2zM429.9 1897.7a19.0 10.5 67 1 0 14.6 35.1a19.0 10.5 67 1 0 -14.6 -35.1zM1462.9 1917.4a19.5 18.0 -6 1 0 38.7 -4.2a19.5 18.0 -6 1 0 -38.7 4.2zM1519.8 1919.6a19.3 17.9 -13 1 0 37.6 -8.8a19.3 17.9 -13 1 0 -37.6 8.8zM1576.4 1922.2a19.1 17.8 -21 1 0 35.7 -13.9a19.1 17.8 -21 1 0 -35.7 13.9zM1632.5 1924.6a19.0 17.7 -30 1 0 33.1 -18.8a19.0 17.7 -30 1 0 -33.1 18.8zM1687.9 1926.6a18.9 17.5 -37 1 0 30.3 -22.8a18.9 17.5 -37 1 0 -30.3 22.8zM1742.3 1928.2a18.9 17.2 -43 1 0 27.6 -25.8a18.9 17.2 -43 1 0 -27.6 25.8zM1820.9 1901.3a18.9 16.9 132 1 0 -25.4 28.0a18.9 16.9 132 1 0 25.4 -28.0zM1871.1 1900.5a18.9 16.5 129 1 0 -23.6 29.5a18.9 16.5 129 1 0 23.6 -29.5zM1920.4 1899.9a18.9 16.2 126 1 0 -22.1 30.7a18.9 16.2 126 1 0 22.1 -30.7zM1968.7 1899.5a18.9 15.8 123 1 0 -20.8 31.5a18.9 15.8 123 1 0 20.8 -31.5zM2015.9 1899.1a18.9 15.4 122 1 0 -19.8 32.2a18.9 15.4 122 1 0 19.8 -32.2zM2061.9 1898.9a18.9 15.0 120 1 0 -18.9 32.8a18.9 15.0 120 1 0 18.9 -32.8zM2106.7 1898.6a18.9 14.5 119 1 0 -18.2 33.2a18.9 14.5 119 1 0 18.2 -33.2zM2650.2 1897.2a19.1 1.1 109 1 0 -12.5 36.0a19.1 1.1 109 1 0 12.5 -36.0zM2652.2 1897.2a19.1 0.3 109 1 0 -12.5 36.0a19.1 0.3 109 1 0 12.5 -36.0z"/>
<path d="M223.2 1944.5a19.0 3.6 68 1 0 14.1 35.3a19.0 3.6 68 1 0 -14.1 -35.3zM235.7 1944.5a19.0 4.4 68 1 0 14.2 35.2a19.0 4.4 68 1 0 -14.2 -35.2zM250.5 1944.5a19.0 5.1 68 1 0 14.3 35.2a19.0 5.1 68 1 0 -14.3 -35.2zM267.4 1944.5a19.0 5.8 68 1 0 14.4 35.1a19.0 5.8 68 1 0 -14.4 -35.1zM286.5 1944.6a19.0 6.5 67 1 0 14.6 35.0a19.0 6.5 67 1 0 -14.6 -35.0zM307.7 1944.6a19.0 7.1 67 1 0 14.8 34.9a19.0 7.1 67 1 0 -14.8 -34.9zM330.9 1944.7a19.0 7.8 67 1 0 15.0 34.8a19.0 7.8 67 1 0 -15.0 -34.8zM356.0 1944.7a19.0 8.4 66 1 0 15.2 34.7a19.0 8.4 66 1 0 -15.2 -34.7zM383.2 1944.8a18.9 9.0 66 1 0 15.4 34.6a18.9 9.0 66 1 0 -15.4 -34.6zM412.1 1944.9a18.9 9.6 66 1 0 15.7 34.5a18.9 9.6 66 1 0 -15.7 -34.5zM1462.2 1964.3a19.2 17.7 -7 1 0 38.2 -4.5a19.2 17.7 -7 1 0 -38.2 4.5zM1518.4 1966.6a19.0 17.6 -14 1 0 37.0 -9.1a19.0 17.6 -14 1 0 -37.0 9.1zM1574.2 1969.1a18.9 17.5 -22 1 0 35.1 -14.0a18.9 17.5 -22 1 0 -35.1 14.0zM1629.5 1971.4a18.8 17.3 -30 1 0 32.7 -18.6a18.8 17.3 -30 1 0 -32.7 18.6zM1683.9 1973.2a18.7 17.1 -36 1 0 30.2 -22.3a18.7 17.1 -36 1 0 -30.2 22.3zM1737.4 1974.6a18.7 16.8 -42 1 0 27.9 -25.0a18.7 16.8 -42 1 0 -27.9 25.0zM1815.7 1948.6a18.7 16.5 134 1 0 -25.9 27.0a18.7 16.5 134 1 0 25.9 -27.0zM1865.3 1947.8a18.7 16.2 130 1 0 -24.3 28.5a18.7 16.2 130 1 0 24.3 -28.5zM1913.9 1947.3a18.7 15.8 128 1 0 -22.9 29.6a18.7 15.8 128 1 0 22.9 -29.6zM1961.6 1946.8a18.7 15.4 126 1 0 -21.8 30.5a18.7 15.4 126 1 0 21.8 -30.5zM2008.2 1946.5a18.8 15.0 124 1 0 -20.9 31.2a18.8 15.0 124 1 0 20.9 -31.2zM2053.6 1946.2a18.8 14.6 122 1 0 -20.1 31.7a18.8 14.6 122 1 0 20.1 -31.7zM2633.6 1944.4a19.0 1.1 111 1 0 -13.8 35.4a19.0 1.1 111 1 0 13.8 -35.4zM2635.7 1944.4a19.0 0.2 111 1 0 -13.8 35.4a19.0 0.2 111 1 0 13.8 -35.4z"/>
<path d="M241.1 1990.8a18.9 3.5 66 1 0 15.4 34.6a18.9 3.5 66 1 0 -15.4 -34.6zM253.5 1990.8a18.9 4.2 66 1 0 15.5 34.5a18.9 4.2 66 1 0 -15.5 -34.5zM268.0 1990.8a18.9 4.9 66 1 0 15.6 34.5a18.9 4.9 66 1 0 -15.6 -34.5zM284.6 1990.9a18.9 5.6 65 1 0 15.8 34.4a18.9 5.6 65 1 0 -15.8 -34.4zM303.4 1990.9a18.9 6.3 65 1 0 15.9 34.3a18.9 6.3 65 1 0 -15.9 -34.3zM324.3 1991.0a18.9 6.9 65 1 0 16.1 34.2a18.9 6.9 65 1 0 -16.1 -34.2zM347.1 1991.0a18.9 7.5 64 1 0 16.3 34.1a18.9 7.5 64 1 0 -16.3 -34.1zM371.9 1991.1a18.9 8.2 64 1 0 16.5 34.0a18.9 8.2 64 1 0 -16.5 -34.0zM398.6 1991.2a18.9 8.8 64 1 0 16.7 33.8a18.9 8.8 64 1 0 -16.7 -33.8zM427.1 1991.2a18.9 9.3 63 1 0 17.0 33.7a18.9 9.3 63 1 0 -17.0 -33.7zM457.4 1991.3a18.8 9.9 63 1 0 17.2 33.5a18.8 9.9 63 1 0 -17.2 -33.5zM489.5 1991.4a18.8 10.5 62 1 0 17.5 33.3a18.8 10.5 62 1 0 -17.5 -33.3zM523.3 1991.5a18.8 11.0 62 1 0 17.9 33.1a18.8 11.0 62 1 0 -17.9 -33.1zM558.7 1991.7a18.8 11.5 61 1 0 18.2 32.9a18.8 11.5 61 1 0 -18.2 -32.9zM1516.8 2012.8a18.8 17.3 -14 1 0 36.3 -9.4a18.8 17.3 -14 1 0 -36.3 9.4zM1571.8 2015.2a18.6 17.1 -22 1 0 34.5 -14.2a18.6 17.1 -22 1 0 -34.5 14.2zM1626.1 2017.3a18.6 16.9 -30 1 0 32.2 -18.5a18.6 16.9 -30 1 0 -32.2 18.5zM1679.6 2019.0a18.5 16.7 -36 1 0 29.9 -21.8a18.5 16.7 -36 1 0 -29.9 21.8zM1732.2 2020.2a18.5 16.4 -41 1 0 27.9 -24.3a18.5 16.4 -41 1 0 -27.9 24.3zM1809.8 1995.0a18.5 16.1 135 1 0 -26.2 26.2a18.5 16.1 135 1 0 26.2 -26.2zM1858.7 1994.3a18.5 15.8 132 1 0 -24.8 27.6a18.5 15.8 132 1 0 24.8 -27.6zM1906.6 1993.7a18.6 15.4 129 1 0 -23.6 28.7a18.6 15.4 129 1 0 23.6 -28.7zM1953.6 1993.3a18.6 15.0 127 1 0 -22.6 29.5a18.6 15.0 127 1 0 22.6 -29.5zM1999.5 1993.0a18.6 14.6 126 1 0 -21.8 30.2a18.6 14.6 126 1 0 21.8 -30.2zM2044.2 1992.7a18.6 14.2 124 1 0 -21.0 30.8a18.6 14.2 124 1 0 21.0 -30.8zM2615.3 1990.7a18.9 1.0 114 1 0 -15.1 34.7a18.9 1.0 114 1 0 15.1 -34.7zM2617.4 1990.7a18.9 0.2 114 1 0 -15.1 34.7a18.9 0.2 114 1 0 15.1 -34.7z"/>
<path d="M260.8 2036.2a18.9 3.4 64 1 0 16.7 33.9a18.9 3.4 64 1 0 -16.7 -33.9zM272.8 2036.3a18.9 4.1 64 1 0 16.8 33.8a18.9 4.1 64 1 0 -16.8 -33.8zM287.1 2036.3a18.9 4.8 63 1 0 16.9 33.7a18.9 4.8 63 1 0 -16.9 -33.7zM303.5 2036.3a18.9 5.4 63 1 0 17.0 33.6a18.9 5.4 63 1 0 -17.0 -33.6zM322.0 2036.4a18.8 6.1 63 1 0 17.2 33.6a18.8 6.1 63 1 0 -17.2 -33.6zM342.4 2036.4a18.8 6.7 63 1 0 17.3 33.4a18.8 6.7 63 1 0 -17.3 -33.4zM364.9 2036.5a18.8 7.3 62 1 0 17.5 33.3a18.8 7.3 62 1 0 -17.5 -33.3zM389.2 2036.6a18.8 7.9 62 1 0 17.7 33.2a18.8 7.9 62 1 0 -17.7 -33.2zM415.5 2036.6a18.8 8.5 62 1 0 17.9 33.0a18.8 8.5 62 1 0 -17.9 -33.0zM443.5 2036.7a18.8 9.0 61 1 0 18.2 32.9a18.8 9.0 61 1 0 -18.2 -32.9zM473.3 2036.8a18.8 9.6 61 1 0 18.4 32.7a18.8 9.6 61 1 0 -18.4 -32.7zM504.9 2036.9a18.7 10.1 60 1 0 18.7 32.5a18.7 10.1 60 1 0 -18.7 -32.5zM538.1 2037.0a18.7 10.6 60 1 0 19.0 32.2a18.7 10.6 60 1 0 -19.0 -32.2zM572.8 2037.2a18.7 11.2 59 1 0 19.3 32.0a18.7 11.2 59 1 0 -19.3 -32.0zM609.2 2037.3a18.6 11.7 58 1 0 19.6 31.7a18.6 11.7 58 1 0 -19.6 -31.7zM647.0 2037.5a18.6 12.1 57 1 0 20.0 31.4a18.6 12.1 57 1 0 -20.0 -31.4zM1569.1 2060.3a18.3 16.7 -23 1 0 33.8 -14.4a18.3 16.7 -23 1 0 -33.8 14.4zM1622.5 2062.3a18.3 16.5 -30 1 0 31.7 -18.4a18.3 16.5 -30 1 0 -31.7 18.4zM1675.0 2063.9a18.3 16.3 -36 1 0 29.6 -21.4a18.3 16.3 -36 1 0 -29.6 21.4zM1726.5 2065.0a18.3 16.0 -40 1 0 27.8 -23.7a18.3 16.0 -40 1 0 -27.8 23.7zM1803.2 2040.4a18.3 15.7 136 1 0 -26.3 25.5a18.3 15.7 136 1 0 26.3 -25.5zM1851.4 2039.8a18.3 15.3 133 1 0 -25.1 26.8a18.3 15.3 133 1 0 25.1 -26.8zM1898.6 2039.3a18.4 15.0 131 1 0 -24.0 27.8a18.4 15.0 131 1 0 24.0 -27.8zM1944.8 2038.9a18.4 14.6 129 1 0 -23.2 28.6a18.4 14.6 129 1 0 23.2 -28.6zM1989.9 2038.5a18.4 14.2 127 1 0 -22.4 29.3a18.4 14.2 127 1 0 22.4 -29.3zM2595.3 2036.2a18.9 1.0 116 1 0 -16.4 34.0a18.9 1.0 116 1 0 16.4 -34.0zM2597.3 2036.2a18.9 0.2 116 1 0 -16.4 34.0a18.9 0.2 116 1 0 16.4 -34.0z"/>
<path d="M282.0 2080.7a18.8 3.3 62 1 0 17.9 33.1a18.8 3.3 62 1 0 -17.9 -33.1zM293.9 2080.8a18.8 3.9 61 1 0 18.0 33.1a18.8 3.9 61 1 0 -18.0 -33.1zM307.9 2080.8a18.8 4.6 61 1 0 18.1 33.0a18.8 4.6 61 1 0 -18.1 -33.0zM323.9 2080.9a18.8 5.2 61 1 0 18.2 32.9a18.8 5.2 61 1 0 -18.2 -32.9zM342.1 2080.9a18.8 5.8 61 1 0 18.4 32.8a18.8 5.8 61 1 0 -18.4 -32.8zM362.1 2081.0a18.8 6.4 60 1 0 18.5 32.7a18.8 6.4 60 1 0 -18.5 -32.7zM384.2 2081.0a18.8 7.0 60 1 0 18.7 32.5a18.8 7.0 60 1 0 -18.7 -32.5zM408.1 2081.1a18.7 7.6 60 1 0 18.9 32.4a18.7 7.6 60 1 0 -18.9 -32.4zM433.8 2081.2a18.7 8.2 59 1 0 19.1 32.2a18.7 8.2 59 1 0 -19.1 -32.2zM461.3 2081.3a18.7 8.7 59 1 0 19.3 32.0a18.7 8.7 59 1 0 -19.3 -32.0zM490.6 2081.4a18.7 9.2 59 1 0 19.5 31.8a18.7 9.2 59 1 0 -19.5 -31.8zM521.5 2081.5a18.6 9.8 58 1 0 19.7 31.6a18.6 9.8 58 1 0 -19.7 -31.6zM554.1 2081.6a18.6 10.3 58 1 0 20.0 31.4a18.6 10.3 58 1 0 -20.0 -31.4zM588.3 2081.7a18.6 10.8 57 1 0 20.3 31.1a18.6 10.8 57 1 0 -20.3 -31.1zM623.9 2081.9a18.5 11.3 56 1 0 20.6 30.8a18.5 11.3 56 1 0 -20.6 -30.8zM661.1 2082.1a18.5 11.7 56 1 0 20.9 30.5a18.5 11.7 56 1 0 -20.9 -30.5zM699.6 2082.2a18.4 12.2 55 1 0 21.2 30.2a18.4 12.2 55 1 0 -21.2 -30.2zM1566.2 2104.6a18.0 16.4 -24 1 0 33.0 -14.5a18.0 16.4 -24 1 0 -33.0 14.5zM1618.5 2106.4a18.0 16.1 -30 1 0 31.0 -18.2a18.0 16.1 -30 1 0 -31.0 18.2zM1670.0 2107.9a18.0 15.9 -36 1 0 29.2 -21.1a18.0 15.9 -36 1 0 -29.2 21.1zM1720.4 2108.9a18.0 15.6 -40 1 0 27.6 -23.2a18.0 15.6 -40 1 0 -27.6 23.2zM1796.1 2084.9a18.1 15.2 137 1 0 -26.3 24.8a18.1 15.2 137 1 0 26.3 -24.8zM1843.4 2084.3a18.1 14.9 134 1 0 -25.2 26.0a18.1 14.9 134 1 0 25.2 -26.0zM1889.7 2083.8a18.2 14.5 132 1 0 -24.3 27.0a18.2 14.5 132 1 0 24.3 -27.0zM1935.1 2083.4a18.2 14.2 130 1 0 -23.6 27.8a18.2 14.2 130 1 0 23.6 -27.8zM1979.4 2083.1a18.3 13.8 129 1 0 -23.0 28.4a18.3 13.8 129 1 0 23.0 -28.4zM2573.6 2080.7a18.8 1.0 118 1 0 -17.7 33.3a18.8 1.0 118 1 0 17.7 -33.3zM2575.6 2080.7a18.8 0.2 118 1 0 -17.7 33.3a18.8 0.2 118 1 0 17.7 -33.3z"/>
<path d="M316.5 2124.3a18.8 3.8 59 1 0 19.2 32.3a18.8 3.8 59 1 0 -19.2 -32.3zM330.2 2124.4a18.8 4.4 59 1 0 19.3 32.2a18.8 4.4 59 1 0 -19.3 -32.2zM346.0 2124.4a18.8 5.0 59 1 0 19.4 32.1a18.8 5.0 59 1 0 -19.4 -32.1zM363.7 2124.5a18.7 5.6 59 1 0 19.5 32.0a18.7 5.6 59 1 0 -19.5 -32.0zM383.4 2124.5a18.7 6.2 58 1 0 19.7 31.9a18.7 6.2 58 1 0 -19.7 -31.9zM405.0 2124.6a18.7 6.7 58 1 0 19.8 31.7a18.7 6.7 58 1 0 -19.8 -31.7zM428.4 2124.7a18.7 7.3 58 1 0 19.9 31.6a18.7 7.3 58 1 0 -19.9 -31.6zM453.6 2124.8a18.6 7.8 57 1 0 20.1 31.4a18.6 7.8 57 1 0 -20.1 -31.4zM480.6 2124.9a18.6 8.4 57 1 0 20.3 31.2a18.6 8.4 57 1 0 -20.3 -31.2zM509.2 2125.0a18.6 8.9 57 1 0 20.5 31.0a18.6 8.9 57 1 0 -20.5 -31.0zM539.5 2125.1a18.5 9.4 56 1 0 20.7 30.8a18.5 9.4 56 1 0 -20.7 -30.8zM571.4 2125.2a18.5 9.9 56 1 0 20.9 30.5a18.5 9.9 56 1 0 -20.9 -30.5zM604.9 2125.3a18.4 10.4 55 1 0 21.1 30.3a18.4 10.4 55 1 0 -21.1 -30.3zM639.8 2125.5a18.4 10.8 55 1 0 21.4 30.0a18.4 10.8 55 1 0 -21.4 -30.0zM676.2 2125.7a18.4 11.3 54 1 0 21.6 29.6a18.4 11.3 54 1 0 -21.6 -29.6zM714.0 2125.8a18.3 11.8 53 1 0 21.9 29.3a18.3 11.8 53 1 0 -21.9 -29.3zM1563.2 2147.8a17.7 15.9 -24 1 0 32.2 -14.6a17.7 15.9 -24 1 0 -32.2 14.6zM1614.3 2149.5a17.7 15.7 -31 1 0 30.4 -18.1a17.7 15.7 -31 1 0 -30.4 18.1zM1664.6 2150.8a17.7 15.4 -36 1 0 28.7 -20.8a17.7 15.4 -36 1 0 -28.7 20.8zM1713.9 2151.8a17.8 15.1 -40 1 0 27.3 -22.7a17.8 15.1 -40 1 0 -27.3 22.7zM1788.4 2128.4a17.8 14.8 137 1 0 -26.2 24.1a17.8 14.8 137 1 0 26.2 -24.1zM1834.7 2127.8a17.9 14.4 135 1 0 -25.3 25.3a17.9 14.4 135 1 0 25.3 -25.3zM1880.2 2127.4a17.9 14.1 133 1 0 -24.5 26.2a17.9 14.1 133 1 0 24.5 -26.2zM1924.7 2127.0a18.0 13.7 132 1 0 -23.9 26.9a18.0 13.7 132 1 0 23.9 -26.9zM1968.1 2126.7a18.1 13.3 130 1 0 -23.4 27.6a18.1 13.3 130 1 0 23.4 -27.6z"/>
<path d="M340.7 2166.9a18.7 3.6 57 1 0 20.4 31.5a18.7 3.6 57 1 0 -20.4 -31.5zM354.1 2166.9a18.7 4.2 57 1 0 20.5 31.4a18.7 4.2 57 1 0 -20.5 -31.4zM369.5 2167.0a18.7 4.8 57 1 0 20.5 31.3a18.7 4.8 57 1 0 -20.5 -31.3zM386.9 2167.0a18.7 5.3 56 1 0 20.6 31.2a18.7 5.3 56 1 0 -20.6 -31.2zM406.1 2167.1a18.7 5.9 56 1 0 20.7 31.0a18.7 5.9 56 1 0 -20.7 -31.0zM427.2 2167.2a18.6 6.4 56 1 0 20.9 30.9a18.6 6.4 56 1 0 -20.9 -30.9zM450.1 2167.3a18.6 7.0 56 1 0 21.0 30.7a18.6 7.0 56 1 0 -21.0 -30.7zM474.8 2167.3a18.6 7.5 55 1 0 21.1 30.5a18.6 7.5 55 1 0 -21.1 -30.5zM501.1 2167.4a18.5 8.0 55 1 0 21.2 30.3a18.5 8.0 55 1 0 -21.2 -30.3zM529.2 2167.5a18.5 8.5 55 1 0 21.4 30.1a18.5 8.5 55 1 0 -21.4 -30.1zM558.8 2167.7a18.4 9.0 54 1 0 21.5 29.9a18.4 9.0 54 1 0 -21.5 -29.9zM590.0 2167.8a18.4 9.5 54 1 0 21.7 29.7a18.4 9.5 54 1 0 -21.7 -29.7zM622.7 2167.9a18.3 10.0 53 1 0 21.9 29.4a18.3 10.0 53 1 0 -21.9 -29.4zM656.9 2168.1a18.3 10.4 53 1 0 22.1 29.1a18.3 10.4 53 1 0 -22.1 -29.1zM692.5 2168.2a18.2 10.9 52 1 0 22.3 28.8a18.2 10.9 52 1 0 -22.3 -28.8zM1559.9 2190.0a17.3 15.5 -25 1 0 31.4 -14.7a17.3 15.5 -25 1 0 -31.4 14.7zM1609.8 2191.6a17.4 15.3 -31 1 0 29.7 -18.0a17.4 15.3 -31 1 0 -29.7 18.0zM1658.9 2192.8a17.4 15.0 -36 1 0 28.2 -20.4a17.4 15.0 -36 1 0 -28.2 20.4zM1707.0 2193.7a17.5 14.7 -39 1 0 27.0 -22.2a17.5 14.7 -39 1 0 -27.0 22.2zM1780.1 2170.8a17.5 14.3 138 1 0 -26.0 23.5a17.5 14.3 138 1 0 26.0 -23.5zM1825.5 2170.3a17.6 14.0 136 1 0 -25.2 24.6a17.6 14.0 136 1 0 25.2 -24.6zM1870.0 2169.9a17.7 13.6 134 1 0 -24.6 25.4a17.7 13.6 134 1 0 24.6 -25.4zM1913.5 2169.5a17.8 13.2 133 1 0 -24.1 26.2a17.8 13.2 133 1 0 24.1 -26.2zM1956.0 2169.2a17.9 12.8 131 1 0 -23.7 26.8a17.9 12.8 131 1 0 23.7 -26.8z"/>
<path d="M366.4 2208.4a18.7 3.4 55 1 0 21.5 30.6a18.7 3.4 55 1 0 -21.5 -30.6zM379.5 2208.4a18.7 4.0 55 1 0 21.6 30.5a18.7 4.0 55 1 0 -21.6 -30.5zM394.6 2208.5a18.7 4.5 55 1 0 21.6 30.4a18.7 4.5 55 1 0 -21.6 -30.4zM411.5 2208.5a18.6 5.1 54 1 0 21.7 30.3a18.6 5.1 54 1 0 -21.7 -30.3zM430.3 2208.6a18.6 5.6 54 1 0 21.8 30.2a18.6 5.6 54 1 0 -21.8 -30.2zM450.9 2208.7a18.6 6.1 54 1 0 21.9 30.0a18.6 6.1 54 1 0 -21.9 -30.0zM473.2 2208.7a18.5 6.6 54 1 0 21.9 29.9a18.5 6.6 54 1 0 -21.9 -29.9zM497.3 2208.8a18.5 7.2 53 1 0 22.0 29.7a18.5 7.2 53 1 0 -22.0 -29.7zM523.0 2208.9a18.4 7.6 53 1 0 22.1 29.5a18.4 7.6 53 1 0 -22.1 -29.5zM550.4 2209.0a18.4 8.1 53 1 0 22.2 29.3a18.4 8.1 53 1 0 -22.2 -29.3zM579.3 2209.2a18.3 8.6 52 1 0 22.3 29.0a18.3 8.6 52 1 0 -22.3 -29.0zM609.8 2209.3a18.3 9.1 52 1 0 22.5 28.8a18.3 9.1 52 1 0 -22.5 -28.8zM641.7 2209.4a18.2 9.5 52 1 0 22.6 28.5a18.2 9.5 52 1 0 -22.6 -28.5zM675.1 2209.6a18.1 10.0 51 1 0 22.7 28.2a18.1 10.0 51 1 0 -22.7 -28.2zM709.8 2209.7a18.0 10.4 51 1 0 22.9 27.9a18.0 10.4 51 1 0 -22.9 -27.9zM1605.0 2232.6a17.0 14.8 -32 1 0 28.9 -17.8a17.0 14.8 -32 1 0 -28.9 17.8zM1652.8 2233.7a17.1 14.5 -36 1 0 27.6 -20.1a17.1 14.5 -36 1 0 -27.6 20.1zM1699.7 2234.5a17.1 14.2 -39 1 0 26.5 -21.7a17.1 14.2 -39 1 0 -26.5 21.7zM1745.6 2235.1a17.2 13.8 -42 1 0 25.7 -22.9a17.2 13.8 -42 1 0 -25.7 22.9zM1815.6 2211.7a17.3 13.5 136 1 0 -25.1 23.9a17.3 13.5 136 1 0 25.1 -23.9zM1859.1 2211.3a17.4 13.1 135 1 0 -24.6 24.7a17.4 13.1 135 1 0 24.6 -24.7zM1901.6 2211.0a17.5 12.7 134 1 0 -24.2 25.4a17.5 12.7 134 1 0 24.2 -25.4zM1943.1 2210.7a17.6 12.4 133 1 0 -23.9 26.0a17.6 12.4 133 1 0 23.9 -26.0zM2133.6 2209.7a18.1 10.3 129 1 0 -22.8 28.0a18.1 10.3 129 1 0 22.8 -28.0z"/>
<path d="M406.4 2248.8a18.7 3.8 53 1 0 22.6 29.7a18.7 3.8 53 1 0 -22.6 -29.7zM421.0 2248.9a18.6 4.3 53 1 0 22.7 29.6a18.6 4.3 53 1 0 -22.7 -29.6zM437.5 2248.9a18.6 4.8 52 1 0 22.7 29.4a18.6 4.8 52 1 0 -22.7 -29.4zM455.8 2249.0a18.5 5.3 52 1 0 22.8 29.3a18.5 5.3 52 1 0 -22.8 -29.3zM475.9 2249.1a18.5 5.8 52 1 0 22.8 29.1a18.5 5.8 52 1 0 -22.8 -29.1zM497.7 2249.1a18.5 6.3 52 1 0 22.9 29.0a18.5 6.3 52 1 0 -22.9 -29.0zM521.1 2249.2a18.4 6.8 52 1 0 22.9 28.8a18.4 6.8 52 1 0 -22.9 -28.8zM546.2 2249.3a18.3 7.3 51 1 0 23.0 28.6a18.3 7.3 51 1 0 -23.0 -28.6zM572.8 2249.4a18.3 7.7 51 1 0 23.0 28.4a18.3 7.7 51 1 0 -23.0 -28.4zM601.0 2249.6a18.2 8.2 51 1 0 23.1 28.2a18.2 8.2 51 1 0 -23.1 -28.2zM630.7 2249.7a18.1 8.6 50 1 0 23.1 27.9a18.1 8.6 50 1 0 -23.1 -27.9zM661.8 2249.8a18.0 9.1 50 1 0 23.2 27.7a18.0 9.1 50 1 0 -23.2 -27.7zM694.3 2250.0a18.0 9.5 50 1 0 23.3 27.4a18.0 9.5 50 1 0 -23.3 -27.4zM1552.7 2271.0a16.6 14.6 -27 1 0 29.6 -14.8a16.6 14.6 -27 1 0 -29.6 14.8zM1600.0 2272.5a16.6 14.3 -32 1 0 28.1 -17.7a16.6 14.3 -32 1 0 -28.1 17.7zM1646.4 2273.5a16.7 14.0 -36 1 0 27.0 -19.7a16.7 14.0 -36 1 0 -27.0 19.7zM1692.0 2274.2a16.8 13.7 -39 1 0 26.1 -21.2a16.8 13.7 -39 1 0 -26.1 21.2zM1736.6 2274.8a16.9 13.3 -41 1 0 25.4 -22.3a16.9 13.3 -41 1 0 -25.4 22.3zM1805.2 2252.0a17.0 13.0 137 1 0 -24.9 23.3a17.0 13.0 137 1 0 24.9 -23.3zM1847.5 2251.6a17.2 12.6 136 1 0 -24.5 24.0a17.2 12.6 136 1 0 24.5 -24.0zM1888.9 2251.3a17.3 12.2 135 1 0 -24.2 24.6a17.3 12.2 135 1 0 24.2 -24.6zM1929.4 2251.1a17.4 11.9 134 1 0 -24.0 25.2a17.4 11.9 134 1 0 24.0 -25.2zM2114.9 2250.1a17.9 9.8 131 1 0 -23.3 27.2a17.9 9.8 131 1 0 23.3 -27.2z"/>
<path d="M449.0 2288.1a18.6 4.1 50 1 0 23.7 28.7a18.6 4.1 50 1 0 -23.7 -28.7zM465.0 2288.2a18.5 4.6 50 1 0 23.7 28.5a18.5 4.6 50 1 0 -23.7 -28.5zM482.8 2288.3a18.5 5.0 50 1 0 23.7 28.4a18.5 5.0 50 1 0 -23.7 -28.4zM502.3 2288.3a18.4 5.5 50 1 0 23.7 28.2a18.4 5.5 50 1 0 -23.7 -28.2zM523.4 2288.4a18.4 6.0 50 1 0 23.7 28.1a18.4 6.0 50 1 0 -23.7 -28.1zM546.2 2288.5a18.3 6.4 50 1 0 23.7 27.9a18.3 6.4 50 1 0 -23.7 -27.9zM570.6 2288.6a18.2 6.9 49 1 0 23.7 27.7a18.2 6.9 49 1 0 -23.7 -27.7zM596.5 2288.7a18.2 7.3 49 1 0 23.7 27.5a18.2 7.3 49 1 0 -23.7 -27.5zM623.9 2288.8a18.1 7.8 49 1 0 23.7 27.3a18.1 7.8 49 1 0 -23.7 -27.3zM652.7 2288.9a18.0 8.2 49 1 0 23.7 27.0a18.0 8.2 49 1 0 -23.7 -27.0zM683.0 2289.1a17.9 8.6 48 1 0 23.7 26.8a17.9 8.6 48 1 0 -23.7 -26.8zM714.6 2289.2a17.8 9.1 48 1 0 23.8 26.5a17.8 9.1 48 1 0 -23.8 -26.5zM1548.8 2309.8a16.1 14.1 -27 1 0 28.7 -14.8a16.1 14.1 -27 1 0 -28.7 14.8zM1594.7 2311.2a16.2 13.8 -33 1 0 27.3 -17.5a16.2 13.8 -33 1 0 -27.3 17.5zM1639.7 2312.1a16.3 13.5 -36 1 0 26.3 -19.3a16.3 13.5 -36 1 0 -26.3 19.3zM1683.9 2312.8a16.5 13.2 -39 1 0 25.6 -20.7a16.5 13.2 -39 1 0 -25.6 20.7zM1727.2 2313.3a16.6 12.8 -41 1 0 25.0 -21.7a16.6 12.8 -41 1 0 -25.0 21.7zM1794.2 2291.2a16.7 12.5 138 1 0 -24.7 22.6a16.7 12.5 138 1 0 24.7 -22.6zM1835.3 2290.8a16.9 12.1 136 1 0 -24.4 23.3a16.9 12.1 136 1 0 24.4 -23.3zM1875.6 2290.5a17.0 11.7 135 1 0 -24.2 23.9a17.0 11.7 135 1 0 24.2 -23.9zM1914.9 2290.3a17.1 11.3 135 1 0 -24.0 24.4a17.1 11.3 135 1 0 24.0 -24.4zM2026.6 2289.6a17.5 10.2 133 1 0 -23.8 25.6a17.5 10.2 133 1 0 23.8 -25.6zM2061.6 2289.5a17.6 9.8 132 1 0 -23.8 26.0a17.6 9.8 132 1 0 23.8 -26.0zM2095.3 2289.3a17.7 9.3 132 1 0 -23.8 26.3a17.7 9.3 132 1 0 23.8 -26.3z"/>
<path d="M493.8 2326.3a18.5 4.3 48 1 0 24.6 27.6a18.5 4.3 48 1 0 -24.6 -27.6zM511.1 2326.3a18.4 4.7 48 1 0 24.6 27.5a18.4 4.7 48 1 0 -24.6 -27.5zM530.0 2326.4a18.4 5.2 48 1 0 24.6 27.3a18.4 5.2 48 1 0 -24.6 -27.3zM550.5 2326.5a18.3 5.6 48 1 0 24.5 27.2a18.3 5.6 48 1 0 -24.5 -27.2zM572.6 2326.6a18.2 6.1 48 1 0 24.5 27.0a18.2 6.1 48 1 0 -24.5 -27.0zM596.2 2326.7a18.1 6.5 48 1 0 24.4 26.8a18.1 6.5 48 1 0 -24.4 -26.8zM621.3 2326.8a18.0 6.9 47 1 0 24.4 26.6a18.0 6.9 47 1 0 -24.4 -26.6zM647.9 2326.9a17.9 7.3 47 1 0 24.3 26.4a17.9 7.3 47 1 0 -24.3 -26.4zM675.9 2327.0a17.8 7.8 47 1 0 24.3 26.1a17.8 7.8 47 1 0 -24.3 -26.1zM705.2 2327.1a17.7 8.2 47 1 0 24.2 25.9a17.7 8.2 47 1 0 -24.2 -25.9zM735.8 2327.3a17.6 8.6 47 1 0 24.2 25.6a17.6 8.6 47 1 0 -24.2 -25.6zM1544.7 2347.4a15.7 13.6 -28 1 0 27.7 -14.7a15.7 13.6 -28 1 0 -27.7 14.7zM1589.1 2348.7a15.8 13.3 -33 1 0 26.5 -17.2a15.8 13.3 -33 1 0 -26.5 17.2zM1632.7 2349.5a15.9 13.0 -36 1 0 25.6 -18.9a15.9 13.0 -36 1 0 -25.6 18.9zM1675.4 2350.2a16.1 12.7 -39 1 0 25.0 -20.2a16.1 12.7 -39 1 0 -25.0 20.2zM1717.3 2350.6a16.2 12.3 -41 1 0 24.6 -21.1a16.2 12.3 -41 1 0 -24.6 21.1zM1782.6 2329.1a16.4 11.9 138 1 0 -24.4 21.9a16.4 11.9 138 1 0 24.4 -21.9zM1822.6 2328.8a16.5 11.6 137 1 0 -24.2 22.6a16.5 11.6 137 1 0 24.2 -22.6zM1861.6 2328.5a16.7 11.2 136 1 0 -24.1 23.1a16.7 11.2 136 1 0 24.1 -23.1zM2008.0 2327.7a17.3 9.7 134 1 0 -24.1 24.8a17.3 9.7 134 1 0 24.1 -24.8zM2042.0 2327.5a17.4 9.3 134 1 0 -24.1 25.1a17.4 9.3 134 1 0 24.1 -25.1z"/>
<path d="M523.9 2363.1a18.5 4.0 46 1 0 25.5 26.7a18.5 4.0 46 1 0 -25.5 -26.7zM540.6 2363.2a18.4 4.4 46 1 0 25.4 26.5a18.4 4.4 46 1 0 -25.4 -26.5zM558.9 2363.3a18.3 4.9 46 1 0 25.4 26.4a18.3 4.9 46 1 0 -25.4 -26.4zM578.8 2363.3a18.2 5.3 46 1 0 25.3 26.2a18.2 5.3 46 1 0 -25.3 -26.2zM600.2 2363.4a18.1 5.7 46 1 0 25.2 26.1a18.1 5.7 46 1 0 -25.2 -26.1zM623.0 2363.5a18.0 6.1 46 1 0 25.1 25.9a18.0 6.1 46 1 0 -25.1 -25.9zM647.3 2363.6a17.9 6.5 46 1 0 25.0 25.7a17.9 6.5 46 1 0 -25.0 -25.7zM673.0 2363.7a17.8 6.9 46 1 0 24.9 25.5a17.8 6.9 46 1 0 -24.9 -25.5zM700.1 2363.8a17.7 7.3 46 1 0 24.8 25.2a17.7 7.3 46 1 0 -24.8 -25.2zM728.5 2363.9a17.6 7.7 45 1 0 24.7 25.0a17.6 7.7 45 1 0 -24.7 -25.0zM758.1 2364.1a17.4 8.1 45 1 0 24.5 24.7a17.4 8.1 45 1 0 -24.5 -24.7zM1540.4 2383.8a15.2 13.1 -29 1 0 26.7 -14.6a15.2 13.1 -29 1 0 -26.7 14.6zM1583.3 2384.9a15.4 12.8 -33 1 0 25.6 -16.9a15.4 12.8 -33 1 0 -25.6 16.9zM1625.3 2385.7a15.5 12.5 -37 1 0 24.9 -18.5a15.5 12.5 -37 1 0 -24.9 18.5zM1666.6 2386.3a15.7 12.1 -39 1 0 24.5 -19.6a15.7 12.1 -39 1 0 -24.5 19.6zM1707.0 2386.7a15.9 11.8 -40 1 0 24.2 -20.5a15.9 11.8 -40 1 0 -24.2 20.5zM1770.6 2365.8a16.0 11.4 139 1 0 -24.0 21.2a16.0 11.4 139 1 0 24.0 -21.2zM1809.2 2365.5a16.2 11.0 138 1 0 -23.9 21.8a16.2 11.0 138 1 0 23.9 -21.8zM1847.0 2365.3a16.4 10.7 137 1 0 -23.9 22.4a16.4 10.7 137 1 0 23.9 -22.4zM1988.6 2364.5a17.0 9.1 135 1 0 -24.2 23.9a17.0 9.1 135 1 0 24.2 -23.9zM2021.5 2364.3a17.2 8.8 135 1 0 -24.3 24.3a17.2 8.8 135 1 0 24.3 -24.3z"/>
<path d="M555.4 2398.7a18.4 3.7 44 1 0 26.4 25.7a18.4 3.7 44 1 0 -26.4 -25.7zM571.5 2398.8a18.3 4.1 44 1 0 26.3 25.6a18.3 4.1 44 1 0 -26.3 -25.6zM589.1 2398.8a18.2 4.5 44 1 0 26.1 25.4a18.2 4.5 44 1 0 -26.1 -25.4zM608.3 2398.9a18.1 4.9 44 1 0 26.0 25.3a18.1 4.9 44 1 0 -26.0 -25.3zM628.9 2399.0a18.0 5.3 44 1 0 25.9 25.1a18.0 5.3 44 1 0 -25.9 -25.1zM651.0 2399.1a17.9 5.7 44 1 0 25.7 24.9a17.9 5.7 44 1 0 -25.7 -24.9zM674.4 2399.2a17.8 6.1 44 1 0 25.6 24.8a17.8 6.1 44 1 0 -25.6 -24.8zM699.2 2399.3a17.7 6.5 44 1 0 25.4 24.5a17.7 6.5 44 1 0 -25.4 -24.5zM725.4 2399.4a17.5 6.9 44 1 0 25.2 24.3a17.5 6.9 44 1 0 -25.2 -24.3zM752.7 2399.5a17.4 7.2 44 1 0 25.0 24.1a17.4 7.2 44 1 0 -25.0 -24.1zM1577.2 2419.8a14.9 12.2 -34 1 0 24.7 -16.6a14.9 12.2 -34 1 0 -24.7 16.6zM1617.7 2420.6a15.1 11.9 -37 1 0 24.2 -18.0a15.1 11.9 -37 1 0 -24.2 18.0zM1657.4 2421.1a15.3 11.6 -39 1 0 23.8 -19.1a15.3 11.6 -39 1 0 -23.8 19.1zM1696.3 2421.5a15.5 11.2 -40 1 0 23.7 -19.9a15.5 11.2 -40 1 0 -23.7 19.9zM1758.0 2401.3a15.7 10.8 139 1 0 -23.6 20.5a15.7 10.8 139 1 0 23.6 -20.5zM1795.2 2401.0a15.8 10.5 138 1 0 -23.7 21.1a15.8 10.5 138 1 0 23.7 -21.1zM1831.7 2400.8a16.0 10.1 138 1 0 -23.7 21.6a16.0 10.1 138 1 0 23.7 -21.6zM1968.4 2400.0a16.8 8.6 137 1 0 -24.4 23.1a16.8 8.6 137 1 0 24.4 -23.1zM2000.1 2399.9a16.9 8.2 136 1 0 -24.5 23.4a16.9 8.2 136 1 0 24.5 -23.4z"/>
<path d="M588.0 2433.0a18.4 3.5 42 1 0 27.2 24.7a18.4 3.5 42 1 0 -27.2 -24.7zM603.5 2433.0a18.3 3.8 42 1 0 27.0 24.6a18.3 3.8 42 1 0 -27.0 -24.6zM620.5 2433.1a18.2 4.2 42 1 0 26.9 24.5a18.2 4.2 42 1 0 -26.9 -24.5zM639.0 2433.2a18.0 4.6 42 1 0 26.7 24.3a18.0 4.6 42 1 0 -26.7 -24.3zM658.8 2433.3a17.9 4.9 42 1 0 26.5 24.2a17.9 4.9 42 1 0 -26.5 -24.2zM680.1 2433.3a17.8 5.3 42 1 0 26.3 24.0a17.8 5.3 42 1 0 -26.3 -24.0zM702.6 2433.4a17.7 5.7 42 1 0 26.1 23.8a17.7 5.7 42 1 0 -26.1 -23.8zM726.5 2433.5a17.5 6.0 42 1 0 25.9 23.6a17.5 6.0 42 1 0 -25.9 -23.6zM1570.9 2453.4a14.4 11.7 -34 1 0 23.8 -16.2a14.4 11.7 -34 1 0 -23.8 16.2zM1609.7 2454.1a14.6 11.3 -37 1 0 23.4 -17.5a14.6 11.3 -37 1 0 -23.4 17.5zM1647.8 2454.6a14.8 11.0 -39 1 0 23.2 -18.5a14.8 11.0 -39 1 0 -23.2 18.5zM1685.1 2454.9a15.0 10.6 -40 1 0 23.1 -19.2a15.0 10.6 -40 1 0 -23.1 19.2zM1744.9 2435.4a15.3 10.3 139 1 0 -23.2 19.8a15.3 10.3 139 1 0 23.2 -19.8zM1780.7 2435.2a15.5 9.9 139 1 0 -23.3 20.3a15.5 9.9 139 1 0 23.3 -20.3zM1947.4 2434.2a16.5 8.1 138 1 0 -24.4 22.2a16.5 8.1 138 1 0 24.4 -22.2zM1977.8 2434.1a16.7 7.7 138 1 0 -24.7 22.5a16.7 7.7 138 1 0 24.7 -22.5z"/>
<path d="M621.9 2465.9a18.3 3.2 40 1 0 27.9 23.7a18.3 3.2 40 1 0 -27.9 -23.7zM636.8 2466.0a18.2 3.5 40 1 0 27.8 23.6a18.2 3.5 40 1 0 -27.8 -23.6zM653.1 2466.0a18.1 3.9 40 1 0 27.6 23.4a18.1 3.9 40 1 0 -27.6 -23.4zM670.8 2466.1a18.0 4.2 40 1 0 27.3 23.3a18.0 4.2 40 1 0 -27.3 -23.3zM689.8 2466.2a17.8 4.6 41 1 0 27.1 23.2a17.8 4.6 41 1 0 -27.1 -23.2zM710.2 2466.3a17.7 4.9 41 1 0 26.8 23.0a17.7 4.9 41 1 0 -26.8 -23.0zM731.8 2466.3a17.5 5.2 41 1 0 26.6 22.8a17.5 5.2 41 1 0 -26.6 -22.8zM754.7 2466.4a17.3 5.6 41 1 0 26.3 22.7a17.3 5.6 41 1 0 -26.3 -22.7zM1564.4 2485.7a13.9 11.1 -35 1 0 22.9 -15.8a13.9 11.1 -35 1 0 -22.9 15.8zM1601.5 2486.3a14.1 10.8 -37 1 0 22.6 -17.0a14.1 10.8 -37 1 0 -22.6 17.0zM1637.9 2486.7a14.4 10.4 -38 1 0 22.5 -17.9a14.4 10.4 -38 1 0 -22.5 17.9zM1673.6 2487.0a14.6 10.0 -39 1 0 22.6 -18.5a14.6 10.0 -39 1 0 -22.6 18.5zM1731.3 2468.2a14.9 9.7 140 1 0 -22.7 19.1a14.9 9.7 140 1 0 22.7 -19.1zM1765.7 2468.0a15.1 9.3 140 1 0 -23.0 19.6a15.1 9.3 140 1 0 23.0 -19.6zM1925.6 2467.1a16.2 7.6 139 1 0 -24.5 21.3a16.2 7.6 139 1 0 24.5 -21.3z"/>
<path d="M656.9 2497.5a18.3 2.9 38 1 0 28.7 22.6a18.3 2.9 38 1 0 -28.7 -22.6zM671.2 2497.5a18.2 3.2 38 1 0 28.5 22.5a18.2 3.2 38 1 0 -28.5 -22.5zM686.8 2497.6a18.0 3.5 38 1 0 28.2 22.4a18.0 3.5 38 1 0 -28.2 -22.4zM703.7 2497.6a17.9 3.9 39 1 0 27.9 22.3a17.9 3.9 39 1 0 -27.9 -22.3zM721.9 2497.7a17.7 4.2 39 1 0 27.6 22.2a17.7 4.2 39 1 0 -27.6 -22.2zM741.4 2497.8a17.5 4.5 39 1 0 27.3 22.0a17.5 4.5 39 1 0 -27.3 -22.0zM762.1 2497.9a17.4 4.8 39 1 0 27.0 21.8a17.4 4.8 39 1 0 -27.0 -21.8zM784.0 2498.0a17.2 5.1 39 1 0 26.7 21.7a17.2 5.1 39 1 0 -26.7 -21.7zM1593.0 2517.0a13.7 10.2 -37 1 0 21.8 -16.4a13.7 10.2 -37 1 0 -21.8 16.4zM1627.7 2517.4a13.9 9.8 -38 1 0 21.8 -17.2a13.9 9.8 -38 1 0 -21.8 17.2zM1661.7 2517.7a14.2 9.4 -39 1 0 22.0 -17.8a14.2 9.4 -39 1 0 -22.0 17.8zM1717.3 2499.6a14.4 9.1 140 1 0 -22.3 18.4a14.4 9.1 140 1 0 22.3 -18.4zM1750.2 2499.4a14.7 8.7 140 1 0 -22.6 18.8a14.7 8.7 140 1 0 22.6 -18.8z"/>
<path d="M670.1 2527.5a18.5 2.1 36 1 0 29.9 21.7a18.5 2.1 36 1 0 -29.9 -21.7zM680.9 2527.5a18.4 2.3 36 1 0 29.6 21.7a18.4 2.3 36 1 0 -29.6 -21.7zM693.1 2527.6a18.2 2.6 36 1 0 29.4 21.6a18.2 2.6 36 1 0 -29.4 -21.6zM706.7 2527.6a18.1 2.9 36 1 0 29.1 21.5a18.1 2.9 36 1 0 -29.1 -21.5zM721.5 2527.7a17.9 3.2 37 1 0 28.8 21.4a17.9 3.2 37 1 0 -28.8 -21.4zM737.6 2527.8a17.8 3.5 37 1 0 28.5 21.3a17.8 3.5 37 1 0 -28.5 -21.3zM755.0 2527.8a17.6 3.8 37 1 0 28.2 21.1a17.6 3.8 37 1 0 -28.2 -21.1zM773.5 2527.9a17.4 4.1 37 1 0 27.8 21.0a17.4 4.1 37 1 0 -27.8 -21.0zM793.3 2528.0a17.2 4.4 37 1 0 27.4 20.8a17.2 4.4 37 1 0 -27.4 -20.8zM1584.2 2546.3a13.1 9.6 -37 1 0 21.0 -15.8a13.1 9.6 -37 1 0 -21.0 15.8zM1617.1 2546.6a13.4 9.2 -38 1 0 21.1 -16.5a13.4 9.2 -38 1 0 -21.1 16.5zM1649.4 2546.9a13.7 8.8 -39 1 0 21.4 -17.1a13.7 8.8 -39 1 0 -21.4 17.1zM1702.8 2529.6a14.0 8.5 141 1 0 -21.8 17.6a14.0 8.5 141 1 0 21.8 -17.6z"/>
<path d="M708.5 2556.2a18.5 1.8 34 1 0 30.6 20.6a18.5 1.8 34 1 0 -30.6 -20.6zM718.8 2556.2a18.3 2.1 34 1 0 30.4 20.6a18.3 2.1 34 1 0 -30.4 -20.6zM730.4 2556.2a18.2 2.4 34 1 0 30.1 20.5a18.2 2.4 34 1 0 -30.1 -20.5zM743.2 2556.3a18.0 2.6 34 1 0 29.8 20.4a18.0 2.6 34 1 0 -29.8 -20.4zM757.3 2556.3a17.9 2.9 35 1 0 29.4 20.3a17.9 2.9 35 1 0 -29.4 -20.3zM772.6 2556.4a17.7 3.2 35 1 0 29.1 20.2a17.7 3.2 35 1 0 -29.1 -20.2zM789.1 2556.5a17.5 3.4 35 1 0 28.7 20.1a17.5 3.4 35 1 0 -28.7 -20.1zM806.7 2556.5a17.3 3.7 35 1 0 28.2 19.9a17.3 3.7 35 1 0 -28.2 -19.9zM1575.1 2574.1a12.6 8.9 -37 1 0 20.2 -15.2a12.6 8.9 -37 1 0 -20.2 15.2zM1606.3 2574.4a12.9 8.6 -38 1 0 20.4 -15.8a12.9 8.6 -38 1 0 -20.4 15.8z"/>
<path d="M748.0 2583.3a18.4 1.6 32 1 0 31.3 19.5a18.4 1.6 32 1 0 -31.3 -19.5zM757.7 2583.4a18.3 1.9 32 1 0 31.0 19.4a18.3 1.9 32 1 0 -31.0 -19.4zM768.6 2583.4a18.2 2.1 32 1 0 30.7 19.3a18.2 2.1 32 1 0 -30.7 -19.3zM780.8 2583.4a18.0 2.4 32 1 0 30.4 19.3a18.0 2.4 32 1 0 -30.4 -19.3zM794.1 2583.5a17.8 2.6 33 1 0 30.0 19.2a17.8 2.6 33 1 0 -30.0 -19.2zM808.6 2583.5a17.6 2.8 33 1 0 29.6 19.1a17.6 2.8 33 1 0 -29.6 -19.1zM824.1 2583.6a17.4 3.1 33 1 0 29.1 19.0a17.4 3.1 33 1 0 -29.1 -19.0z"/>
<path d="M788.5 2609.0a18.4 1.4 30 1 0 32.0 18.3a18.4 1.4 30 1 0 -32.0 -18.3zM797.6 2609.0a18.3 1.7 30 1 0 31.7 18.3a18.3 1.7 30 1 0 -31.7 -18.3zM807.9 2609.0a18.1 1.9 30 1 0 31.4 18.2a18.1 1.9 30 1 0 -31.4 -18.2zM819.4 2609.1a17.9 2.1 30 1 0 31.0 18.1a17.9 2.1 30 1 0 -31.0 -18.1zM831.9 2609.1a17.7 2.3 31 1 0 30.5 18.1a17.7 2.3 31 1 0 -30.5 -18.1zM845.5 2609.1a17.5 2.5 31 1 0 30.1 18.0a17.5 2.5 31 1 0 -30.1 -18.0zM860.1 2609.2a17.3 2.7 31 1 0 29.6 17.9a17.3 2.7 31 1 0 -29.6 -17.9z"/>
<path d="M830.0 2633.0a18.4 1.3 28 1 0 32.7 17.1a18.4 1.3 28 1 0 -32.7 -17.1zM838.6 2633.0a18.3 1.4 28 1 0 32.3 17.1a18.3 1.4 28 1 0 -32.3 -17.1zM848.2 2633.1a18.1 1.6 28 1 0 32.0 17.0a18.1 1.6 28 1 0 -32.0 -17.0zM858.9 2633.1a17.9 1.8 28 1 0 31.5 17.0a17.9 1.8 28 1 0 -31.5 -17.0zM870.6 2633.1a17.7 2.0 29 1 0 31.1 16.9a17.7 2.0 29 1 0 -31.1 -16.9zM883.3 2633.2a17.4 2.2 29 1 0 30.6 16.8a17.4 2.2 29 1 0 -30.6 -16.8z"/>
<path d="M872.5 2655.4a18.5 1.1 25 1 0 33.3 15.9a18.5 1.1 25 1 0 -33.3 -15.9zM880.5 2655.5a18.3 1.2 26 1 0 33.0 15.8a18.3 1.2 26 1 0 -33.0 -15.8zM889.4 2655.5a18.1 1.4 26 1 0 32.5 15.8a18.1 1.4 26 1 0 -32.5 -15.8zM899.3 2655.5a17.9 1.6 26 1 0 32.1 15.8a17.9 1.6 26 1 0 -32.1 -15.8zM910.1 2655.5a17.6 1.7 26 1 0 31.6 15.7a17.6 1.7 26 1 0 -31.6 -15.7z"/>
<path d="M915.9 2676.2a18.5 0.9 23 1 0 33.9 14.6a18.5 0.9 23 1 0 -33.9 -14.6zM923.2 2676.2a18.3 1.0 24 1 0 33.5 14.6a18.3 1.0 24 1 0 -33.5 -14.6zM931.5 2676.3a18.1 1.2 24 1 0 33.1 14.6a18.1 1.2 24 1 0 -33.1 -14.6zM940.6 2676.3a17.8 1.3 24 1 0 32.6 14.5a17.8 1.3 24 1 0 -32.6 -14.5zM950.6 2676.3a17.6 1.5 24 1 0 32.0 14.5a17.6 1.5 24 1 0 -32.0 -14.5z"/>
<path d="M949.5 2695.3a18.8 0.5 21 1 0 35.2 13.4a18.8 0.5 21 1 0 -35.2 -13.4zM954.4 2695.3a18.7 0.6 21 1 0 34.9 13.4a18.7 0.6 21 1 0 -34.9 -13.4zM960.2 2695.3a18.5 0.7 21 1 0 34.5 13.3a18.5 0.7 21 1 0 -34.5 -13.3zM966.9 2695.3a18.3 0.9 21 1 0 34.1 13.3a18.3 0.9 21 1 0 -34.1 -13.3zM974.4 2695.4a18.1 1.0 22 1 0 33.6 13.3a18.1 1.0 22 1 0 -33.6 -13.3zM982.7 2695.4a17.8 1.1 22 1 0 33.1 13.3a17.8 1.1 22 1 0 -33.1 -13.3z"/>
<path d="M992.1 2712.7a19.0 0.3 18 1 0 36.1 12.0a19.0 0.3 18 1 0 -36.1 -12.0zM995.7 2712.7a18.9 0.4 19 1 0 35.8 12.0a18.9 0.4 19 1 0 -35.8 -12.0zM1000.1 2712.7a18.7 0.5 19 1 0 35.5 12.0a18.7 0.5 19 1 0 -35.5 -12.0zM1005.3 2712.7a18.5 0.6 19 1 0 35.1 12.0a18.5 0.6 19 1 0 -35.1 -12.0zM1011.3 2712.7a18.3 0.7 19 1 0 34.6 12.0a18.3 0.7 19 1 0 -34.6 -12.0zM1018.1 2712.7a18.1 0.8 19 1 0 34.1 12.0a18.1 0.8 19 1 0 -34.1 -12.0zM1025.6 2712.7a17.8 0.9 20 1 0 33.6 12.0a17.8 0.9 20 1 0 -33.6 -12.0z"/>
<path d="M1037.0 2728.3a19.2 0.2 16 1 0 36.9 10.7a19.2 0.2 16 1 0 -36.9 -10.7zM1039.5 2728.3a19.1 0.3 16 1 0 36.7 10.7a19.1 0.3 16 1 0 -36.7 -10.7zM1042.7 2728.3a19.0 0.3 16 1 0 36.4 10.7a19.0 0.3 16 1 0 -36.4 -10.7zM1046.6 2728.3a18.8 0.4 16 1 0 36.0 10.7a18.8 0.4 16 1 0 -36.0 -10.7zM1051.2 2728.3a18.6 0.5 17 1 0 35.6 10.7a18.6 0.5 17 1 0 -35.6 -10.7zM1056.6 2728.3a18.4 0.5 17 1 0 35.2 10.6a18.4 0.5 17 1 0 -35.2 -10.6zM1062.6 2728.3a18.1 0.6 17 1 0 34.6 10.6a18.1 0.6 17 1 0 -34.6 -10.6zM1069.3 2728.3a17.8 0.7 17 1 0 34.0 10.6a17.8 0.7 17 1 0 -34.0 -10.6z"/>
<path d="M1085.5 2742.1a19.3 0.1 14 1 0 37.5 9.3a19.3 0.1 14 1 0 -37.5 -9.3zM1087.6 2742.1a19.2 0.2 14 1 0 37.2 9.3a19.2 0.2 14 1 0 -37.2 -9.3zM1090.4 2742.1a19.0 0.2 14 1 0 36.9 9.3a19.0 0.2 14 1 0 -36.9 -9.3zM1093.9 2742.1a18.9 0.3 14 1 0 36.6 9.3a18.9 0.3 14 1 0 -36.6 -9.3zM1097.9 2742.1a18.7 0.4 14 1 0 36.2 9.3a18.7 0.4 14 1 0 -36.2 -9.3zM1102.6 2742.1a18.4 0.4 15 1 0 35.7 9.3a18.4 0.4 15 1 0 -35.7 -9.3zM1107.8 2742.1a18.1 0.5 15 1 0 35.1 9.3a18.1 0.5 15 1 0 -35.1 -9.3zM1113.6 2742.2a17.9 0.5 15 1 0 34.5 9.2a17.9 0.5 15 1 0 -34.5 -9.2z"/>
<path d="M1134.7 2754.1a19.4 0.1 12 1 0 38.0 7.9a19.4 0.1 12 1 0 -38.0 -7.9zM1136.6 2754.1a19.3 0.1 12 1 0 37.8 7.9a19.3 0.1 12 1 0 -37.8 -7.9zM1139.0 2754.1a19.1 0.2 12 1 0 37.5 7.9a19.1 0.2 12 1 0 -37.5 -7.9zM1141.9 2754.1a19.0 0.2 12 1 0 37.1 7.9a19.0 0.2 12 1 0 -37.1 -7.9zM1145.3 2754.1a18.7 0.2 12 1 0 36.6 7.8a18.7 0.2 12 1 0 -36.6 -7.8zM1149.3 2754.1a18.5 0.3 12 1 0 36.1 7.8a18.5 0.3 12 1 0 -36.1 -7.8zM1153.8 2754.1a18.2 0.3 12 1 0 35.6 7.8a18.2 0.3 12 1 0 -35.6 -7.8zM1158.7 2754.1a17.9 0.4 13 1 0 34.9 7.8a17.9 0.4 13 1 0 -34.9 -7.8zM1164.1 2754.1a17.6 0.4 13 1 0 34.2 7.8a17.6 0.4 13 1 0 -34.2 -7.8z"/>
<path d="M1184.7 2764.2a19.5 0.1 9 1 0 38.5 6.4a19.5 0.1 9 1 0 -38.5 -6.4zM1186.2 2764.2a19.4 0.1 9 1 0 38.3 6.4a19.4 0.1 9 1 0 -38.3 -6.4zM1188.2 2764.2a19.3 0.1 10 1 0 38.0 6.4a19.3 0.1 10 1 0 -38.0 -6.4zM1190.6 2764.2a19.1 0.1 10 1 0 37.6 6.4a19.1 0.1 10 1 0 -37.6 -6.4zM1193.4 2764.2a18.8 0.2 10 1 0 37.1 6.4a18.8 0.2 10 1 0 -37.1 -6.4zM1196.7 2764.2a18.6 0.2 10 1 0 36.6 6.4a18.6 0.2 10 1 0 -36.6 -6.4zM1200.4 2764.2a18.3 0.2 10 1 0 36.0 6.4a18.3 0.2 10 1 0 -36.0 -6.4zM1204.4 2764.2a18.0 0.2 10 1 0 35.3 6.4a18.0 0.2 10 1 0 -35.3 -6.4zM1208.9 2764.2a17.6 0.3 10 1 0 34.6 6.4a17.6 0.3 10 1 0 -34.6 -6.4zM1213.7 2764.2a17.2 0.3 11 1 0 33.8 6.4a17.2 0.3 11 1 0 -33.8 -6.4zM1219.0 2764.2a16.8 0.3 11 1 0 33.0 6.4a16.8 0.3 11 1 0 -33.0 -6.4z"/></g>
<rect id="labelmask" x="433" y="1282" width="1965" height="205" fill="#fff"/>
<g id="bars">
<rect x="456.0" y="1225.0" width="197.0" height="60" rx="30" ry="30" fill="#72265f"/>
<rect x="456.0" y="1477.0" width="197.0" height="319.2" rx="30" ry="30" fill="#72265f"/>
<rect x="671.5" y="985.0" width="197.0" height="300" rx="30" ry="30" fill="#5c9087"/>
<rect x="671.5" y="1477.0" width="197.0" height="382.8" rx="30" ry="30" fill="#5c9087"/>
<rect x="887.0" y="385.0" width="197.0" height="900" rx="30" ry="30" fill="#e53c2b"/>
<rect x="887.0" y="1477.0" width="197.0" height="688.2" rx="30" ry="30" fill="#e53c2b"/>
<rect x="1102.5" y="985.0" width="197.0" height="300" rx="30" ry="30" fill="#3ba4c8"/>
<rect x="1102.5" y="1477.0" width="197.0" height="429.6" rx="30" ry="30" fill="#3ba4c8"/>
<rect x="1318.0" y="475.0" width="197.0" height="810" rx="30" ry="30" fill="#006358"/>
<rect x="1318.0" y="1477.0" width="197.0" height="765.0" rx="30" ry="30" fill="#006358"/>
<rect x="1533.5" y="1045.0" width="197.0" height="240" rx="30" ry="30" fill="#f0862d"/>
<rect x="1533.5" y="1477.0" width="197.0" height="170.4" rx="30" ry="30" fill="#f0862d"/>
<rect x="1749.0" y="475.0" width="197.0" height="810" rx="30" ry="30" fill="#92c3dc"/>
<rect x="1749.0" y="1477.0" width="197.0" height="465.0" rx="30" ry="30" fill="#92c3dc"/>
<rect x="1964.5" y="895.0" width="197.0" height="390" rx="30" ry="30" fill="#a06a92"/>
<rect x="1964.5" y="1477.0" width="197.0" height="417.0" rx="30" ry="30" fill="#a06a92"/>
<rect x="2180.0" y="1195.0" width="197.0" height="90" rx="30" ry="30" fill="#82b83d"/>
<rect x="2180.0" y="1477.0" width="197.0" height="218.4" rx="30" ry="30" fill="#82b83d"/>
</g>
<g id="nums" font-size="56" fill="#161616" text-anchor="middle" letter-spacing="1.6">
<text transform="translate(555.3 1213.0) scale(0.96 1)">2</text>
<text transform="translate(555.3 1860.2) scale(0.96 1)">532</text>
<text transform="translate(770.8 973.0) scale(0.96 1)">10</text>
<text transform="translate(770.8 1923.8) scale(0.96 1)">638</text>
<text transform="translate(986.3 373.0) scale(0.96 1)">30</text>
<text transform="translate(986.3 2229.2) scale(0.96 1)">1,147</text>
<text transform="translate(1201.8 973.0) scale(0.96 1)">10</text>
<text transform="translate(1201.8 1970.6) scale(0.96 1)">716</text>
<text transform="translate(1417.3 463.0) scale(0.96 1)">27</text>
<text transform="translate(1417.3 2306.0) scale(0.96 1)">1,275</text>
<text transform="translate(1632.8 1033.0) scale(0.96 1)">8</text>
<text transform="translate(1632.8 1711.4) scale(0.96 1)">284</text>
<text transform="translate(1848.3 463.0) scale(0.96 1)">27</text>
<text transform="translate(1848.3 2006.0) scale(0.96 1)">775</text>
<text transform="translate(2063.8 883.0) scale(0.96 1)">13</text>
<text transform="translate(2063.8 1958.0) scale(0.96 1)">695</text>
<text transform="translate(2279.3 1183.0) scale(0.96 1)">3</text>
<text transform="translate(2279.3 1759.4) scale(0.96 1)">364</text>
</g>
<g id="labels" font-size="45">
<text id="lab0_0" x="551.50" y="1382.6" fill="#72265f" text-anchor="middle" letter-spacing="0.683">Western</text>
<text id="lab0_1" x="551.00" y="1428.5" fill="#72265f" text-anchor="middle" letter-spacing="1.200">Europe</text>
<text id="lab1_0" x="764.50" y="1349.6" fill="#5c9087" text-anchor="middle" letter-spacing="0.775">Central &amp;</text>
<text id="lab1_1" x="765.50" y="1396.0" fill="#5c9087" text-anchor="middle" letter-spacing="1.132">Eastern</text>
<text id="lab1_2" x="764.50" y="1442.9" fill="#5c9087" text-anchor="middle" letter-spacing="1.100">Europe</text>
<text id="lab2_0" x="982.00" y="1402.9" fill="#e53c2b" text-anchor="middle" letter-spacing="0.550">China</text>
<text id="lab3_0" x="1197.00" y="1401.3" fill="#3ba4c8" text-anchor="middle" letter-spacing="1.250">India</text>
<text id="lab4_0" x="1413.50" y="1377.3" fill="#006358" text-anchor="middle" letter-spacing="1.000">Rest of</text>
<text id="lab4_1" x="1414.50" y="1423.7" fill="#006358" text-anchor="middle" letter-spacing="-0.232">APAC</text>
<text id="lab5_0" x="1634.00" y="1377.3" fill="#f0862d" text-anchor="middle" letter-spacing="2.460">Middle</text>
<text id="lab5_1" x="1632.00" y="1424.2" fill="#f0862d" text-anchor="middle" letter-spacing="0.833">East</text>
<text id="lab6_0" x="1851.50" y="1396.0" fill="#92c3dc" text-anchor="middle" letter-spacing="1.120">Africa</text>
<text id="lab7_0" x="2069.00" y="1381.6" fill="#a06a92" text-anchor="middle" letter-spacing="2.075">Latin</text>
<text id="lab7_1" x="2068.00" y="1428.0" fill="#a06a92" text-anchor="middle" letter-spacing="0.517">America</text>
<text id="lab8_0" x="2286.50" y="1383.7" fill="#82b83d" text-anchor="middle" letter-spacing="2.375">North</text>
<text id="lab8_1" x="2284.50" y="1430.6" fill="#82b83d" text-anchor="middle" letter-spacing="0.768">America</text>
</g>
<text id="t1" x="1415.00" y="182.5" font-size="87.5" fill="#776d6d" text-anchor="middle" word-spacing="9" letter-spacing="-1.767">NET ADDITIONS Q1 2013 (MILLION)</text>
<text id="t2" x="1415.00" y="2513.2" font-size="87.5" fill="#776d6d" text-anchor="middle" word-spacing="9" letter-spacing="-1.279">MOBILE SUBSCRIPTIONS (MILLION)</text>
<text id="src" x="1339.50" y="2846.2" font-size="32" fill="#a8a4a2" text-anchor="middle" letter-spacing="0.385">Source: Ericsson (June 2013)</text>
</svg></body></html>
